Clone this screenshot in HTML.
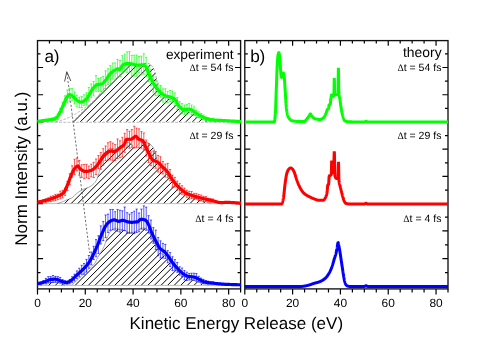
<!DOCTYPE html>
<html><head><meta charset="utf-8"><title>KER spectra</title>
<style>html,body{margin:0;padding:0;background:#fff;}body{width:491px;height:347px;overflow:hidden;}svg{display:block;will-change:transform;}text{font-family:"Liberation Sans",sans-serif;fill:#000;text-rendering:geometricPrecision;}</style>
</head><body>
<svg width="491" height="347" viewBox="0 0 491 347">
<rect x="0" y="0" width="491" height="347" fill="#ffffff"/>
<defs>
<clipPath id="clipA"><rect x="36.9" y="40.6" width="204.3" height="248.3"/></clipPath>
<clipPath id="clipB"><rect x="244.2" y="40.6" width="204.4" height="250.3"/></clipPath>
</defs>
<path d="M37.5 53.9 h3 M240.6 53.9 h-3 M37.5 67.52 h5.6 M240.6 67.52 h-5.6 M37.5 81.14 h3 M240.6 81.14 h-3 M37.5 94.76 h5.6 M240.6 94.76 h-5.6 M37.5 108.38 h3 M240.6 108.38 h-3 M37.5 122 h5.6 M240.6 122 h-5.6 M37.5 135.6 h3 M240.6 135.6 h-3 M37.5 149.22 h5.6 M240.6 149.22 h-5.6 M37.5 162.84 h3 M240.6 162.84 h-3 M37.5 176.46 h5.6 M240.6 176.46 h-5.6 M37.5 190.08 h3 M240.6 190.08 h-3 M37.5 203.7 h5.6 M240.6 203.7 h-5.6 M37.5 217.07 h3 M240.6 217.07 h-3 M37.5 230.94 h5.6 M240.6 230.94 h-5.6 M37.5 244.81 h3 M240.6 244.81 h-3 M37.5 258.68 h5.6 M240.6 258.68 h-5.6 M37.5 272.55 h3 M240.6 272.55 h-3 M244.8 53.9 h3 M448 53.9 h-3 M244.8 67.52 h5.6 M448 67.52 h-5.6 M244.8 81.14 h3 M448 81.14 h-3 M244.8 94.76 h5.6 M448 94.76 h-5.6 M244.8 108.38 h3 M448 108.38 h-3 M244.8 122 h5.6 M448 122 h-5.6 M244.8 135.6 h3 M448 135.6 h-3 M244.8 149.22 h5.6 M448 149.22 h-5.6 M244.8 162.84 h3 M448 162.84 h-3 M244.8 176.46 h5.6 M448 176.46 h-5.6 M244.8 190.08 h3 M448 190.08 h-3 M244.8 203.7 h5.6 M448 203.7 h-5.6 M244.8 217.07 h3 M448 217.07 h-3 M244.8 230.94 h5.6 M448 230.94 h-5.6 M244.8 244.81 h3 M448 244.81 h-3 M244.8 258.68 h5.6 M448 258.68 h-5.6 M244.8 272.55 h3 M448 272.55 h-3 M37.5 288.9 v5.7 M49.45 40.6 v3 M49.45 288.9 v3.6 M61.39 40.6 v3 M61.39 288.9 v3.6 M73.34 40.6 v3 M73.34 288.9 v3.6 M85.29 40.6 v5.2 M85.29 288.9 v5.7 M97.24 40.6 v3 M97.24 288.9 v3.6 M109.18 40.6 v3 M109.18 288.9 v3.6 M121.13 40.6 v3 M121.13 288.9 v3.6 M133.08 40.6 v5.2 M133.08 288.9 v5.7 M145.02 40.6 v3 M145.02 288.9 v3.6 M156.97 40.6 v3 M156.97 288.9 v3.6 M168.92 40.6 v3 M168.92 288.9 v3.6 M180.86 40.6 v5.2 M180.86 288.9 v5.7 M192.81 40.6 v3 M192.81 288.9 v3.6 M204.76 40.6 v3 M204.76 288.9 v3.6 M216.71 40.6 v3 M216.71 288.9 v3.6 M228.65 40.6 v5.2 M228.65 288.9 v5.7 M240.6 288.9 v3.6 M244.8 288.9 v5.7 M256.75 40.6 v3 M256.75 288.9 v3.6 M268.71 40.6 v3 M268.71 288.9 v3.6 M280.66 40.6 v3 M280.66 288.9 v3.6 M292.61 40.6 v5.2 M292.61 288.9 v5.7 M304.56 40.6 v3 M304.56 288.9 v3.6 M316.52 40.6 v3 M316.52 288.9 v3.6 M328.47 40.6 v3 M328.47 288.9 v3.6 M340.42 40.6 v5.2 M340.42 288.9 v5.7 M352.38 40.6 v3 M352.38 288.9 v3.6 M364.33 40.6 v3 M364.33 288.9 v3.6 M376.28 40.6 v3 M376.28 288.9 v3.6 M388.24 40.6 v5.2 M388.24 288.9 v5.7 M400.19 40.6 v3 M400.19 288.9 v3.6 M412.14 40.6 v3 M412.14 288.9 v3.6 M424.09 40.6 v3 M424.09 288.9 v3.6 M436.05 40.6 v5.2 M436.05 288.9 v5.7 M448 288.9 v3.6" fill="none" stroke="#000" stroke-width="1.2"/>
<rect x="37.5" y="40.6" width="203.1" height="248.3" fill="none" stroke="#111" stroke-width="1.35"/>
<rect x="244.8" y="40.6" width="203.2" height="248.3" fill="none" stroke="#111" stroke-width="1.35"/>
<g clip-path="url(#clipA)">
<clipPath id="h1"><path d="M72.8 121.8 L73.8 120.79 L74.8 119.78 L75.8 118.77 L76.8 117.76 L77.8 116.75 L78.8 115.74 L79.8 114.73 L80.8 113.72 L81.8 112.72 L82.8 111.71 L83.8 110.71 L84.8 109.7 L85.8 108.7 L86.8 107.72 L87.8 106.74 L88.8 105.77 L89.8 104.79 L90.8 103.81 L91.8 102.81 L92.8 101.8 L93.8 100.77 L94.8 99.72 L95.8 98.63 L96.8 97.54 L97.8 96.42 L98.8 95.28 L99.8 94.12 L100.8 92.93 L101.8 91.7 L102.8 90.43 L103.8 89.08 L104.8 87.63 L105.8 86.14 L106.8 84.67 L107.8 83.27 L108.8 81.95 L109.8 80.65 L110.8 79.37 L111.8 78.14 L112.8 76.95 L113.8 75.84 L114.8 74.79 L115.8 73.78 L116.8 72.81 L117.8 71.93 L118.8 71.14 L119.8 70.48 L120.8 69.93 L121.8 69.4 L122.8 68.83 L123.8 68.1 L124.8 67.2 L125.8 66.28 L126.8 65.5 L127.8 65.04 L128.8 64.88 L129.8 64.76 L130.8 64.65 L131.8 64.57 L132.8 64.52 L133.8 64.5 L134.8 64.57 L135.8 64.8 L136.8 65.09 L137.8 65.35 L138.8 65.5 L139.8 65.29 L140.8 64.65 L141.8 63.93 L142.8 63.51 L143.8 63.5 L144.8 63.5 L145.8 63.5 L146.8 63.5 L147.8 63.5 L148.8 63.64 L149.8 64.16 L150.8 64.97 L151.8 65.97 L152.8 67.14 L153.8 68.96 L154.8 71.44 L155.8 74.95 L156.8 80.35 L157.8 88 L158.8 90.93 L159.8 92.92 L160.8 94.28 L161.8 95.3 L162.8 96.14 L163.8 96.83 L164.8 97.41 L165.8 97.91 L166.8 98.32 L167.8 98.64 L168.8 98.9 L169.8 99.17 L170.8 99.48 L171.8 99.9 L172.8 100.54 L173.8 101.5 L174.8 102.63 L175.8 103.78 L176.8 104.96 L177.8 106.33 L178.8 107.71 L179.8 108.95 L180.8 109.87 L181.8 110.48 L182.8 111.03 L183.8 111.5 L184.8 111.84 L185.8 112 L186.8 112 L187.8 112 L188.8 112 L189.8 112 L190.8 112 L191.8 112.22 L192.8 112.95 L193.8 113.93 L194.8 114.85 L195.8 115.6 L196.8 116.38 L197.8 117.14 L198.8 117.83 L199.8 118.41 L200.8 118.85 L201.8 119.26 L202.8 119.62 L203.8 119.94 L204.8 120.22 L205.8 120.46 L206.8 120.66 L207.8 120.86 L208.8 121.06 L209.8 121.23 L210.8 121.39 L211.8 121.53 L212.8 121.65 L213.8 121.74 L214.8 121.79 L215 121.8 Z"/></clipPath>
<path d="M13.3 122.8 L73.6 62.5 M19.9 122.8 L80.2 62.5 M26.5 122.8 L86.8 62.5 M33.1 122.8 L93.4 62.5 M39.7 122.8 L100 62.5 M46.3 122.8 L106.6 62.5 M52.9 122.8 L113.2 62.5 M59.5 122.8 L119.8 62.5 M66.1 122.8 L126.4 62.5 M72.7 122.8 L133 62.5 M79.3 122.8 L139.6 62.5 M85.9 122.8 L146.2 62.5 M92.5 122.8 L152.8 62.5 M99.1 122.8 L159.4 62.5 M105.7 122.8 L166 62.5 M112.3 122.8 L172.6 62.5 M118.9 122.8 L179.2 62.5 M125.5 122.8 L185.8 62.5 M132.1 122.8 L192.4 62.5 M138.7 122.8 L199 62.5 M145.3 122.8 L205.6 62.5 M151.9 122.8 L212.2 62.5 M158.5 122.8 L218.8 62.5 M165.1 122.8 L225.4 62.5 M171.7 122.8 L232 62.5 M178.3 122.8 L238.6 62.5 M184.9 122.8 L245.2 62.5 M191.5 122.8 L251.8 62.5 M198.1 122.8 L258.4 62.5 M204.7 122.8 L265 62.5 M211.3 122.8 L271.6 62.5" clip-path="url(#h1)" fill="none" stroke="#000" stroke-width="1.0"/>
<path d="M72.8 121.8 L73.8 120.79 L74.8 119.78 L75.8 118.77 L76.8 117.76 L77.8 116.75 L78.8 115.74 L79.8 114.73 L80.8 113.72 L81.8 112.72 L82.8 111.71 L83.8 110.71 L84.8 109.7 L85.8 108.7 L86.8 107.72 L87.8 106.74 L88.8 105.77 L89.8 104.79 L90.8 103.81 L91.8 102.81 L92.8 101.8 L93.8 100.77 L94.8 99.72 L95.8 98.63 L96.8 97.54 L97.8 96.42 L98.8 95.28 L99.8 94.12 L100.8 92.93 L101.8 91.7 L102.8 90.43 L103.8 89.08 L104.8 87.63 L105.8 86.14 L106.8 84.67 L107.8 83.27 L108.8 81.95 L109.8 80.65 L110.8 79.37 L111.8 78.14 L112.8 76.95 L113.8 75.84 L114.8 74.79 L115.8 73.78 L116.8 72.81 L117.8 71.93 L118.8 71.14 L119.8 70.48 L120.8 69.93 L121.8 69.4 L122.8 68.83 L123.8 68.1 L124.8 67.2 L125.8 66.28 L126.8 65.5 L127.8 65.04 L128.8 64.88 L129.8 64.76 L130.8 64.65 L131.8 64.57 L132.8 64.52 L133.8 64.5 L134.8 64.57 L135.8 64.8 L136.8 65.09 L137.8 65.35 L138.8 65.5 L139.8 65.29 L140.8 64.65 L141.8 63.93 L142.8 63.51 L143.8 63.5 L144.8 63.5 L145.8 63.5 L146.8 63.5 L147.8 63.5 L148.8 63.64 L149.8 64.16 L150.8 64.97 L151.8 65.97 L152.8 67.14 L153.8 68.96 L154.8 71.44 L155.8 74.95 L156.8 80.35 L157.8 88 L158.8 90.93 L159.8 92.92 L160.8 94.28 L161.8 95.3 L162.8 96.14 L163.8 96.83 L164.8 97.41 L165.8 97.91 L166.8 98.32 L167.8 98.64 L168.8 98.9 L169.8 99.17 L170.8 99.48 L171.8 99.9 L172.8 100.54 L173.8 101.5 L174.8 102.63 L175.8 103.78 L176.8 104.96 L177.8 106.33 L178.8 107.71 L179.8 108.95 L180.8 109.87 L181.8 110.48 L182.8 111.03 L183.8 111.5 L184.8 111.84 L185.8 112 L186.8 112 L187.8 112 L188.8 112 L189.8 112 L190.8 112 L191.8 112.22 L192.8 112.95 L193.8 113.93 L194.8 114.85 L195.8 115.6 L196.8 116.38 L197.8 117.14 L198.8 117.83 L199.8 118.41 L200.8 118.85 L201.8 119.26 L202.8 119.62 L203.8 119.94 L204.8 120.22 L205.8 120.46 L206.8 120.66 L207.8 120.86 L208.8 121.06 L209.8 121.23 L210.8 121.39 L211.8 121.53 L212.8 121.65 L213.8 121.74 L214.8 121.79 L215 121.8" fill="none" stroke="#555" stroke-width="0.5" stroke-dasharray="2.5 1.5"/>
<line x1="37.5" y1="122.3" x2="240.6" y2="122.3" stroke="#888" stroke-width="0.55" stroke-dasharray="3 1.3"/>
<clipPath id="h2"><path d="M57 203.5 L58 203.27 L59 203.01 L60 202.7 L61 202.36 L62 202 L63 201.57 L64 201.07 L65 200.57 L66 200.12 L67 199.74 L68 199.41 L69 199.08 L70 198.72 L71 198.3 L72 197.77 L73 197.01 L74 196.09 L75 195.09 L76 194.1 L77 193.23 L78 192.5 L79 191.8 L80 191.14 L81 190.52 L82 189.96 L83 189.45 L84 189.01 L85 188.65 L86 188.32 L87 187.99 L88 187.61 L89 187.15 L90 186.61 L91 185.99 L92 185.28 L93 184.46 L94 183.53 L95 182.43 L96 180.94 L97 179 L98 176.26 L99 172.74 L100 169 L101 164.77 L102 161 L103 158.59 L104 156.66 L105 155 L106 153.3 L107 151.56 L108 150.02 L109 148.92 L110 148.5 L111 148.55 L112 148.69 L113 148.85 L114 149 L115 149.15 L116 149.31 L117 149.45 L118 149.5 L119 149.35 L120 148.96 L121 148.39 L122 147.71 L123 147 L124 145.9 L125 144.4 L126 143.07 L127 142.5 L128 142.57 L129 142.78 L130 143.09 L131 143.5 L132 144.86 L133 146.93 L134 148 L135 147.66 L136 146.87 L137 146 L138 144.93 L139 143.6 L140 142.48 L141 142 L142 142 L143 142 L144 142 L145 142 L146 142 L147 142.19 L148 142.69 L149 143.39 L150 144.18 L151 145 L152 146.01 L153 147.31 L154 149 L155 151.97 L156 155.79 L157 160.32 L158 163.1 L159 164.84 L160 166.2 L161 167.5 L162 168.81 L163 170.02 L164 171.18 L165 172.33 L166 173.5 L167 174.69 L168 175.88 L169 177.07 L170 178.27 L171 179.5 L172 180.79 L173 182.14 L174 183.5 L175 184.8 L176 186 L177 187.11 L178 188.18 L179 189.19 L180 190.13 L181 191 L182 191.8 L183 192.54 L184 193.24 L185 193.89 L186 194.5 L187 195.07 L188 195.62 L189 196.14 L190 196.63 L191 197.08 L192 197.5 L193 197.88 L194 198.23 L195 198.55 L196 198.86 L197 199.18 L198 199.5 L199 199.84 L200 200.19 L201 200.54 L202 200.88 L203 201.2 L204 201.5 L205 201.78 L206 202.05 L207 202.3 L208 202.55 L209 202.78 L210 203 L211 203.2 Z"/></clipPath>
<path d="M-2.4 204.5 L61.1 141 M4.2 204.5 L67.7 141 M10.8 204.5 L74.3 141 M17.4 204.5 L80.9 141 M24 204.5 L87.5 141 M30.6 204.5 L94.1 141 M37.2 204.5 L100.7 141 M43.8 204.5 L107.3 141 M50.4 204.5 L113.9 141 M57 204.5 L120.5 141 M63.6 204.5 L127.1 141 M70.2 204.5 L133.7 141 M76.8 204.5 L140.3 141 M83.4 204.5 L146.9 141 M90 204.5 L153.5 141 M96.6 204.5 L160.1 141 M103.2 204.5 L166.7 141 M109.8 204.5 L173.3 141 M116.4 204.5 L179.9 141 M123 204.5 L186.5 141 M129.6 204.5 L193.1 141 M136.2 204.5 L199.7 141 M142.8 204.5 L206.3 141 M149.4 204.5 L212.9 141 M156 204.5 L219.5 141 M162.6 204.5 L226.1 141 M169.2 204.5 L232.7 141 M175.8 204.5 L239.3 141 M182.4 204.5 L245.9 141 M189 204.5 L252.5 141 M195.6 204.5 L259.1 141 M202.2 204.5 L265.7 141 M208.8 204.5 L272.3 141" clip-path="url(#h2)" fill="none" stroke="#000" stroke-width="1.0"/>
<path d="M57 203.5 L58 203.27 L59 203.01 L60 202.7 L61 202.36 L62 202 L63 201.57 L64 201.07 L65 200.57 L66 200.12 L67 199.74 L68 199.41 L69 199.08 L70 198.72 L71 198.3 L72 197.77 L73 197.01 L74 196.09 L75 195.09 L76 194.1 L77 193.23 L78 192.5 L79 191.8 L80 191.14 L81 190.52 L82 189.96 L83 189.45 L84 189.01 L85 188.65 L86 188.32 L87 187.99 L88 187.61 L89 187.15 L90 186.61 L91 185.99 L92 185.28 L93 184.46 L94 183.53 L95 182.43 L96 180.94 L97 179 L98 176.26 L99 172.74 L100 169 L101 164.77 L102 161 L103 158.59 L104 156.66 L105 155 L106 153.3 L107 151.56 L108 150.02 L109 148.92 L110 148.5 L111 148.55 L112 148.69 L113 148.85 L114 149 L115 149.15 L116 149.31 L117 149.45 L118 149.5 L119 149.35 L120 148.96 L121 148.39 L122 147.71 L123 147 L124 145.9 L125 144.4 L126 143.07 L127 142.5 L128 142.57 L129 142.78 L130 143.09 L131 143.5 L132 144.86 L133 146.93 L134 148 L135 147.66 L136 146.87 L137 146 L138 144.93 L139 143.6 L140 142.48 L141 142 L142 142 L143 142 L144 142 L145 142 L146 142 L147 142.19 L148 142.69 L149 143.39 L150 144.18 L151 145 L152 146.01 L153 147.31 L154 149 L155 151.97 L156 155.79 L157 160.32 L158 163.1 L159 164.84 L160 166.2 L161 167.5 L162 168.81 L163 170.02 L164 171.18 L165 172.33 L166 173.5 L167 174.69 L168 175.88 L169 177.07 L170 178.27 L171 179.5 L172 180.79 L173 182.14 L174 183.5 L175 184.8 L176 186 L177 187.11 L178 188.18 L179 189.19 L180 190.13 L181 191 L182 191.8 L183 192.54 L184 193.24 L185 193.89 L186 194.5 L187 195.07 L188 195.62 L189 196.14 L190 196.63 L191 197.08 L192 197.5 L193 197.88 L194 198.23 L195 198.55 L196 198.86 L197 199.18 L198 199.5 L199 199.84 L200 200.19 L201 200.54 L202 200.88 L203 201.2 L204 201.5 L205 201.78 L206 202.05 L207 202.3 L208 202.55 L209 202.78 L210 203 L211 203.2" fill="none" stroke="#555" stroke-width="0.5"/>
<line x1="37.5" y1="203.6" x2="240.6" y2="203.6" stroke="#888" stroke-width="0.55"/>
<clipPath id="h3"><path d="M71.6 285.3 L72.6 284.42 L73.6 283.53 L74.6 282.63 L75.6 281.72 L76.6 280.79 L77.6 279.86 L78.6 278.92 L79.6 277.97 L80.6 277.01 L81.6 276.03 L82.6 275.02 L83.6 274 L84.6 272.97 L85.6 271.96 L86.6 270.97 L87.6 270.01 L88.6 269.15 L89.6 268.35 L90.6 267.58 L91.6 266.79 L92.6 265.91 L93.6 264.9 L94.6 263.7 L95.6 261.98 L96.6 259.83 L97.6 257.82 L98.6 256.1 L99.6 254.49 L100.6 252.87 L101.6 251.16 L102.6 249.33 L103.6 247.39 L104.6 245.23 L105.6 242.52 L106.6 239.43 L107.6 236.77 L108.6 234.53 L109.6 232.59 L110.6 231.29 L111.6 230.29 L112.6 229.41 L113.6 228.72 L114.6 228.29 L115.6 228.21 L116.6 228.38 L117.6 228.68 L118.6 229.05 L119.6 229.39 L120.6 229.65 L121.6 229.88 L122.6 230.1 L123.6 230.33 L124.6 230.59 L125.6 230.91 L126.6 231.35 L127.6 231.83 L128.6 232.24 L129.6 232.48 L130.6 232.49 L131.6 232.44 L132.6 232.34 L133.6 232.21 L134.6 232.05 L135.6 231.77 L136.6 231.15 L137.6 230.4 L138.6 229.71 L139.6 229.21 L140.6 228.7 L141.6 228.27 L142.6 228.03 L143.6 228.03 L144.6 228.18 L145.6 228.46 L146.6 228.83 L147.6 229.47 L148.6 231 L149.6 233.07 L150.6 235.22 L151.6 237.16 L152.6 239.22 L153.6 241.35 L154.6 243.42 L155.6 245.32 L156.6 246.98 L157.6 248.57 L158.6 250.07 L159.6 251.42 L160.6 252.59 L161.6 253.53 L162.6 254.26 L163.6 254.92 L164.6 255.65 L165.6 256.58 L166.6 257.69 L167.6 258.91 L168.6 260.2 L169.6 261.49 L170.6 262.78 L171.6 264.16 L172.6 265.59 L173.6 267 L174.6 268.35 L175.6 269.56 L176.6 270.62 L177.6 271.64 L178.6 272.6 L179.6 273.51 L180.6 274.34 L181.6 275.1 L182.6 275.76 L183.6 276.33 L184.6 276.84 L185.6 277.29 L186.6 277.71 L187.6 278.11 L188.6 278.48 L189.6 278.85 L190.6 279.22 L191.6 279.56 L192.6 279.89 L193.6 280.21 L194.6 280.53 L195.6 280.86 L196.6 281.22 L197.6 281.59 L198.6 281.97 L199.6 282.35 L200.6 282.73 L201.6 283.14 L202.6 283.54 L203.6 283.89 L204.6 284.16 L205.6 284.4 L206.6 284.62 L207.6 284.81 L208.6 284.95 L209 285 Z"/></clipPath>
<path d="M14.8 286.3 L74.07 227.03 M21.4 286.3 L80.67 227.03 M28 286.3 L87.27 227.03 M34.6 286.3 L93.87 227.03 M41.2 286.3 L100.47 227.03 M47.8 286.3 L107.07 227.03 M54.4 286.3 L113.67 227.03 M61 286.3 L120.27 227.03 M67.6 286.3 L126.87 227.03 M74.2 286.3 L133.47 227.03 M80.8 286.3 L140.07 227.03 M87.4 286.3 L146.67 227.03 M94 286.3 L153.27 227.03 M100.6 286.3 L159.87 227.03 M107.2 286.3 L166.47 227.03 M113.8 286.3 L173.07 227.03 M120.4 286.3 L179.67 227.03 M127 286.3 L186.27 227.03 M133.6 286.3 L192.87 227.03 M140.2 286.3 L199.47 227.03 M146.8 286.3 L206.07 227.03 M153.4 286.3 L212.67 227.03 M160 286.3 L219.27 227.03 M166.6 286.3 L225.87 227.03 M173.2 286.3 L232.47 227.03 M179.8 286.3 L239.07 227.03 M186.4 286.3 L245.67 227.03 M193 286.3 L252.27 227.03 M199.6 286.3 L258.87 227.03 M206.2 286.3 L265.47 227.03" clip-path="url(#h3)" fill="none" stroke="#000" stroke-width="1.0"/>
<path d="M71.6 285.3 L72.6 284.42 L73.6 283.53 L74.6 282.63 L75.6 281.72 L76.6 280.79 L77.6 279.86 L78.6 278.92 L79.6 277.97 L80.6 277.01 L81.6 276.03 L82.6 275.02 L83.6 274 L84.6 272.97 L85.6 271.96 L86.6 270.97 L87.6 270.01 L88.6 269.15 L89.6 268.35 L90.6 267.58 L91.6 266.79 L92.6 265.91 L93.6 264.9 L94.6 263.7 L95.6 261.98 L96.6 259.83 L97.6 257.82 L98.6 256.1 L99.6 254.49 L100.6 252.87 L101.6 251.16 L102.6 249.33 L103.6 247.39 L104.6 245.23 L105.6 242.52 L106.6 239.43 L107.6 236.77 L108.6 234.53 L109.6 232.59 L110.6 231.29 L111.6 230.29 L112.6 229.41 L113.6 228.72 L114.6 228.29 L115.6 228.21 L116.6 228.38 L117.6 228.68 L118.6 229.05 L119.6 229.39 L120.6 229.65 L121.6 229.88 L122.6 230.1 L123.6 230.33 L124.6 230.59 L125.6 230.91 L126.6 231.35 L127.6 231.83 L128.6 232.24 L129.6 232.48 L130.6 232.49 L131.6 232.44 L132.6 232.34 L133.6 232.21 L134.6 232.05 L135.6 231.77 L136.6 231.15 L137.6 230.4 L138.6 229.71 L139.6 229.21 L140.6 228.7 L141.6 228.27 L142.6 228.03 L143.6 228.03 L144.6 228.18 L145.6 228.46 L146.6 228.83 L147.6 229.47 L148.6 231 L149.6 233.07 L150.6 235.22 L151.6 237.16 L152.6 239.22 L153.6 241.35 L154.6 243.42 L155.6 245.32 L156.6 246.98 L157.6 248.57 L158.6 250.07 L159.6 251.42 L160.6 252.59 L161.6 253.53 L162.6 254.26 L163.6 254.92 L164.6 255.65 L165.6 256.58 L166.6 257.69 L167.6 258.91 L168.6 260.2 L169.6 261.49 L170.6 262.78 L171.6 264.16 L172.6 265.59 L173.6 267 L174.6 268.35 L175.6 269.56 L176.6 270.62 L177.6 271.64 L178.6 272.6 L179.6 273.51 L180.6 274.34 L181.6 275.1 L182.6 275.76 L183.6 276.33 L184.6 276.84 L185.6 277.29 L186.6 277.71 L187.6 278.11 L188.6 278.48 L189.6 278.85 L190.6 279.22 L191.6 279.56 L192.6 279.89 L193.6 280.21 L194.6 280.53 L195.6 280.86 L196.6 281.22 L197.6 281.59 L198.6 281.97 L199.6 282.35 L200.6 282.73 L201.6 283.14 L202.6 283.54 L203.6 283.89 L204.6 284.16 L205.6 284.4 L206.6 284.62 L207.6 284.81 L208.6 284.95 L209 285" fill="none" stroke="#555" stroke-width="0.5"/>
<line x1="37.5" y1="285.4" x2="240.6" y2="285.4" stroke="#888" stroke-width="0.55"/>
<clipPath id="h4"><path d="M45 285.3 L46 284.67 L47 284.09 L48 283.57 L49 283.14 L50 282.8 L51 282.51 L52 282.24 L53 282.01 L54 281.86 L55 281.8 L56 281.89 L57 282.13 L58 282.47 L59 282.84 L60 283.2 L61 283.56 L62 283.95 L63 284.37 L64 284.82 L65 285.3 Z"/></clipPath>
<path d="M41.2 286.3 L46.7 280.8 M47.8 286.3 L53.3 280.8 M54.4 286.3 L59.9 280.8 M61 286.3 L66.5 280.8" clip-path="url(#h4)" fill="none" stroke="#000" stroke-width="1.0"/>
<path d="M45 285.3 L46 284.67 L47 284.09 L48 283.57 L49 283.14 L50 282.8 L51 282.51 L52 282.24 L53 282.01 L54 281.86 L55 281.8 L56 281.89 L57 282.13 L58 282.47 L59 282.84 L60 283.2 L61 283.56 L62 283.95 L63 284.37 L64 284.82 L65 285.3" fill="none" stroke="#555" stroke-width="0.5"/>
<path d="M55.7 121.8 L56.7 121.59 L57.7 121.36 L58.7 121.11 L59.7 120.84 L60.7 120.54 L61.7 120.23 L62.7 119.9 L63.7 119.56 L64.7 119.21 L65.7 118.84 L66.7 118.45 L67.7 118.02 L68.7 117.57 L69.7 117.09 L70.7 116.58 L71.7 116.06 L72.7 115.51 L73.7 114.95 L74.7 114.39 L75.7 113.82 L76.7 113.23 L77.7 112.61 L78.7 111.97 L79.7 111.31 L80.7 110.63 L81.7 109.94 L82.7 109.25 L83.7 108.55 L84.7 107.86 L85.7 107.2 L86.7 106.57 L87.7 105.94 L88.7 105.31 L89.7 104.66 L90.7 103.99 L91.7 103.27 L92.7 102.49 L93.7 101.64 L94.7 100.7 L95.7 99.56 L96.7 98.2 L97.7 96.74 L98.7 95.28 L99.7 93.87 L100.7 92.42 L101.7 90.95 L102 90.5" fill="none" stroke="#666" stroke-width="0.5" stroke-dasharray="2.5 1.5"/>
<line x1="67.0" y1="73" x2="89.6" y2="253" stroke="#333" stroke-width="0.7" stroke-dasharray="2.2 1.8"/>
<path d="M64.6 81.6 L66.8 71.7 L70.8 81" fill="none" stroke="#333" stroke-width="0.85" stroke-linejoin="miter"/>
<path d="M38.7 120.95 V121.42 M37.6 120.95 H39.8 M37.6 121.42 H39.8 M41.09 120.69 V121.8 M39.99 120.69 H42.19 M39.99 121.8 H42.19 M43.48 119.59 V121.33 M42.38 119.59 H44.58 M42.38 121.33 H44.58 M45.87 119.73 V121.43 M44.77 119.73 H46.97 M44.77 121.43 H46.97 M48.26 119.34 V121.42 M47.16 119.34 H49.36 M47.16 121.42 H49.36 M50.65 118.31 V121.02 M49.55 118.31 H51.75 M49.55 121.02 H51.75 M53.03 117.92 V120.7 M51.93 117.92 H54.13 M51.93 120.7 H54.13 M55.42 116.77 V120.71 M54.32 116.77 H56.52 M54.32 120.71 H56.52 M57.81 114.17 V119.46 M56.71 114.17 H58.91 M56.71 119.46 H58.91 M60.2 108.49 V115.25 M59.1 108.49 H61.3 M59.1 115.25 H61.3 M62.59 102.2 V112.2 M61.49 102.2 H63.69 M61.49 112.2 H63.69 M64.98 95.79 V106 M63.88 95.79 H66.08 M63.88 106 H66.08 M67.37 90.06 V102.86 M66.27 90.06 H68.47 M66.27 102.86 H68.47 M69.76 88.36 V101.42 M68.66 88.36 H70.86 M68.66 101.42 H70.86 M72.15 88.6 V100.24 M71.05 88.6 H73.25 M71.05 100.24 H73.25 M74.54 91.83 V103.89 M73.44 91.83 H75.64 M73.44 103.89 H75.64 M76.92 95.23 V106.31 M75.82 95.23 H78.02 M75.82 106.31 H78.02 M79.31 97.12 V107.64 M78.21 97.12 H80.41 M78.21 107.64 H80.41 M81.7 96.43 V107.64 M80.6 96.43 H82.8 M80.6 107.64 H82.8 M84.09 94.78 V105.57 M82.99 94.78 H85.19 M82.99 105.57 H85.19 M86.48 92.82 V105.09 M85.38 92.82 H87.58 M85.38 105.09 H87.58 M88.87 87.54 V101.08 M87.77 87.54 H89.97 M87.77 101.08 H89.97 M91.26 83.93 V97.37 M90.16 83.93 H92.36 M90.16 97.37 H92.36 M93.65 81.58 V95.9 M92.55 81.58 H94.75 M92.55 95.9 H94.75 M96.04 75.59 V91.29 M94.94 75.59 H97.14 M94.94 91.29 H97.14 M98.43 78.51 V91.58 M97.33 78.51 H99.53 M97.33 91.58 H99.53 M100.81 77.63 V91.12 M99.71 77.63 H101.91 M99.71 91.12 H101.91 M103.2 76.46 V92.81 M102.1 76.46 H104.3 M102.1 92.81 H104.3 M105.59 70.84 V88.96 M104.49 70.84 H106.69 M104.49 88.96 H106.69 M107.98 68.76 V84.59 M106.88 68.76 H109.08 M106.88 84.59 H109.08 M110.37 65.58 V83.42 M109.27 65.58 H111.47 M109.27 83.42 H111.47 M112.76 63.03 V78.89 M111.66 63.03 H113.86 M111.66 78.89 H113.86 M115.15 62.91 V79.9 M114.05 62.91 H116.25 M114.05 79.9 H116.25 M117.54 59.36 V77.42 M116.44 59.36 H118.64 M116.44 77.42 H118.64 M119.93 60.38 V76.44 M118.83 60.38 H121.03 M118.83 76.44 H121.03 M122.32 55.61 V73.16 M121.22 55.61 H123.42 M121.22 73.16 H123.42 M124.7 54.12 V71.18 M123.6 54.12 H125.8 M123.6 71.18 H125.8 M127.09 51.9 V72.32 M125.99 51.9 H128.19 M125.99 72.32 H128.19 M129.48 51.65 V72.22 M128.38 51.65 H130.58 M128.38 72.22 H130.58 M131.87 55.33 V75.8 M130.77 55.33 H132.97 M130.77 75.8 H132.97 M134.26 55.22 V76.18 M133.16 55.22 H135.36 M133.16 76.18 H135.36 M136.65 55.03 V76.18 M135.55 55.03 H137.75 M135.55 76.18 H137.75 M139.04 56.56 V72.83 M137.94 56.56 H140.14 M137.94 72.83 H140.14 M141.43 56.06 V74.75 M140.33 56.06 H142.53 M140.33 74.75 H142.53 M143.82 53.72 V74.1 M142.72 53.72 H144.92 M142.72 74.1 H144.92 M146.21 57.29 V76.66 M145.11 57.29 H147.31 M145.11 76.66 H147.31 M148.59 66.42 V81.71 M147.49 66.42 H149.69 M147.49 81.71 H149.69 M150.98 69.73 V85.8 M149.88 69.73 H152.08 M149.88 85.8 H152.08 M153.37 76.21 V92.1 M152.27 76.21 H154.47 M152.27 92.1 H154.47 M155.76 80.01 V95.72 M154.66 80.01 H156.86 M154.66 95.72 H156.86 M158.15 83.21 V95.21 M157.05 83.21 H159.25 M157.05 95.21 H159.25 M160.54 85.5 V97.22 M159.44 85.5 H161.64 M159.44 97.22 H161.64 M162.93 88.87 V102.05 M161.83 88.87 H164.03 M161.83 102.05 H164.03 M165.32 88.77 V103.12 M164.22 88.77 H166.42 M164.22 103.12 H166.42 M167.71 91.54 V102.73 M166.61 91.54 H168.81 M166.61 102.73 H168.81 M170.1 90.51 V101.58 M169 90.51 H171.2 M169 101.58 H171.2 M172.48 91.07 V102.31 M171.38 91.07 H173.58 M171.38 102.31 H173.58 M174.87 92.9 V105.73 M173.77 92.9 H175.97 M173.77 105.73 H175.97 M177.26 97.54 V109.31 M176.16 97.54 H178.36 M176.16 109.31 H178.36 M179.65 101.54 V111.9 M178.55 101.54 H180.75 M178.55 111.9 H180.75 M182.04 103.56 V113.63 M180.94 103.56 H183.14 M180.94 113.63 H183.14 M184.43 105.03 V114.46 M183.33 105.03 H185.53 M183.33 114.46 H185.53 M186.82 104.48 V114.22 M185.72 104.48 H187.92 M185.72 114.22 H187.92 M189.21 103.46 V112.88 M188.11 103.46 H190.31 M188.11 112.88 H190.31 M191.6 105.08 V114.65 M190.5 105.08 H192.7 M190.5 114.65 H192.7 M193.99 106.83 V115.42 M192.89 106.83 H195.09 M192.89 115.42 H195.09 M196.37 110.42 V117.68 M195.27 110.42 H197.47 M195.27 117.68 H197.47 M198.76 111.79 V117.46 M197.66 111.79 H199.86 M197.66 117.46 H199.86 M201.15 113.47 V118.5 M200.05 113.47 H202.25 M200.05 118.5 H202.25 M203.54 115.03 V119.7 M202.44 115.03 H204.64 M202.44 119.7 H204.64 M205.93 117.15 V120.78 M204.83 117.15 H207.03 M204.83 120.78 H207.03 M208.32 117.66 V120.79 M207.22 117.66 H209.42 M207.22 120.79 H209.42 M210.71 118.81 V121.11 M209.61 118.81 H211.81 M209.61 121.11 H211.81 M213.1 118.22 V120.65 M212 118.22 H214.2 M212 120.65 H214.2 M215.49 119.57 V121.7 M214.39 119.57 H216.59 M214.39 121.7 H216.59 M217.88 119.34 V121.17 M216.78 119.34 H218.98 M216.78 121.17 H218.98 M220.26 119.39 V120.93 M219.16 119.39 H221.36 M219.16 120.93 H221.36 M222.65 119.67 V120.88 M221.55 119.67 H223.75 M221.55 120.88 H223.75 M225.04 119.96 V121.31 M223.94 119.96 H226.14 M223.94 121.31 H226.14 M227.43 120.11 V121.15 M226.33 120.11 H228.53 M226.33 121.15 H228.53 M229.82 120.91 V121.76 M228.72 120.91 H230.92 M228.72 121.76 H230.92 M232.21 121.06 V121.81 M231.11 121.06 H233.31 M231.11 121.81 H233.31 M234.6 120.73 V121.42 M233.5 120.73 H235.7 M233.5 121.42 H235.7 M236.99 121.02 V121.46 M235.89 121.02 H238.09 M235.89 121.46 H238.09 M239.38 121.15 V121.37 M238.28 121.15 H240.48 M238.28 121.37 H240.48" fill="none" stroke="#00ff00" stroke-width="0.65"/>
<path d="M37.5 121.45 L38 121.35 L38.5 121.26 L39 121.17 L39.5 121.1 L40 121.03 L40.5 120.96 L41 120.9 L41.5 120.82 L42 120.75 L42.5 120.67 L43 120.6 L43.5 120.53 L44 120.46 L44.5 120.39 L45 120.33 L45.5 120.27 L46 120.21 L46.5 120.16 L47 120.1 L47.5 120.05 L48 120 L48.5 119.94 L49 119.89 L49.5 119.83 L50 119.77 L50.5 119.71 L51 119.64 L51.5 119.56 L52 119.47 L52.5 119.38 L53 119.28 L53.5 119.14 L54 118.99 L54.5 118.82 L55 118.65 L55.5 118.47 L56 118.29 L56.5 117.9 L57 117.32 L57.5 116.58 L58 115.75 L58.5 114.87 L59 113.94 L59.5 113.02 L60 112.12 L60.5 111.21 L61 110.2 L61.5 109.12 L62 107.99 L62.5 106.82 L63 105.66 L63.5 104.5 L64 103.37 L64.5 102.28 L65 101.13 L65.5 99.96 L66 98.83 L66.5 97.84 L67 97.05 L67.5 96.34 L68 95.59 L68.5 94.97 L69 94.59 L69.5 94.54 L70 94.64 L70.5 94.81 L71 95.08 L71.5 95.42 L72 95.78 L72.5 96.19 L73 96.58 L73.5 97 L74 97.46 L74.5 97.94 L75 98.45 L75.5 98.96 L76 99.44 L76.5 99.88 L77 100.26 L77.5 100.59 L78 100.89 L78.5 101.2 L79 101.49 L79.5 101.73 L80 101.92 L80.5 102.03 L81 102.05 L81.5 101.99 L82 101.87 L82.5 101.69 L83 101.47 L83.5 101.2 L84 100.9 L84.5 100.55 L85 100.17 L85.5 99.77 L86 99.36 L86.5 98.85 L87 98.26 L87.5 97.54 L88 96.73 L88.5 95.87 L89 95.01 L89.5 94.2 L90 93.41 L90.5 92.54 L91 91.62 L91.5 90.7 L92 89.81 L92.5 89 L93 88.31 L93.5 87.76 L94 87.2 L94.5 86.64 L95 86.12 L95.5 85.66 L96 85.28 L96.5 84.97 L97 84.78 L97.5 84.67 L98 84.58 L98.5 84.51 L99 84.42 L99.5 84.33 L100 84.25 L100.5 84.15 L101 84.06 L101.5 83.97 L102 83.84 L102.5 83.57 L103 83.17 L103.5 82.68 L104 82.13 L104.5 81.53 L105 80.93 L105.5 80.34 L106 79.75 L106.5 79.07 L107 78.31 L107.5 77.52 L108 76.71 L108.5 75.91 L109 75.15 L109.5 74.47 L110 73.88 L110.5 73.4 L111 72.92 L111.5 72.48 L112 72.06 L112.5 71.67 L113 71.31 L113.5 70.97 L114 70.66 L114.5 70.37 L115 70.09 L115.5 69.8 L116 69.47 L116.5 69.15 L117 68.9 L117.5 68.77 L118 68.8 L118.5 69.1 L119 69.39 L119.5 69.41 L120 68.99 L120.5 68.49 L121 67.73 L121.5 66.86 L122 66.02 L122.5 65.31 L123 64.82 L123.5 64.56 L124 64.32 L124.5 64.12 L125 63.95 L125.5 63.8 L126 63.69 L126.5 63.62 L127 63.55 L127.5 63.54 L128 63.54 L128.5 63.55 L129 63.56 L129.5 63.58 L130 63.64 L130.5 63.71 L131 63.79 L131.5 63.88 L132 64 L132.5 64.11 L133 64.25 L133.5 64.4 L134 64.55 L134.5 64.68 L135 64.76 L135.5 64.84 L136 64.92 L136.5 65 L137 65.06 L137.5 65.1 L138 65.13 L138.5 65.14 L139 65.14 L139.5 65.2 L140 65.24 L140.5 65.12 L141 64.92 L141.5 64.76 L142 64.75 L142.5 64.84 L143 64.98 L143.5 65.17 L144 65.41 L144.5 65.7 L145 66.03 L145.5 66.39 L146 66.92 L146.5 67.74 L147 68.78 L147.5 70.02 L148 71.37 L148.5 72.7 L149 73.98 L149.5 75.11 L150 76.2 L150.5 77.29 L151 78.36 L151.5 79.42 L152 80.45 L152.5 81.45 L153 82.46 L153.5 83.44 L154 84.37 L154.5 85.23 L155 86.01 L155.5 86.7 L156 87.37 L156.5 88.03 L157 88.67 L157.5 89.28 L158 89.87 L158.5 90.43 L159 90.97 L159.5 91.48 L160 91.95 L160.5 92.4 L161 92.85 L161.5 93.26 L162 93.64 L162.5 94.01 L163 94.34 L163.5 94.64 L164 94.93 L164.5 95.19 L165 95.45 L165.5 95.68 L166 95.88 L166.5 96.07 L167 96.25 L167.5 96.4 L168 96.54 L168.5 96.66 L169 96.77 L169.5 96.87 L170 96.97 L170.5 97.11 L171 97.27 L171.5 97.44 L172 97.63 L172.5 97.83 L173 98.09 L173.5 98.38 L174 98.71 L174.5 99.1 L175 99.52 L175.5 99.89 L176 100.37 L176.5 101.32 L177 102.61 L177.5 103.85 L178 104.72 L178.5 105.41 L179 106.01 L179.5 106.54 L180 107.04 L180.5 107.47 L181 107.88 L181.5 108.29 L182 108.68 L182.5 109.03 L183 109.32 L183.5 109.54 L184 109.66 L184.5 109.68 L185 109.68 L185.5 109.64 L186 109.56 L186.5 109.46 L187 109.35 L187.5 109.25 L188 109.17 L188.5 109.13 L189 109.15 L189.5 109.22 L190 109.31 L190.5 109.43 L191 109.56 L191.5 109.72 L192 109.91 L192.5 110.25 L193 110.7 L193.5 111.2 L194 111.69 L194.5 112.17 L195 112.54 L195.5 112.89 L196 113.22 L196.5 113.53 L197 113.85 L197.5 114.15 L198 114.44 L198.5 114.72 L199 115.01 L199.5 115.29 L200 115.57 L200.5 115.85 L201 116.13 L201.5 116.4 L202 116.66 L202.5 116.92 L203 117.16 L203.5 117.39 L204 117.61 L204.5 117.82 L205 118.03 L205.5 118.23 L206 118.42 L206.5 118.59 L207 118.75 L207.5 118.9 L208 119.05 L208.5 119.18 L209 119.31 L209.5 119.42 L210 119.51 L210.5 119.59 L211 119.67 L211.5 119.73 L212 119.79 L212.5 119.85 L213 119.9 L213.5 119.96 L214 120.02 L214.5 120.07 L215 120.11 L215.5 120.16 L216 120.19 L216.5 120.22 L217 120.25 L217.5 120.28 L218 120.3 L218.5 120.33 L219 120.35 L219.5 120.38 L220 120.4 L220.5 120.42 L221 120.44 L221.5 120.46 L222 120.48 L222.5 120.5 L223 120.53 L223.5 120.56 L224 120.59 L224.5 120.62 L225 120.65 L225.5 120.69 L226 120.73 L226.5 120.76 L227 120.79 L227.5 120.83 L228 120.86 L228.5 120.9 L229 120.93 L229.5 120.96 L230 121 L230.5 121.02 L231 121.04 L231.5 121.07 L232 121.1 L232.5 121.12 L233 121.14 L233.5 121.16 L234 121.18 L234.5 121.2 L235 121.22 L235.5 121.24 L236 121.26 L236.5 121.28 L237 121.31 L237.5 121.33 L238 121.36 L238.5 121.39 L239 121.42 L239.5 121.45 L240 121.5 L240.5 121.54 L241 121.59" fill="none" stroke="#00ff00" stroke-width="3.2" stroke-linejoin="round" stroke-linecap="butt"/>
<path d="M38.7 201.15 V202.48 M37.6 201.15 H39.8 M37.6 202.48 H39.8 M41.09 200.77 V202.68 M39.99 200.77 H42.19 M39.99 202.68 H42.19 M43.48 199.47 V202.16 M42.38 199.47 H44.58 M42.38 202.16 H44.58 M45.87 198.9 V202.63 M44.77 198.9 H46.97 M44.77 202.63 H46.97 M48.26 197.86 V201.71 M47.16 197.86 H49.36 M47.16 201.71 H49.36 M50.65 196.24 V201.56 M49.55 196.24 H51.75 M49.55 201.56 H51.75 M53.03 195.8 V200.86 M51.93 195.8 H54.13 M51.93 200.86 H54.13 M55.42 194.6 V200.71 M54.32 194.6 H56.52 M54.32 200.71 H56.52 M57.81 194.04 V199.69 M56.71 194.04 H58.91 M56.71 199.69 H58.91 M60.2 191.21 V198.86 M59.1 191.21 H61.3 M59.1 198.86 H61.3 M62.59 190.42 V197.86 M61.49 190.42 H63.69 M61.49 197.86 H63.69 M64.98 188.2 V195.38 M63.88 188.2 H66.08 M63.88 195.38 H66.08 M67.37 181.4 V190.46 M66.27 181.4 H68.47 M66.27 190.46 H68.47 M69.76 173.71 V184.73 M68.66 173.71 H70.86 M68.66 184.73 H70.86 M72.15 165.77 V177.23 M71.05 165.77 H73.25 M71.05 177.23 H73.25 M74.54 159.28 V174.73 M73.44 159.28 H75.64 M73.44 174.73 H75.64 M76.92 157.98 V170.74 M75.82 157.98 H78.02 M75.82 170.74 H78.02 M79.31 160.44 V175.29 M78.21 160.44 H80.41 M78.21 175.29 H80.41 M81.7 164.81 V177.4 M80.6 164.81 H82.8 M80.6 177.4 H82.8 M84.09 164.42 V178.79 M82.99 164.42 H85.19 M82.99 178.79 H85.19 M86.48 164.33 V177.92 M85.38 164.33 H87.58 M85.38 177.92 H87.58 M88.87 166.06 V178.63 M87.77 166.06 H89.97 M87.77 178.63 H89.97 M91.26 164.19 V176.78 M90.16 164.19 H92.36 M90.16 176.78 H92.36 M93.65 162.32 V177.47 M92.55 162.32 H94.75 M92.55 177.47 H94.75 M96.04 159.01 V174.54 M94.94 159.01 H97.14 M94.94 174.54 H97.14 M98.43 155.48 V168.61 M97.33 155.48 H99.53 M97.33 168.61 H99.53 M100.81 152.57 V169.23 M99.71 152.57 H101.91 M99.71 169.23 H101.91 M103.2 148.71 V165.12 M102.1 148.71 H104.3 M102.1 165.12 H104.3 M105.59 145.96 V160.48 M104.49 145.96 H106.69 M104.49 160.48 H106.69 M107.98 142.73 V159.93 M106.88 142.73 H109.08 M106.88 159.93 H109.08 M110.37 141.7 V159.96 M109.27 141.7 H111.47 M109.27 159.96 H111.47 M112.76 143.09 V160.33 M111.66 143.09 H113.86 M111.66 160.33 H113.86 M115.15 144.57 V160.7 M114.05 144.57 H116.25 M114.05 160.7 H116.25 M117.54 138.98 V158.58 M116.44 138.98 H118.64 M116.44 158.58 H118.64 M119.93 140.82 V157.7 M118.83 140.82 H121.03 M118.83 157.7 H121.03 M122.32 137.33 V157.01 M121.22 137.33 H123.42 M121.22 157.01 H123.42 M124.7 133.38 V152.35 M123.6 133.38 H125.8 M123.6 152.35 H125.8 M127.09 129.61 V147.59 M125.99 129.61 H128.19 M125.99 147.59 H128.19 M129.48 131.26 V148.26 M128.38 131.26 H130.58 M128.38 148.26 H130.58 M131.87 129.58 V147.34 M130.77 129.58 H132.97 M130.77 147.34 H132.97 M134.26 126.28 V148.01 M133.16 126.28 H135.36 M133.16 148.01 H135.36 M136.65 128.17 V147.62 M135.55 128.17 H137.75 M135.55 147.62 H137.75 M139.04 128.88 V147.8 M137.94 128.88 H140.14 M137.94 147.8 H140.14 M141.43 131.58 V148.14 M140.33 131.58 H142.53 M140.33 148.14 H142.53 M143.82 132.99 V149.35 M142.72 132.99 H144.92 M142.72 149.35 H144.92 M146.21 140.03 V156.06 M145.11 140.03 H147.31 M145.11 156.06 H147.31 M148.59 143.51 V162.56 M147.49 143.51 H149.69 M147.49 162.56 H149.69 M150.98 151.88 V165.69 M149.88 151.88 H152.08 M149.88 165.69 H152.08 M153.37 150.95 V167.95 M152.27 150.95 H154.47 M152.27 167.95 H154.47 M155.76 151.64 V168.24 M154.66 151.64 H156.86 M154.66 168.24 H156.86 M158.15 155.46 V171.99 M157.05 155.46 H159.25 M157.05 171.99 H159.25 M160.54 156.81 V173 M159.44 156.81 H161.64 M159.44 173 H161.64 M162.93 161.43 V173.97 M161.83 161.43 H164.03 M161.83 173.97 H164.03 M165.32 164.11 V177.04 M164.22 164.11 H166.42 M164.22 177.04 H166.42 M167.71 163.42 V177.83 M166.61 163.42 H168.81 M166.61 177.83 H168.81 M170.1 169.5 V180.82 M169 169.5 H171.2 M169 180.82 H171.2 M172.48 175.08 V187.33 M171.38 175.08 H173.58 M171.38 187.33 H173.58 M174.87 177.36 V187.04 M173.77 177.36 H175.97 M173.77 187.04 H175.97 M177.26 181.1 V190.16 M176.16 181.1 H178.36 M176.16 190.16 H178.36 M179.65 183.43 V193.74 M178.55 183.43 H180.75 M178.55 193.74 H180.75 M182.04 185.69 V194.26 M180.94 185.69 H183.14 M180.94 194.26 H183.14 M184.43 188.06 V194.9 M183.33 188.06 H185.53 M183.33 194.9 H185.53 M186.82 190.23 V197.28 M185.72 190.23 H187.92 M185.72 197.28 H187.92 M189.21 191.28 V199.2 M188.11 191.28 H190.31 M188.11 199.2 H190.31 M191.6 191.54 V198.69 M190.5 191.54 H192.7 M190.5 198.69 H192.7 M193.99 193.34 V198.96 M192.89 193.34 H195.09 M192.89 198.96 H195.09 M196.37 193.43 V199.03 M195.27 193.43 H197.47 M195.27 199.03 H197.47 M198.76 194.54 V200.57 M197.66 194.54 H199.86 M197.66 200.57 H199.86 M201.15 195 V200.79 M200.05 195 H202.25 M200.05 200.79 H202.25 M203.54 196.29 V201.7 M202.44 196.29 H204.64 M202.44 201.7 H204.64 M205.93 196.55 V201.31 M204.83 196.55 H207.03 M204.83 201.31 H207.03 M208.32 198.22 V201.96 M207.22 198.22 H209.42 M207.22 201.96 H209.42 M210.71 198.71 V202.36 M209.61 198.71 H211.81 M209.61 202.36 H211.81 M213.1 198.97 V202.08 M212 198.97 H214.2 M212 202.08 H214.2 M215.49 200.52 V202.16 M214.39 200.52 H216.59 M214.39 202.16 H216.59 M217.88 201.47 V202.43 M216.78 201.47 H218.98 M216.78 202.43 H218.98 M220.26 202.1 V202.68 M219.16 202.1 H221.36 M219.16 202.68 H221.36 M222.65 202.27 V202.92 M221.55 202.27 H223.75 M221.55 202.92 H223.75 M225.04 201.93 V202.78 M223.94 201.93 H226.14 M223.94 202.78 H226.14 M227.43 202.21 V203.22 M226.33 202.21 H228.53 M226.33 203.22 H228.53 M229.82 202.3 V203.2 M228.72 202.3 H230.92 M228.72 203.2 H230.92 M232.21 202.1 V202.88 M231.11 202.1 H233.31 M231.11 202.88 H233.31 M234.6 202.41 V203.05 M233.5 202.41 H235.7 M233.5 203.05 H235.7 M236.99 202.62 V203.09 M235.89 202.62 H238.09 M235.89 203.09 H238.09 M239.38 203.25 V203.48 M238.28 203.25 H240.48 M238.28 203.48 H240.48" fill="none" stroke="#ff0000" stroke-width="0.65"/>
<path d="M37.5 202.18 L38 202.07 L38.5 201.95 L39 201.84 L39.5 201.75 L40 201.65 L40.5 201.55 L41 201.45 L41.5 201.34 L42 201.23 L42.5 201.11 L43 200.99 L43.5 200.88 L44 200.75 L44.5 200.63 L45 200.5 L45.5 200.37 L46 200.24 L46.5 200.11 L47 199.97 L47.5 199.83 L48 199.69 L48.5 199.55 L49 199.4 L49.5 199.26 L50 199.11 L50.5 198.95 L51 198.8 L51.5 198.64 L52 198.48 L52.5 198.32 L53 198.15 L53.5 197.98 L54 197.8 L54.5 197.62 L55 197.43 L55.5 197.24 L56 197.04 L56.5 196.84 L57 196.63 L57.5 196.41 L58 196.19 L58.5 195.94 L59 195.69 L59.5 195.45 L60 195.22 L60.5 194.96 L61 194.67 L61.5 194.37 L62 194.03 L62.5 193.67 L63 193.27 L63.5 192.84 L64 192.28 L64.5 191.5 L65 190.55 L65.5 189.53 L66 188.41 L66.5 187.26 L67 186.11 L67.5 184.97 L68 183.71 L68.5 182.35 L69 180.94 L69.5 179.54 L70 178.15 L70.5 176.82 L71 175.61 L71.5 174.43 L72 173.26 L72.5 172.14 L73 171.1 L73.5 170.16 L74 169.33 L74.5 168.64 L75 168.08 L75.5 167.53 L76 167.02 L76.5 166.6 L77 166.29 L77.5 166.06 L78 166.08 L78.5 166.49 L79 167.16 L79.5 167.92 L80 168.62 L80.5 169.1 L81 169.42 L81.5 169.75 L82 170.1 L82.5 170.45 L83 170.76 L83.5 171.02 L84 171.22 L84.5 171.37 L85 171.44 L85.5 171.45 L86 171.44 L86.5 171.41 L87 171.37 L87.5 171.3 L88 171.23 L88.5 171.14 L89 171.03 L89.5 170.88 L90 170.73 L90.5 170.57 L91 170.41 L91.5 170.2 L92 169.95 L92.5 169.66 L93 169.34 L93.5 168.98 L94 168.59 L94.5 168.16 L95 167.72 L95.5 167.24 L96 166.74 L96.5 166.18 L97 165.54 L97.5 164.83 L98 164.07 L98.5 163.28 L99 162.51 L99.5 161.75 L100 161.04 L100.5 160.31 L101 159.54 L101.5 158.74 L102 157.95 L102.5 157.18 L103 156.46 L103.5 155.77 L104 155.16 L104.5 154.67 L105 154.2 L105.5 153.73 L106 153.29 L106.5 152.87 L107 152.47 L107.5 152.12 L108 151.8 L108.5 151.54 L109 151.34 L109.5 151.21 L110 151.15 L110.5 151.15 L111 151.16 L111.5 151.21 L112 151.29 L112.5 151.37 L113 151.45 L113.5 151.53 L114 151.57 L114.5 151.55 L115 151.42 L115.5 151.24 L116 150.98 L116.5 150.65 L117 150.26 L117.5 149.82 L118 149.37 L118.5 148.92 L119 148.48 L119.5 148.09 L120 147.72 L120.5 147.32 L121 146.96 L121.5 146.64 L122 146.32 L122.5 146.02 L123 145.75 L123.5 145.4 L124 144.9 L124.5 143.84 L125 142.46 L125.5 141.07 L126 139.91 L126.5 139.3 L127 139.39 L127.5 139.36 L128 139.3 L128.5 139.27 L129 139.25 L129.5 139.23 L130 139.27 L130.5 139.29 L131 139.26 L131.5 139.1 L132 138.81 L132.5 138.53 L133 138.16 L133.5 137.75 L134 137.34 L134.5 136.92 L135 136.55 L135.5 136.31 L136 136.25 L136.5 136.58 L137 137.14 L137.5 137.85 L138 138.56 L138.5 139.08 L139 139.21 L139.5 139.42 L140 139.61 L140.5 139.77 L141 139.93 L141.5 140.08 L142 140.21 L142.5 140.39 L143 140.91 L143.5 141.92 L144 143.18 L144.5 144.5 L145 145.77 L145.5 146.83 L146 147.77 L146.5 148.77 L147 149.79 L147.5 150.78 L148 151.76 L148.5 152.71 L149 153.59 L149.5 154.5 L150 155.47 L150.5 156.47 L151 157.44 L151.5 158.36 L152 159.16 L152.5 159.8 L153 160.22 L153.5 160.45 L154 160.7 L154.5 160.91 L155 161.1 L155.5 161.27 L156 161.44 L156.5 161.63 L157 161.83 L157.5 162.07 L158 162.38 L158.5 162.73 L159 163.15 L159.5 163.63 L160 164.17 L160.5 164.74 L161 165.3 L161.5 165.84 L162 166.35 L162.5 166.82 L163 167.27 L163.5 167.74 L164 168.2 L164.5 168.67 L165 169.15 L165.5 169.65 L166 170.16 L166.5 170.71 L167 171.29 L167.5 171.9 L168 172.55 L168.5 173.29 L169 174.12 L169.5 175 L170 175.89 L170.5 176.8 L171 177.66 L171.5 178.41 L172 179.12 L172.5 179.8 L173 180.49 L173.5 181.15 L174 181.79 L174.5 182.42 L175 183.03 L175.5 183.62 L176 184.2 L176.5 184.77 L177 185.33 L177.5 185.87 L178 186.38 L178.5 186.89 L179 187.38 L179.5 187.86 L180 188.32 L180.5 188.78 L181 189.21 L181.5 189.64 L182 190.07 L182.5 190.49 L183 190.9 L183.5 191.29 L184 191.67 L184.5 192.02 L185 192.37 L185.5 192.69 L186 192.98 L186.5 193.24 L187 193.49 L187.5 193.73 L188 193.95 L188.5 194.17 L189 194.37 L189.5 194.56 L190 194.73 L190.5 194.9 L191 195.07 L191.5 195.23 L192 195.4 L192.5 195.56 L193 195.72 L193.5 195.88 L194 196.04 L194.5 196.2 L195 196.35 L195.5 196.5 L196 196.65 L196.5 196.8 L197 196.96 L197.5 197.11 L198 197.26 L198.5 197.4 L199 197.54 L199.5 197.67 L200 197.8 L200.5 197.93 L201 198.05 L201.5 198.17 L202 198.3 L202.5 198.42 L203 198.54 L203.5 198.66 L204 198.78 L204.5 198.89 L205 199 L205.5 199.12 L206 199.24 L206.5 199.36 L207 199.47 L207.5 199.59 L208 199.71 L208.5 199.82 L209 199.93 L209.5 200.04 L210 200.15 L210.5 200.26 L211 200.37 L211.5 200.48 L212 200.59 L212.5 200.7 L213 200.82 L213.5 200.93 L214 201.07 L214.5 201.21 L215 201.36 L215.5 201.51 L216 201.67 L216.5 201.82 L217 201.96 L217.5 202.09 L218 202.21 L218.5 202.33 L219 202.42 L219.5 202.49 L220 202.53 L220.5 202.54 L221 202.55 L221.5 202.56 L222 202.55 L222.5 202.54 L223 202.53 L223.5 202.51 L224 202.49 L224.5 202.47 L225 202.45 L225.5 202.43 L226 202.41 L226.5 202.4 L227 202.4 L227.5 202.41 L228 202.41 L228.5 202.41 L229 202.43 L229.5 202.44 L230 202.46 L230.5 202.48 L231 202.5 L231.5 202.53 L232 202.55 L232.5 202.58 L233 202.61 L233.5 202.65 L234 202.68 L234.5 202.71 L235 202.74 L235.5 202.78 L236 202.81 L236.5 202.85 L237 202.89 L237.5 202.93 L238 202.97 L238.5 203.02 L239 203.06 L239.5 203.11 L240 203.15 L240.5 203.2 L241 203.25" fill="none" stroke="#ff0000" stroke-width="3.2" stroke-linejoin="round" stroke-linecap="butt"/>
<path d="M38.7 282.43 V284.06 M37.6 282.43 H39.8 M37.6 284.06 H39.8 M41.09 282.02 V284.7 M39.99 282.02 H42.19 M39.99 284.7 H42.19 M43.48 280.54 V283.87 M42.38 280.54 H44.58 M42.38 283.87 H44.58 M45.87 278.37 V283.38 M44.77 278.37 H46.97 M44.77 283.38 H46.97 M48.26 276.63 V282.71 M47.16 276.63 H49.36 M47.16 282.71 H49.36 M50.65 276.56 V282.37 M49.55 276.56 H51.75 M49.55 282.37 H51.75 M53.03 275.51 V282.57 M51.93 275.51 H54.13 M51.93 282.57 H54.13 M55.42 276.35 V282.37 M54.32 276.35 H56.52 M54.32 282.37 H56.52 M57.81 276.6 V282.69 M56.71 276.6 H58.91 M56.71 282.69 H58.91 M60.2 277.44 V282.84 M59.1 277.44 H61.3 M59.1 282.84 H61.3 M62.59 279.65 V284.01 M61.49 279.65 H63.69 M61.49 284.01 H63.69 M64.98 280.63 V283.95 M63.88 280.63 H66.08 M63.88 283.95 H66.08 M67.37 280.95 V284.18 M66.27 280.95 H68.47 M66.27 284.18 H68.47 M69.76 279.33 V283.75 M68.66 279.33 H70.86 M68.66 283.75 H70.86 M72.15 276.76 V282.67 M71.05 276.76 H73.25 M71.05 282.67 H73.25 M74.54 274.2 V281.06 M73.44 274.2 H75.64 M73.44 281.06 H75.64 M76.92 270.9 V278.75 M75.82 270.9 H78.02 M75.82 278.75 H78.02 M79.31 268.26 V276.9 M78.21 268.26 H80.41 M78.21 276.9 H80.41 M81.7 265.32 V274.28 M80.6 265.32 H82.8 M80.6 274.28 H82.8 M84.09 263.48 V274.19 M82.99 263.48 H85.19 M82.99 274.19 H85.19 M86.48 259.39 V272.06 M85.38 259.39 H87.58 M85.38 272.06 H87.58 M88.87 255.5 V268.15 M87.77 255.5 H89.97 M87.77 268.15 H89.97 M91.26 252.02 V264.76 M90.16 252.02 H92.36 M90.16 264.76 H92.36 M93.65 246.34 V259.5 M92.55 246.34 H94.75 M92.55 259.5 H94.75 M96.04 239.6 V256.73 M94.94 239.6 H97.14 M94.94 256.73 H97.14 M98.43 235.76 V253.48 M97.33 235.76 H99.53 M97.33 253.48 H99.53 M100.81 225.88 V243.98 M99.71 225.88 H101.91 M99.71 243.98 H101.91 M103.2 221.46 V240.51 M102.1 221.46 H104.3 M102.1 240.51 H104.3 M105.59 214.97 V237.68 M104.49 214.97 H106.69 M104.49 237.68 H106.69 M107.98 214.16 V232.4 M106.88 214.16 H109.08 M106.88 232.4 H109.08 M110.37 209.56 V230.3 M109.27 209.56 H111.47 M109.27 230.3 H111.47 M112.76 209.47 V229.72 M111.66 209.47 H113.86 M111.66 229.72 H113.86 M115.15 211.72 V230.05 M114.05 211.72 H116.25 M114.05 230.05 H116.25 M117.54 209.46 V231.23 M116.44 209.46 H118.64 M116.44 231.23 H118.64 M119.93 210.27 V232.07 M118.83 210.27 H121.03 M118.83 232.07 H121.03 M122.32 210.81 V230.17 M121.22 210.81 H123.42 M121.22 230.17 H123.42 M124.7 207.04 V230.52 M123.6 207.04 H125.8 M123.6 230.52 H125.8 M127.09 212.7 V233.12 M125.99 212.7 H128.19 M125.99 233.12 H128.19 M129.48 214.16 V233.37 M128.38 214.16 H130.58 M128.38 233.37 H130.58 M131.87 212.58 V233.19 M130.77 212.58 H132.97 M130.77 233.19 H132.97 M134.26 211.21 V233.61 M133.16 211.21 H135.36 M133.16 233.61 H135.36 M136.65 209.1 V232.5 M135.55 209.1 H137.75 M135.55 232.5 H137.75 M139.04 213.02 V231.72 M137.94 213.02 H140.14 M137.94 231.72 H140.14 M141.43 209.1 V229.11 M140.33 209.1 H142.53 M140.33 229.11 H142.53 M143.82 205.86 V229.56 M142.72 205.86 H144.92 M142.72 229.56 H144.92 M146.21 207.18 V230.32 M145.11 207.18 H147.31 M145.11 230.32 H147.31 M148.59 215.66 V232.98 M147.49 215.66 H149.69 M147.49 232.98 H149.69 M150.98 220.11 V238.95 M149.88 220.11 H152.08 M149.88 238.95 H152.08 M153.37 227.62 V243.23 M152.27 227.62 H154.47 M152.27 243.23 H154.47 M155.76 230.12 V249.44 M154.66 230.12 H156.86 M154.66 249.44 H156.86 M158.15 237.63 V255.73 M157.05 237.63 H159.25 M157.05 255.73 H159.25 M160.54 240.86 V257.93 M159.44 240.86 H161.64 M159.44 257.93 H161.64 M162.93 243.36 V258.03 M161.83 243.36 H164.03 M161.83 258.03 H164.03 M165.32 244.4 V258.43 M164.22 244.4 H166.42 M164.22 258.43 H166.42 M167.71 250.63 V262.75 M166.61 250.63 H168.81 M166.61 262.75 H168.81 M170.1 252.59 V266.45 M169 252.59 H171.2 M169 266.45 H171.2 M172.48 256.8 V270.57 M171.38 256.8 H173.58 M171.38 270.57 H173.58 M174.87 259.62 V270.11 M173.77 259.62 H175.97 M173.77 270.11 H175.97 M177.26 262.52 V272.27 M176.16 262.52 H178.36 M176.16 272.27 H178.36 M179.65 266.75 V275.17 M178.55 266.75 H180.75 M178.55 275.17 H180.75 M182.04 268.09 V276.72 M180.94 268.09 H183.14 M180.94 276.72 H183.14 M184.43 270.57 V279.79 M183.33 270.57 H185.53 M183.33 279.79 H185.53 M186.82 272.2 V280.47 M185.72 272.2 H187.92 M185.72 280.47 H187.92 M189.21 273.42 V280.03 M188.11 273.42 H190.31 M188.11 280.03 H190.31 M191.6 273.26 V279.98 M190.5 273.26 H192.7 M190.5 279.98 H192.7 M193.99 273.22 V280.26 M192.89 273.22 H195.09 M192.89 280.26 H195.09 M196.37 273.52 V281.21 M195.27 273.52 H197.47 M195.27 281.21 H197.47 M198.76 276.3 V282.08 M197.66 276.3 H199.86 M197.66 282.08 H199.86 M201.15 278.09 V282.82 M200.05 278.09 H202.25 M200.05 282.82 H202.25 M203.54 279.36 V283.61 M202.44 279.36 H204.64 M202.44 283.61 H204.64 M205.93 280.55 V283.56 M204.83 280.55 H207.03 M204.83 283.56 H207.03 M208.32 281.18 V284.08 M207.22 281.18 H209.42 M207.22 284.08 H209.42 M210.71 281.78 V284.16 M209.61 281.78 H211.81 M209.61 284.16 H211.81 M213.1 281.81 V283.76 M212 281.81 H214.2 M212 283.76 H214.2 M215.49 282.79 V284.43 M214.39 282.79 H216.59 M214.39 284.43 H216.59 M217.88 283.01 V284.31 M216.78 283.01 H218.98 M216.78 284.31 H218.98 M220.26 283.04 V284.3 M219.16 283.04 H221.36 M219.16 284.3 H221.36 M222.65 283.59 V284.57 M221.55 283.59 H223.75 M221.55 284.57 H223.75 M225.04 284.02 V284.83 M223.94 284.02 H226.14 M223.94 284.83 H226.14 M227.43 284.21 V284.8 M226.33 284.21 H228.53 M226.33 284.8 H228.53 M229.82 283.88 V284.4 M228.72 283.88 H230.92 M228.72 284.4 H230.92 M232.21 284.47 V284.97 M231.11 284.47 H233.31 M231.11 284.97 H233.31 M234.6 284.37 V284.79 M233.5 284.37 H235.7 M233.5 284.79 H235.7 M236.99 284.76 V285.1 M235.89 284.76 H238.09 M235.89 285.1 H238.09 M239.38 284.82 V285.1 M238.28 284.82 H240.48 M238.28 285.1 H240.48" fill="none" stroke="#0000ff" stroke-width="0.65"/>
<path d="M37.5 283.65 L38 283.56 L38.5 283.47 L39 283.37 L39.5 283.28 L40 283.18 L40.5 283.07 L41 282.96 L41.5 282.82 L42 282.68 L42.5 282.53 L43 282.38 L43.5 282.22 L44 282.06 L44.5 281.9 L45 281.71 L45.5 281.49 L46 281.26 L46.5 281.04 L47 280.81 L47.5 280.58 L48 280.36 L48.5 280.15 L49 279.96 L49.5 279.8 L50 279.68 L50.5 279.59 L51 279.52 L51.5 279.45 L52 279.39 L52.5 279.33 L53 279.28 L53.5 279.25 L54 279.22 L54.5 279.21 L55 279.21 L55.5 279.22 L56 279.25 L56.5 279.33 L57 279.46 L57.5 279.62 L58 279.81 L58.5 280 L59 280.2 L59.5 280.41 L60 280.62 L60.5 280.83 L61 281.03 L61.5 281.21 L62 281.38 L62.5 281.56 L63 281.74 L63.5 281.92 L64 282.09 L64.5 282.24 L65 282.36 L65.5 282.47 L66 282.53 L66.5 282.54 L67 282.48 L67.5 282.34 L68 282.18 L68.5 281.96 L69 281.69 L69.5 281.4 L70 281.08 L70.5 280.74 L71 280.4 L71.5 280.07 L72 279.7 L72.5 279.28 L73 278.84 L73.5 278.36 L74 277.87 L74.5 277.38 L75 276.86 L75.5 276.36 L76 275.88 L76.5 275.41 L77 274.96 L77.5 274.5 L78 274.04 L78.5 273.58 L79 273.13 L79.5 272.67 L80 272.22 L80.5 271.76 L81 271.3 L81.5 270.82 L82 270.35 L82.5 269.88 L83 269.42 L83.5 268.94 L84 268.47 L84.5 267.96 L85 267.44 L85.5 266.89 L86 266.32 L86.5 265.72 L87 265.1 L87.5 264.45 L88 263.77 L88.5 263.07 L89 262.34 L89.5 261.59 L90 260.8 L90.5 259.98 L91 259.07 L91.5 258.13 L92 257.16 L92.5 256.16 L93 255.13 L93.5 254.09 L94 253.05 L94.5 251.99 L95 250.93 L95.5 249.84 L96 248.74 L96.5 247.63 L97 246.48 L97.5 245.3 L98 244.04 L98.5 242.71 L99 241.35 L99.5 240.01 L100 238.72 L100.5 237.45 L101 236.17 L101.5 234.91 L102 233.66 L102.5 232.44 L103 231.26 L103.5 230.11 L104 229 L104.5 227.99 L105 227.06 L105.5 226.21 L106 225.38 L106.5 224.63 L107 224.01 L107.5 223.47 L108 222.96 L108.5 222.48 L109 222.04 L109.5 221.65 L110 221.31 L110.5 221.03 L111 220.8 L111.5 220.57 L112 220.37 L112.5 220.18 L113 220.03 L113.5 219.93 L114 219.88 L114.5 219.91 L115 220.04 L115.5 220.19 L116 220.37 L116.5 220.57 L117 220.78 L117.5 220.97 L118 221.17 L118.5 221.3 L119 221.34 L119.5 221.25 L120 221.06 L120.5 220.88 L121 220.67 L121.5 220.48 L122 220.35 L122.5 220.3 L123 220.32 L123.5 220.39 L124 220.52 L124.5 220.68 L125 220.87 L125.5 221.08 L126 221.29 L126.5 221.48 L127 221.63 L127.5 221.76 L128 221.87 L128.5 221.97 L129 222.07 L129.5 222.16 L130 222.21 L130.5 222.26 L131 222.29 L131.5 222.31 L132 222.32 L132.5 222.29 L133 222.26 L133.5 222.22 L134 222.18 L134.5 222.13 L135 222.07 L135.5 222.01 L136 221.95 L136.5 221.88 L137 221.88 L137.5 221.86 L138 221.6 L138.5 221.15 L139 220.62 L139.5 220.07 L140 219.61 L140.5 219.36 L141 219.35 L141.5 219.38 L142 219.38 L142.5 219.41 L143 219.46 L143.5 219.53 L144 219.64 L144.5 219.82 L145 220.02 L145.5 220.24 L146 220.56 L146.5 221.1 L147 221.8 L147.5 222.61 L148 223.46 L148.5 224.44 L149 225.55 L149.5 226.79 L150 228.11 L150.5 229.45 L151 230.75 L151.5 232.05 L152 233.2 L152.5 234.31 L153 235.38 L153.5 236.42 L154 237.47 L154.5 238.49 L155 239.49 L155.5 240.47 L156 241.42 L156.5 242.35 L157 243.29 L157.5 244.29 L158 245.29 L158.5 246.24 L159 247.12 L159.5 247.87 L160 248.46 L160.5 248.87 L161 249.28 L161.5 249.64 L162 249.96 L162.5 250.27 L163 250.59 L163.5 250.89 L164 251.26 L164.5 251.72 L165 252.24 L165.5 252.82 L166 253.43 L166.5 254.07 L167 254.73 L167.5 255.39 L168 256.04 L168.5 256.72 L169 257.44 L169.5 258.19 L170 258.95 L170.5 259.71 L171 260.46 L171.5 261.19 L172 261.89 L172.5 262.56 L173 263.2 L173.5 263.83 L174 264.45 L174.5 265.06 L175 265.66 L175.5 266.26 L176 266.85 L176.5 267.41 L177 267.94 L177.5 268.47 L178 268.99 L178.5 269.51 L179 270.02 L179.5 270.52 L180 271 L180.5 271.48 L181 271.94 L181.5 272.38 L182 272.8 L182.5 273.2 L183 273.58 L183.5 273.94 L184 274.27 L184.5 274.6 L185 274.9 L185.5 275.18 L186 275.45 L186.5 275.69 L187 275.91 L187.5 276.11 L188 276.26 L188.5 276.38 L189 276.48 L189.5 276.56 L190 276.62 L190.5 276.68 L191 276.73 L191.5 276.77 L192 276.83 L192.5 276.88 L193 276.95 L193.5 277.02 L194 277.11 L194.5 277.2 L195 277.33 L195.5 277.51 L196 277.73 L196.5 277.98 L197 278.24 L197.5 278.52 L198 278.79 L198.5 279.06 L199 279.32 L199.5 279.56 L200 279.81 L200.5 280.06 L201 280.32 L201.5 280.57 L202 280.82 L202.5 281.06 L203 281.29 L203.5 281.51 L204 281.71 L204.5 281.89 L205 282.04 L205.5 282.16 L206 282.25 L206.5 282.35 L207 282.44 L207.5 282.52 L208 282.59 L208.5 282.66 L209 282.72 L209.5 282.78 L210 282.84 L210.5 282.9 L211 282.95 L211.5 283 L212 283.05 L212.5 283.11 L213 283.17 L213.5 283.22 L214 283.28 L214.5 283.34 L215 283.41 L215.5 283.47 L216 283.52 L216.5 283.58 L217 283.63 L217.5 283.69 L218 283.74 L218.5 283.79 L219 283.84 L219.5 283.88 L220 283.93 L220.5 283.96 L221 284 L221.5 284.04 L222 284.08 L222.5 284.12 L223 284.15 L223.5 284.19 L224 284.22 L224.5 284.25 L225 284.28 L225.5 284.31 L226 284.33 L226.5 284.36 L227 284.38 L227.5 284.4 L228 284.42 L228.5 284.44 L229 284.45 L229.5 284.46 L230 284.48 L230.5 284.5 L231 284.52 L231.5 284.53 L232 284.55 L232.5 284.57 L233 284.59 L233.5 284.6 L234 284.62 L234.5 284.64 L235 284.65 L235.5 284.67 L236 284.69 L236.5 284.71 L237 284.72 L237.5 284.74 L238 284.75 L238.5 284.75 L239 284.76 L239.5 284.77 L240 284.77 L240.5 284.77 L241 284.78" fill="none" stroke="#0000ff" stroke-width="3.2" stroke-linejoin="round" stroke-linecap="butt"/>
</g>
<g clip-path="url(#clipB)">
<path d="M244.8 122 L244.9 122 L245 122 L245.1 122 L245.2 122 L245.3 122 L245.4 122 L245.5 122 L245.6 122 L245.7 122 L245.8 122 L245.9 122 L246 122 L246.1 122 L246.2 122 L246.3 122 L246.4 122 L246.5 122 L246.6 122 L246.7 122 L246.8 122 L246.9 122 L247 122 L247.1 122 L247.2 122 L247.3 122 L247.4 122 L247.5 122 L247.6 122 L247.7 122 L247.8 122 L247.9 122 L248 122 L248.1 122 L248.2 122 L248.3 122 L248.4 122 L248.5 122 L248.6 122 L248.7 122 L248.8 122 L248.9 122 L249 122 L249.1 122 L249.2 122 L249.3 122 L249.4 122 L249.5 122 L249.6 122 L249.7 122 L249.8 122 L249.9 122 L250 122 L250.1 122 L250.2 122 L250.3 122 L250.4 122 L250.5 122 L250.6 122 L250.7 122 L250.8 122 L250.9 122 L251 122 L251.1 122 L251.2 122 L251.3 122 L251.4 122 L251.5 122 L251.6 122 L251.7 122 L251.8 122 L251.9 122 L252 122 L252.1 122 L252.2 122 L252.3 122 L252.4 122 L252.5 122 L252.6 122 L252.7 122 L252.8 122 L252.9 122 L253 122 L253.1 122 L253.2 122 L253.3 122 L253.4 122 L253.5 122 L253.6 122 L253.7 122 L253.8 122 L253.9 122 L254 122 L254.1 122 L254.2 122 L254.3 122 L254.4 122 L254.5 122 L254.6 122 L254.7 122 L254.8 122 L254.9 122 L255 122 L255.1 122 L255.2 122 L255.3 122 L255.4 122 L255.5 122 L255.6 122 L255.7 122 L255.8 122 L255.9 122 L256 122 L256.1 122 L256.2 122 L256.3 122 L256.4 122 L256.5 122 L256.6 122 L256.7 122 L256.8 122 L256.9 122 L257 122 L257.1 122 L257.2 122 L257.3 122 L257.4 122 L257.5 122 L257.6 122 L257.7 122 L257.8 122 L257.9 122 L258 122 L258.1 122 L258.2 122 L258.3 122 L258.4 122 L258.5 122 L258.6 122 L258.7 122 L258.8 122 L258.9 122 L259 122 L259.1 122 L259.2 122 L259.3 122 L259.4 122 L259.5 122 L259.6 122 L259.7 122 L259.8 122 L259.9 122 L260 122 L260.1 122 L260.2 122 L260.3 122 L260.4 122 L260.5 122 L260.6 122 L260.7 122 L260.8 122 L260.9 122 L261 122 L261.1 122 L261.2 122 L261.3 122 L261.4 122 L261.5 122 L261.6 122 L261.7 122 L261.8 122 L261.9 122 L262 122 L262.1 122 L262.2 122 L262.3 122 L262.4 122 L262.5 122 L262.6 122 L262.7 122 L262.8 122 L262.9 122 L263 122 L263.1 122 L263.2 122 L263.3 122 L263.4 122 L263.5 122 L263.6 122 L263.7 122 L263.8 122 L263.9 122 L264 122 L264.1 122 L264.2 122 L264.3 122 L264.4 122 L264.5 122 L264.6 122 L264.7 122 L264.8 122 L264.9 122 L265 122 L265.1 122 L265.2 122 L265.3 122 L265.4 122 L265.5 122 L265.6 122 L265.7 122 L265.8 122 L265.9 122 L266 122 L266.1 122 L266.2 122 L266.3 122 L266.4 122 L266.5 122 L266.6 122 L266.7 122 L266.8 122 L266.9 122 L267 122 L267.1 122 L267.2 122 L267.3 122 L267.4 122 L267.5 122 L267.6 122 L267.7 122 L267.8 122 L267.9 122 L268 122 L268.1 122 L268.2 122 L268.3 122 L268.4 122 L268.5 122 L268.6 122 L268.7 122 L268.8 122 L268.9 122 L269 122 L269.1 122 L269.2 122 L269.3 122 L269.4 122 L269.5 122 L269.6 122 L269.7 122 L269.8 122 L269.9 122 L270 122 L270.1 122 L270.2 122 L270.3 122 L270.4 122 L270.5 122 L270.6 122 L270.7 122 L270.8 122 L270.9 122 L271 122 L271.1 122 L271.2 122 L271.3 122 L271.4 122 L271.5 122 L271.6 122 L271.7 122 L271.8 122 L271.9 122 L272 122 L272.1 122 L272.2 122 L272.3 122 L272.4 122 L272.5 122 L272.6 122 L272.7 122 L272.8 122 L272.9 122 L273 122 L273.1 122 L273.2 122 L273.3 122 L273.4 122 L273.5 122 L273.6 122 L273.7 122 L273.8 122 L273.9 122 L274 122 L274.1 122 L274.2 122 L274.3 122 L274.4 121.88 L274.5 121.55 L274.6 121.02 L274.7 120.32 L274.8 119.47 L274.9 118.5 L275 117.44 L275.1 116.3 L275.2 115.11 L275.3 113.9 L275.4 112.46 L275.5 110.61 L275.6 108.43 L275.7 105.97 L275.8 103.32 L275.9 100.53 L276 97.67 L276.1 94.82 L276.2 92.04 L276.3 89.4 L276.4 86.72 L276.5 83.86 L276.6 80.88 L276.7 77.88 L276.8 74.94 L276.9 72.15 L277 69.59 L277.1 67.34 L277.2 65.5 L277.3 63.9 L277.4 62.35 L277.5 60.86 L277.6 59.46 L277.7 58.16 L277.8 57 L277.9 55.98 L278 55.12 L278.1 54.46 L278.2 54 L278.3 53.66 L278.4 53.35 L278.5 53.07 L278.6 52.84 L278.7 52.66 L278.8 52.54 L278.9 52.5 L279 52.62 L279.1 52.96 L279.2 53.48 L279.3 54.14 L279.4 54.91 L279.5 55.75 L279.6 56.63 L279.7 57.5 L279.8 58.49 L279.9 59.72 L280 61.11 L280.1 62.61 L280.2 64.16 L280.3 65.7 L280.4 67.17 L280.5 68.5 L280.6 69.82 L280.7 71.24 L280.8 72.66 L280.9 73.99 L281 75.13 L281.1 76 L281.2 76.5 L281.3 76.77 L281.4 77.01 L281.5 77.21 L281.6 77.37 L281.7 77.47 L281.8 77.5 L281.9 77.31 L282 76.81 L282.1 76.11 L282.2 75.3 L282.3 74.49 L282.4 73.79 L282.5 73.29 L282.6 73.1 L282.7 73.1 L282.8 73.1 L282.9 73.1 L283 73.1 L283.1 73.1 L283.2 73.1 L283.3 73.1 L283.4 73.1 L283.5 73.18 L283.6 73.39 L283.7 73.72 L283.8 74.15 L283.9 74.66 L284 75.24 L284.1 75.86 L284.2 76.5 L284.3 77.31 L284.4 78.42 L284.5 79.76 L284.6 81.28 L284.7 82.91 L284.8 84.6 L284.9 86.28 L285 87.9 L285.1 89.4 L285.2 90.86 L285.3 92.4 L285.4 93.98 L285.5 95.61 L285.6 97.24 L285.7 98.86 L285.8 100.45 L285.9 101.99 L286 103.46 L286.1 104.84 L286.2 106.1 L286.3 107.23 L286.4 108.2 L286.5 109 L286.6 109.69 L286.7 110.35 L286.8 110.99 L286.9 111.6 L287 112.18 L287.1 112.74 L287.2 113.27 L287.3 113.76 L287.4 114.23 L287.5 114.66 L287.6 115.07 L287.7 115.44 L287.8 115.78 L287.9 116.09 L288 116.36 L288.1 116.6 L288.2 116.8 L288.3 116.98 L288.4 117.16 L288.5 117.34 L288.6 117.51 L288.7 117.68 L288.8 117.84 L288.9 118 L289 118.15 L289.1 118.3 L289.2 118.45 L289.3 118.59 L289.4 118.73 L289.5 118.86 L289.6 118.99 L289.7 119.11 L289.8 119.23 L289.9 119.35 L290 119.46 L290.1 119.56 L290.2 119.66 L290.3 119.76 L290.4 119.85 L290.5 119.94 L290.6 120.03 L290.7 120.11 L290.8 120.18 L290.9 120.25 L291 120.32 L291.1 120.38 L291.2 120.43 L291.3 120.49 L291.4 120.53 L291.5 120.58 L291.6 120.61 L291.7 120.65 L291.8 120.68 L291.9 120.7 L292 120.72 L292.1 120.74 L292.2 120.76 L292.3 120.78 L292.4 120.8 L292.5 120.82 L292.6 120.84 L292.7 120.86 L292.8 120.88 L292.9 120.9 L293 120.92 L293.1 120.94 L293.2 120.96 L293.3 120.97 L293.4 120.99 L293.5 121.01 L293.6 121.02 L293.7 121.04 L293.8 121.06 L293.9 121.07 L294 121.09 L294.1 121.1 L294.2 121.12 L294.3 121.13 L294.4 121.15 L294.5 121.16 L294.6 121.18 L294.7 121.19 L294.8 121.2 L294.9 121.22 L295 121.23 L295.1 121.24 L295.2 121.25 L295.3 121.27 L295.4 121.28 L295.5 121.29 L295.6 121.3 L295.7 121.31 L295.8 121.32 L295.9 121.33 L296 121.34 L296.1 121.35 L296.2 121.36 L296.3 121.37 L296.4 121.38 L296.5 121.39 L296.6 121.39 L296.7 121.4 L296.8 121.41 L296.9 121.42 L297 121.42 L297.1 121.43 L297.2 121.44 L297.3 121.44 L297.4 121.45 L297.5 121.45 L297.6 121.46 L297.7 121.46 L297.8 121.47 L297.9 121.47 L298 121.48 L298.1 121.48 L298.2 121.48 L298.3 121.49 L298.4 121.49 L298.5 121.49 L298.6 121.49 L298.7 121.49 L298.8 121.5 L298.9 121.5 L299 121.5 L299.1 121.5 L299.2 121.5 L299.3 121.5 L299.4 121.5 L299.5 121.5 L299.6 121.5 L299.7 121.5 L299.8 121.5 L299.9 121.5 L300 121.5 L300.1 121.5 L300.2 121.5 L300.3 121.5 L300.4 121.5 L300.5 121.5 L300.6 121.5 L300.7 121.5 L300.8 121.5 L300.9 121.5 L301 121.5 L301.1 121.5 L301.2 121.5 L301.3 121.5 L301.4 121.5 L301.5 121.5 L301.6 121.5 L301.7 121.5 L301.8 121.5 L301.9 121.5 L302 121.5 L302.1 121.5 L302.2 121.5 L302.3 121.5 L302.4 121.5 L302.5 121.5 L302.6 121.5 L302.7 121.5 L302.8 121.5 L302.9 121.5 L303 121.5 L303.1 121.5 L303.2 121.5 L303.3 121.5 L303.4 121.5 L303.5 121.5 L303.6 121.5 L303.7 121.5 L303.8 121.5 L303.9 121.5 L304 121.5 L304.1 121.5 L304.2 121.49 L304.3 121.48 L304.4 121.45 L304.5 121.42 L304.6 121.37 L304.7 121.32 L304.8 121.26 L304.9 121.19 L305 121.11 L305.1 121.03 L305.2 120.94 L305.3 120.85 L305.4 120.75 L305.5 120.64 L305.6 120.54 L305.7 120.42 L305.8 120.31 L305.9 120.19 L306 120.07 L306.1 119.94 L306.2 119.82 L306.3 119.69 L306.4 119.56 L306.5 119.44 L306.6 119.31 L306.7 119.19 L306.8 119.06 L306.9 118.94 L307 118.82 L307.1 118.7 L307.2 118.58 L307.3 118.45 L307.4 118.32 L307.5 118.18 L307.6 118.04 L307.7 117.89 L307.8 117.74 L307.9 117.59 L308 117.43 L308.1 117.28 L308.2 117.12 L308.3 116.96 L308.4 116.8 L308.5 116.65 L308.6 116.49 L308.7 116.34 L308.8 116.19 L308.9 116.04 L309 115.9 L309.1 115.75 L309.2 115.59 L309.3 115.42 L309.4 115.25 L309.5 115.07 L309.6 114.89 L309.7 114.72 L309.8 114.56 L309.9 114.4 L310 114.26 L310.1 114.14 L310.2 114.04 L310.3 113.96 L310.4 113.92 L310.5 113.9 L310.6 113.93 L310.7 114 L310.8 114.11 L310.9 114.25 L311 114.43 L311.1 114.62 L311.2 114.84 L311.3 115.06 L311.4 115.29 L311.5 115.51 L311.6 115.73 L311.7 115.93 L311.8 116.12 L311.9 116.27 L312 116.4 L312.1 116.51 L312.2 116.61 L312.3 116.72 L312.4 116.82 L312.5 116.93 L312.6 117.03 L312.7 117.13 L312.8 117.23 L312.9 117.32 L313 117.41 L313.1 117.51 L313.2 117.6 L313.3 117.68 L313.4 117.77 L313.5 117.85 L313.6 117.93 L313.7 118.01 L313.8 118.09 L313.9 118.16 L314 118.23 L314.1 118.29 L314.2 118.36 L314.3 118.42 L314.4 118.47 L314.5 118.53 L314.6 118.58 L314.7 118.62 L314.8 118.67 L314.9 118.71 L315 118.74 L315.1 118.77 L315.2 118.8 L315.3 118.83 L315.4 118.85 L315.5 118.87 L315.6 118.9 L315.7 118.92 L315.8 118.95 L315.9 118.97 L316 118.99 L316.1 119.01 L316.2 119.04 L316.3 119.06 L316.4 119.08 L316.5 119.1 L316.6 119.12 L316.7 119.14 L316.8 119.16 L316.9 119.18 L317 119.2 L317.1 119.21 L317.2 119.23 L317.3 119.25 L317.4 119.26 L317.5 119.28 L317.6 119.3 L317.7 119.31 L317.8 119.33 L317.9 119.34 L318 119.35 L318.1 119.37 L318.2 119.38 L318.3 119.39 L318.4 119.4 L318.5 119.41 L318.6 119.42 L318.7 119.43 L318.8 119.44 L318.9 119.45 L319 119.46 L319.1 119.47 L319.2 119.47 L319.3 119.48 L319.4 119.48 L319.5 119.49 L319.6 119.49 L319.7 119.49 L319.8 119.5 L319.9 119.5 L320 119.5 L320.1 119.5 L320.2 119.5 L320.3 119.49 L320.4 119.48 L320.5 119.47 L320.6 119.45 L320.7 119.43 L320.8 119.41 L320.9 119.38 L321 119.35 L321.1 119.31 L321.2 119.28 L321.3 119.24 L321.4 119.19 L321.5 119.15 L321.6 119.1 L321.7 119.05 L321.8 118.99 L321.9 118.94 L322 118.88 L322.1 118.82 L322.2 118.75 L322.3 118.69 L322.4 118.62 L322.5 118.55 L322.6 118.48 L322.7 118.41 L322.8 118.33 L322.9 118.26 L323 118.18 L323.1 118.1 L323.2 118.02 L323.3 117.94 L323.4 117.85 L323.5 117.77 L323.6 117.69 L323.7 117.6 L323.8 117.51 L323.9 117.4 L324 117.28 L324.1 117.14 L324.2 117 L324.3 116.84 L324.4 116.67 L324.5 116.49 L324.6 116.31 L324.7 116.11 L324.8 115.91 L324.9 115.7 L325 115.48 L325.1 115.26 L325.2 115.04 L325.3 114.81 L325.4 114.58 L325.5 114.34 L325.6 114.11 L325.7 113.87 L325.8 113.63 L325.9 113.4 L326 113.16 L326.1 112.93 L326.2 112.7 L326.3 112.46 L326.4 112.18 L326.5 111.89 L326.6 111.58 L326.7 111.26 L326.8 110.94 L326.9 110.63 L327 110.33 L327.1 110.06 L327.2 109.81 L327.3 109.59 L327.4 109.42 L327.5 109.3 L327.6 109.22 L327.7 109.15 L327.8 109.1 L327.9 109.06 L328 109.02 L328.1 108.98 L328.2 108.94 L328.3 108.88 L328.4 108.8 L328.5 108.7 L328.6 108.4 L328.7 107.81 L328.8 107.04 L328.9 106.23 L329 105.49 L329.1 104.94 L329.2 104.7 L329.3 104.67 L329.4 104.64 L329.5 104.62 L329.6 104.61 L329.7 104.6 L329.8 104.59 L329.9 104.58 L330 104.56 L330.1 104.54 L330.2 104.5 L330.3 104.22 L330.4 103.56 L330.5 102.62 L330.6 101.53 L330.7 100.4 L330.8 99.35 L330.9 98.5 L331 97.73 L331.1 96.91 L331.2 96.11 L331.3 95.44 L331.4 94.97 L331.5 94.8 L331.6 94.83 L331.7 94.93 L331.8 95.07 L331.9 95.25 L332 95.45 L332.1 95.65 L332.2 95.85 L332.3 96.03 L332.4 96.17 L332.5 96.27 L332.6 96.3 L332.7 96.3 L332.8 96.29 L332.9 96.27 L333 96.24 L333.1 96.21 L333.2 96.16 L333.3 96.11 L333.4 96.04 L333.5 95.96 L333.6 95.87 L333.7 95.76 L333.8 95.64 L333.9 95.5 L334 92.7 L334.1 86.73 L334.2 80.79 L334.3 78.1 L334.4 80.66 L334.5 86.29 L334.6 91.92 L334.7 94.5 L334.8 94.53 L334.9 94.55 L335 94.58 L335.1 94.6 L335.2 94.62 L335.3 94.63 L335.4 94.65 L335.5 94.66 L335.6 94.67 L335.7 94.68 L335.8 94.68 L335.9 94.69 L336 94.69 L336.1 94.7 L336.2 94.7 L336.3 94.7 L336.4 94.7 L336.5 94.69 L336.6 94.68 L336.7 94.65 L336.8 94.61 L336.9 94.55 L337 94.47 L337.1 94.38 L337.2 94.27 L337.3 94.13 L337.4 93.98 L337.5 93.8 L337.6 93.59 L337.7 93.36 L337.8 93.1 L337.9 92.82 L338 92.5 L338.1 88.47 L338.2 80.03 L338.3 71.68 L338.4 67.9 L338.5 71.14 L338.6 78.41 L338.7 86.08 L338.8 90.5 L338.9 91.94 L339 93.14 L339.1 94.14 L339.2 94.97 L339.3 95.67 L339.4 96.28 L339.5 96.83 L339.6 97.37 L339.7 97.91 L339.8 98.51 L339.9 99.2 L340 99.95 L340.1 100.7 L340.2 101.46 L340.3 102.22 L340.4 102.98 L340.5 103.72 L340.6 104.46 L340.7 105.18 L340.8 105.88 L340.9 106.56 L341 107.22 L341.1 107.85 L341.2 108.44 L341.3 109 L341.4 109.54 L341.5 110.07 L341.6 110.59 L341.7 111.1 L341.8 111.6 L341.9 112.09 L342 112.57 L342.1 113.04 L342.2 113.5 L342.3 113.95 L342.4 114.38 L342.5 114.8 L342.6 115.21 L342.7 115.6 L342.8 115.97 L342.9 116.33 L343 116.68 L343.1 117 L343.2 117.31 L343.3 117.6 L343.4 117.88 L343.5 118.17 L343.6 118.45 L343.7 118.72 L343.8 119 L343.9 119.26 L344 119.51 L344.1 119.74 L344.2 119.96 L344.3 120.17 L344.4 120.35 L344.5 120.5 L344.6 120.63 L344.7 120.73 L344.8 120.8 L344.9 120.85 L345 120.9 L345.1 120.95 L345.2 121 L345.3 121.04 L345.4 121.08 L345.5 121.12 L345.6 121.16 L345.7 121.2 L345.8 121.24 L345.9 121.27 L346 121.31 L346.1 121.34 L346.2 121.37 L346.3 121.4 L346.4 121.42 L346.5 121.45 L346.6 121.47 L346.7 121.5 L346.8 121.52 L346.9 121.54 L347 121.56 L347.1 121.58 L347.2 121.59 L347.3 121.61 L347.4 121.62 L347.5 121.64 L347.6 121.65 L347.7 121.66 L347.8 121.67 L347.9 121.68 L348 121.69 L348.1 121.69 L348.2 121.7 L348.3 121.71 L348.4 121.71 L348.5 121.72 L348.6 121.72 L348.7 121.73 L348.8 121.73 L348.9 121.74 L349 121.74 L349.1 121.75 L349.2 121.75 L349.3 121.76 L349.4 121.76 L349.5 121.77 L349.6 121.77 L349.7 121.78 L349.8 121.78 L349.9 121.79 L350 121.79 L350.1 121.79 L350.2 121.8 L350.3 121.8 L350.4 121.81 L350.5 121.81 L350.6 121.82 L350.7 121.82 L350.8 121.82 L350.9 121.83 L351 121.83 L351.1 121.84 L351.2 121.84 L351.3 121.84 L351.4 121.85 L351.5 121.85 L351.6 121.85 L351.7 121.86 L351.8 121.86 L351.9 121.87 L352 121.87 L352.1 121.87 L352.2 121.88 L352.3 121.88 L352.4 121.88 L352.5 121.89 L352.6 121.89 L352.7 121.89 L352.8 121.89 L352.9 121.9 L353 121.9 L353.1 121.9 L353.2 121.91 L353.3 121.91 L353.4 121.91 L353.5 121.92 L353.6 121.92 L353.7 121.92 L353.8 121.92 L353.9 121.93 L354 121.93 L354.1 121.93 L354.2 121.93 L354.3 121.94 L354.4 121.94 L354.5 121.94 L354.6 121.94 L354.7 121.94 L354.8 121.95 L354.9 121.95 L355 121.95 L355.1 121.95 L355.2 121.95 L355.3 121.96 L355.4 121.96 L355.5 121.96 L355.6 121.96 L355.7 121.96 L355.8 121.97 L355.9 121.97 L356 121.97 L356.1 121.97 L356.2 121.97 L356.3 121.97 L356.4 121.98 L356.5 121.98 L356.6 121.98 L356.7 121.98 L356.8 121.98 L356.9 121.98 L357 121.98 L357.1 121.98 L357.2 121.99 L357.3 121.99 L357.4 121.99 L357.5 121.99 L357.6 121.99 L357.7 121.99 L357.8 121.99 L357.9 121.99 L358 121.99 L358.1 121.99 L358.2 121.99 L358.3 121.99 L358.4 122 L358.5 122 L358.6 122 L358.7 122 L358.8 122 L358.9 122 L359 122 L359.1 122 L359.2 122 L359.3 122 L359.4 122 L359.5 122 L359.6 122 L359.7 122 L359.8 122 L359.9 122 L360 122 L360.1 122 L360.2 122 L360.3 122 L360.4 122 L360.5 122 L360.6 122 L360.7 122 L360.8 122 L360.9 122 L361 122 L361.1 122 L361.2 122 L361.3 122 L361.4 122 L361.5 122 L361.6 122 L361.7 122 L361.8 122 L361.9 122 L362 122 L362.1 122 L362.2 122 L362.3 122 L362.4 122 L362.5 122 L362.6 122 L362.7 122 L362.8 122 L362.9 122 L363 122 L363.1 122 L363.2 122 L363.3 122 L363.4 122 L363.5 122 L363.6 122 L363.7 122 L363.8 122 L363.9 122 L364 122 L364.1 122 L364.2 122 L364.3 122 L364.4 122 L364.5 122 L364.6 121.99 L364.7 121.97 L364.8 121.93 L364.9 121.88 L365 121.82 L365.1 121.75 L365.2 121.68 L365.3 121.62 L365.4 121.55 L365.5 121.48 L365.6 121.42 L365.7 121.37 L365.8 121.33 L365.9 121.31 L366 121.3 L366.1 121.31 L366.2 121.33 L366.3 121.37 L366.4 121.42 L366.5 121.48 L366.6 121.55 L366.7 121.62 L366.8 121.68 L366.9 121.75 L367 121.82 L367.1 121.88 L367.2 121.93 L367.3 121.97 L367.4 121.99 L367.5 122 L367.6 122 L367.7 122 L367.8 122 L367.9 122 L368 122 L368.1 122 L368.2 122 L368.3 122 L368.4 122 L368.5 122 L368.6 122 L368.7 122 L368.8 122 L368.9 122 L369 122 L369.1 122 L369.2 122 L369.3 122 L369.4 122 L369.5 122 L369.6 122 L369.7 122 L369.8 122 L369.9 122 L370 122 L370.1 122 L370.2 122 L370.3 122 L370.4 122 L370.5 122 L370.6 122 L370.7 122 L370.8 122 L370.9 122 L371 122 L371.1 122 L371.2 122 L371.3 122 L371.4 122 L371.5 122 L371.6 122 L371.7 122 L371.8 122 L371.9 122 L372 122 L372.1 122 L372.2 122 L372.3 122 L372.4 122 L372.5 122 L372.6 122 L372.7 122 L372.8 122 L372.9 122 L373 122 L373.1 122 L373.2 122 L373.3 122 L373.4 122 L373.5 122 L373.6 122 L373.7 122 L373.8 122 L373.9 122 L374 122 L374.1 122 L374.2 122 L374.3 122 L374.4 122 L374.5 122 L374.6 122 L374.7 122 L374.8 122 L374.9 122 L375 122 L375.1 122 L375.2 122 L375.3 122 L375.4 122 L375.5 122 L375.6 122 L375.7 122 L375.8 122 L375.9 122 L376 122 L376.1 122 L376.2 122 L376.3 122 L376.4 122 L376.5 122 L376.6 122 L376.7 122 L376.8 122 L376.9 122 L377 122 L377.1 122 L377.2 122 L377.3 122 L377.4 122 L377.5 122 L377.6 122 L377.7 122 L377.8 122 L377.9 122 L378 122 L378.1 122 L378.2 122 L378.3 122 L378.4 122 L378.5 122 L378.6 122 L378.7 122 L378.8 122 L378.9 122 L379 122 L379.1 122 L379.2 122 L379.3 122 L379.4 122 L379.5 122 L379.6 122 L379.7 122 L379.8 122 L379.9 122 L380 122 L380.1 122 L380.2 122 L380.3 122 L380.4 122 L380.5 122 L380.6 122 L380.7 122 L380.8 122 L380.9 122 L381 122 L381.1 122 L381.2 122 L381.3 122 L381.4 122 L381.5 122 L381.6 122 L381.7 122 L381.8 122 L381.9 122 L382 122 L382.1 122 L382.2 122 L382.3 122 L382.4 122 L382.5 122 L382.6 122 L382.7 122 L382.8 122 L382.9 122 L383 122 L383.1 122 L383.2 122 L383.3 122 L383.4 122 L383.5 122 L383.6 122 L383.7 122 L383.8 122 L383.9 122 L384 122 L384.1 122 L384.2 122 L384.3 122 L384.4 122 L384.5 122 L384.6 122 L384.7 122 L384.8 122 L384.9 122 L385 122 L385.1 122 L385.2 122 L385.3 122 L385.4 122 L385.5 122 L385.6 122 L385.7 122 L385.8 122 L385.9 122 L386 122 L386.1 122 L386.2 122 L386.3 122 L386.4 122 L386.5 122 L386.6 122 L386.7 122 L386.8 122 L386.9 122 L387 122 L387.1 122 L387.2 122 L387.3 122 L387.4 122 L387.5 122 L387.6 122 L387.7 122 L387.8 122 L387.9 122 L388 122 L388.1 122 L388.2 122 L388.3 122 L388.4 122 L388.5 122 L388.6 122 L388.7 122 L388.8 122 L388.9 122 L389 122 L389.1 122 L389.2 122 L389.3 122 L389.4 122 L389.5 122 L389.6 122 L389.7 122 L389.8 122 L389.9 122 L390 122 L390.1 122 L390.2 122 L390.3 122 L390.4 122 L390.5 122 L390.6 122 L390.7 122 L390.8 122 L390.9 122 L391 122 L391.1 122 L391.2 122 L391.3 122 L391.4 122 L391.5 122 L391.6 122 L391.7 122 L391.8 122 L391.9 122 L392 122 L392.1 122 L392.2 122 L392.3 122 L392.4 122 L392.5 122 L392.6 122 L392.7 122 L392.8 122 L392.9 122 L393 122 L393.1 122 L393.2 122 L393.3 122 L393.4 122 L393.5 122 L393.6 122 L393.7 122 L393.8 122 L393.9 122 L394 122 L394.1 122 L394.2 122 L394.3 122 L394.4 122 L394.5 122 L394.6 122 L394.7 122 L394.8 122 L394.9 122 L395 122 L395.1 122 L395.2 122 L395.3 122 L395.4 122 L395.5 122 L395.6 122 L395.7 122 L395.8 122 L395.9 122 L396 122 L396.1 122 L396.2 122 L396.3 122 L396.4 122 L396.5 122 L396.6 122 L396.7 122 L396.8 122 L396.9 122 L397 122 L397.1 122 L397.2 122 L397.3 122 L397.4 122 L397.5 122 L397.6 122 L397.7 122 L397.8 122 L397.9 122 L398 122 L398.1 122 L398.2 122 L398.3 122 L398.4 122 L398.5 122 L398.6 122 L398.7 122 L398.8 122 L398.9 122 L399 122 L399.1 122 L399.2 122 L399.3 122 L399.4 122 L399.5 122 L399.6 122 L399.7 122 L399.8 122 L399.9 122 L400 122 L400.1 122 L400.2 122 L400.3 122 L400.4 122 L400.5 122 L400.6 122 L400.7 122 L400.8 122 L400.9 122 L401 122 L401.1 122 L401.2 122 L401.3 122 L401.4 122 L401.5 122 L401.6 122 L401.7 122 L401.8 122 L401.9 122 L402 122 L402.1 122 L402.2 122 L402.3 122 L402.4 122 L402.5 122 L402.6 122 L402.7 122 L402.8 122 L402.9 122 L403 122 L403.1 122 L403.2 122 L403.3 122 L403.4 122 L403.5 122 L403.6 122 L403.7 122 L403.8 122 L403.9 122 L404 122 L404.1 122 L404.2 122 L404.3 122 L404.4 122 L404.5 122 L404.6 122 L404.7 122 L404.8 122 L404.9 122 L405 122 L405.1 122 L405.2 122 L405.3 122 L405.4 122 L405.5 122 L405.6 122 L405.7 122 L405.8 122 L405.9 122 L406 122 L406.1 122 L406.2 122 L406.3 122 L406.4 122 L406.5 122 L406.6 122 L406.7 122 L406.8 122 L406.9 122 L407 122 L407.1 122 L407.2 122 L407.3 122 L407.4 122 L407.5 122 L407.6 122 L407.7 122 L407.8 122 L407.9 122 L408 122 L408.1 122 L408.2 122 L408.3 122 L408.4 122 L408.5 122 L408.6 122 L408.7 122 L408.8 122 L408.9 122 L409 122 L409.1 122 L409.2 122 L409.3 122 L409.4 122 L409.5 122 L409.6 122 L409.7 122 L409.8 122 L409.9 122 L410 122 L410.1 122 L410.2 122 L410.3 122 L410.4 122 L410.5 122 L410.6 122 L410.7 122 L410.8 122 L410.9 122 L411 122 L411.1 122 L411.2 122 L411.3 122 L411.4 122 L411.5 122 L411.6 122 L411.7 122 L411.8 122 L411.9 122 L412 122 L412.1 122 L412.2 122 L412.3 122 L412.4 122 L412.5 122 L412.6 122 L412.7 122 L412.8 122 L412.9 122 L413 122 L413.1 122 L413.2 122 L413.3 122 L413.4 122 L413.5 122 L413.6 122 L413.7 122 L413.8 122 L413.9 122 L414 122 L414.1 122 L414.2 122 L414.3 122 L414.4 122 L414.5 122 L414.6 122 L414.7 122 L414.8 122 L414.9 122 L415 122 L415.1 122 L415.2 122 L415.3 122 L415.4 122 L415.5 122 L415.6 122 L415.7 122 L415.8 122 L415.9 122 L416 122 L416.1 122 L416.2 122 L416.3 122 L416.4 122 L416.5 122 L416.6 122 L416.7 122 L416.8 122 L416.9 122 L417 122 L417.1 122 L417.2 122 L417.3 122 L417.4 122 L417.5 122 L417.6 122 L417.7 122 L417.8 122 L417.9 122 L418 122 L418.1 122 L418.2 122 L418.3 122 L418.4 122 L418.5 122 L418.6 122 L418.7 122 L418.8 122 L418.9 122 L419 122 L419.1 122 L419.2 122 L419.3 122 L419.4 122 L419.5 122 L419.6 122 L419.7 122 L419.8 122 L419.9 122 L420 122 L420.1 122 L420.2 122 L420.3 122 L420.4 122 L420.5 122 L420.6 122 L420.7 122 L420.8 122 L420.9 122 L421 122 L421.1 122 L421.2 122 L421.3 122 L421.4 122 L421.5 122 L421.6 122 L421.7 122 L421.8 122 L421.9 122 L422 122 L422.1 122 L422.2 122 L422.3 122 L422.4 122 L422.5 122 L422.6 122 L422.7 122 L422.8 122 L422.9 122 L423 122 L423.1 122 L423.2 122 L423.3 122 L423.4 122 L423.5 122 L423.6 122 L423.7 122 L423.8 122 L423.9 122 L424 122 L424.1 122 L424.2 122 L424.3 122 L424.4 122 L424.5 122 L424.6 122 L424.7 122 L424.8 122 L424.9 122 L425 122 L425.1 122 L425.2 122 L425.3 122 L425.4 122 L425.5 122 L425.6 122 L425.7 122 L425.8 122 L425.9 122 L426 122 L426.1 122 L426.2 122 L426.3 122 L426.4 122 L426.5 122 L426.6 122 L426.7 122 L426.8 122 L426.9 122 L427 122 L427.1 122 L427.2 122 L427.3 122 L427.4 122 L427.5 122 L427.6 122 L427.7 122 L427.8 122 L427.9 122 L428 122 L428.1 122 L428.2 122 L428.3 122 L428.4 122 L428.5 122 L428.6 122 L428.7 122 L428.8 122 L428.9 122 L429 122 L429.1 122 L429.2 122 L429.3 122 L429.4 122 L429.5 122 L429.6 122 L429.7 122 L429.8 122 L429.9 122 L430 122 L430.1 122 L430.2 122 L430.3 122 L430.4 122 L430.5 122 L430.6 122 L430.7 122 L430.8 122 L430.9 122 L431 122 L431.1 122 L431.2 122 L431.3 122 L431.4 122 L431.5 122 L431.6 122 L431.7 122 L431.8 122 L431.9 122 L432 122 L432.1 122 L432.2 122 L432.3 122 L432.4 122 L432.5 122 L432.6 122 L432.7 122 L432.8 122 L432.9 122 L433 122 L433.1 122 L433.2 122 L433.3 122 L433.4 122 L433.5 122 L433.6 122 L433.7 122 L433.8 122 L433.9 122 L434 122 L434.1 122 L434.2 122 L434.3 122 L434.4 122 L434.5 122 L434.6 122 L434.7 122 L434.8 122 L434.9 122 L435 122 L435.1 122 L435.2 122 L435.3 122 L435.4 122 L435.5 122 L435.6 122 L435.7 122 L435.8 122 L435.9 122 L436 122 L436.1 122 L436.2 122 L436.3 122 L436.4 122 L436.5 122 L436.6 122 L436.7 122 L436.8 122 L436.9 122 L437 122 L437.1 122 L437.2 122 L437.3 122 L437.4 122 L437.5 122 L437.6 122 L437.7 122 L437.8 122 L437.9 122 L438 122 L438.1 122 L438.2 122 L438.3 122 L438.4 122 L438.5 122 L438.6 122 L438.7 122 L438.8 122 L438.9 122 L439 122 L439.1 122 L439.2 122 L439.3 122 L439.4 122 L439.5 122 L439.6 122 L439.7 122 L439.8 122 L439.9 122 L440 122 L440.1 122 L440.2 122 L440.3 122 L440.4 122 L440.5 122 L440.6 122 L440.7 122 L440.8 122 L440.9 122 L441 122 L441.1 122 L441.2 122 L441.3 122 L441.4 122 L441.5 122 L441.6 122 L441.7 122 L441.8 122 L441.9 122 L442 122 L442.1 122 L442.2 122 L442.3 122 L442.4 122 L442.5 122 L442.6 122 L442.7 122 L442.8 122 L442.9 122 L443 122 L443.1 122 L443.2 122 L443.3 122 L443.4 122 L443.5 122 L443.6 122 L443.7 122 L443.8 122 L443.9 122 L444 122 L444.1 122 L444.2 122 L444.3 122 L444.4 122 L444.5 122 L444.6 122 L444.7 122 L444.8 122 L444.9 122 L445 122 L445.1 122 L445.2 122 L445.3 122 L445.4 122 L445.5 122 L445.6 122 L445.7 122 L445.8 122 L445.9 122 L446 122 L446.1 122 L446.2 122 L446.3 122 L446.4 122 L446.5 122 L446.6 122 L446.7 122 L446.8 122 L446.9 122 L447 122 L447.1 122 L447.2 122 L447.3 122 L447.4 122 L447.5 122 L447.6 122 L447.7 122 L447.8 122 L447.9 122 L448 122 L448 122" fill="none" stroke="#00ff00" stroke-width="3.0" stroke-linejoin="bevel"/>
<path d="M244.8 203.95 L244.9 203.95 L245 203.95 L245.1 203.95 L245.2 203.95 L245.3 203.95 L245.4 203.95 L245.5 203.95 L245.6 203.95 L245.7 203.95 L245.8 203.95 L245.9 203.95 L246 203.95 L246.1 203.95 L246.2 203.95 L246.3 203.95 L246.4 203.95 L246.5 203.95 L246.6 203.95 L246.7 203.95 L246.8 203.95 L246.9 203.95 L247 203.95 L247.1 203.95 L247.2 203.95 L247.3 203.95 L247.4 203.95 L247.5 203.95 L247.6 203.95 L247.7 203.95 L247.8 203.95 L247.9 203.95 L248 203.95 L248.1 203.95 L248.2 203.95 L248.3 203.95 L248.4 203.95 L248.5 203.95 L248.6 203.95 L248.7 203.95 L248.8 203.95 L248.9 203.95 L249 203.95 L249.1 203.95 L249.2 203.95 L249.3 203.95 L249.4 203.95 L249.5 203.95 L249.6 203.95 L249.7 203.95 L249.8 203.95 L249.9 203.95 L250 203.95 L250.1 203.95 L250.2 203.95 L250.3 203.95 L250.4 203.95 L250.5 203.95 L250.6 203.95 L250.7 203.95 L250.8 203.95 L250.9 203.95 L251 203.95 L251.1 203.95 L251.2 203.95 L251.3 203.95 L251.4 203.95 L251.5 203.95 L251.6 203.95 L251.7 203.95 L251.8 203.95 L251.9 203.95 L252 203.95 L252.1 203.95 L252.2 203.95 L252.3 203.95 L252.4 203.95 L252.5 203.95 L252.6 203.95 L252.7 203.95 L252.8 203.95 L252.9 203.95 L253 203.95 L253.1 203.95 L253.2 203.95 L253.3 203.95 L253.4 203.95 L253.5 203.95 L253.6 203.95 L253.7 203.95 L253.8 203.95 L253.9 203.95 L254 203.95 L254.1 203.95 L254.2 203.95 L254.3 203.95 L254.4 203.95 L254.5 203.95 L254.6 203.95 L254.7 203.95 L254.8 203.95 L254.9 203.95 L255 203.95 L255.1 203.95 L255.2 203.95 L255.3 203.95 L255.4 203.95 L255.5 203.95 L255.6 203.95 L255.7 203.95 L255.8 203.95 L255.9 203.95 L256 203.95 L256.1 203.95 L256.2 203.95 L256.3 203.95 L256.4 203.95 L256.5 203.95 L256.6 203.95 L256.7 203.95 L256.8 203.95 L256.9 203.95 L257 203.95 L257.1 203.95 L257.2 203.95 L257.3 203.95 L257.4 203.95 L257.5 203.95 L257.6 203.95 L257.7 203.95 L257.8 203.95 L257.9 203.95 L258 203.95 L258.1 203.95 L258.2 203.95 L258.3 203.95 L258.4 203.95 L258.5 203.95 L258.6 203.95 L258.7 203.95 L258.8 203.95 L258.9 203.95 L259 203.95 L259.1 203.95 L259.2 203.95 L259.3 203.95 L259.4 203.95 L259.5 203.95 L259.6 203.95 L259.7 203.95 L259.8 203.95 L259.9 203.95 L260 203.95 L260.1 203.95 L260.2 203.95 L260.3 203.95 L260.4 203.95 L260.5 203.95 L260.6 203.95 L260.7 203.95 L260.8 203.95 L260.9 203.95 L261 203.95 L261.1 203.95 L261.2 203.95 L261.3 203.95 L261.4 203.95 L261.5 203.95 L261.6 203.95 L261.7 203.95 L261.8 203.95 L261.9 203.95 L262 203.95 L262.1 203.95 L262.2 203.95 L262.3 203.95 L262.4 203.95 L262.5 203.95 L262.6 203.95 L262.7 203.95 L262.8 203.95 L262.9 203.95 L263 203.95 L263.1 203.95 L263.2 203.95 L263.3 203.95 L263.4 203.95 L263.5 203.95 L263.6 203.95 L263.7 203.95 L263.8 203.95 L263.9 203.95 L264 203.95 L264.1 203.95 L264.2 203.95 L264.3 203.95 L264.4 203.95 L264.5 203.95 L264.6 203.95 L264.7 203.95 L264.8 203.95 L264.9 203.95 L265 203.95 L265.1 203.95 L265.2 203.95 L265.3 203.95 L265.4 203.95 L265.5 203.95 L265.6 203.95 L265.7 203.95 L265.8 203.95 L265.9 203.95 L266 203.95 L266.1 203.95 L266.2 203.95 L266.3 203.95 L266.4 203.95 L266.5 203.95 L266.6 203.95 L266.7 203.95 L266.8 203.95 L266.9 203.95 L267 203.95 L267.1 203.95 L267.2 203.95 L267.3 203.95 L267.4 203.95 L267.5 203.95 L267.6 203.95 L267.7 203.95 L267.8 203.95 L267.9 203.95 L268 203.95 L268.1 203.95 L268.2 203.95 L268.3 203.95 L268.4 203.95 L268.5 203.95 L268.6 203.95 L268.7 203.95 L268.8 203.95 L268.9 203.95 L269 203.95 L269.1 203.95 L269.2 203.95 L269.3 203.95 L269.4 203.95 L269.5 203.95 L269.6 203.95 L269.7 203.95 L269.8 203.95 L269.9 203.95 L270 203.95 L270.1 203.95 L270.2 203.95 L270.3 203.95 L270.4 203.95 L270.5 203.95 L270.6 203.95 L270.7 203.95 L270.8 203.95 L270.9 203.95 L271 203.95 L271.1 203.95 L271.2 203.95 L271.3 203.95 L271.4 203.95 L271.5 203.95 L271.6 203.95 L271.7 203.95 L271.8 203.95 L271.9 203.95 L272 203.95 L272.1 203.95 L272.2 203.95 L272.3 203.95 L272.4 203.95 L272.5 203.95 L272.6 203.95 L272.7 203.95 L272.8 203.95 L272.9 203.95 L273 203.95 L273.1 203.95 L273.2 203.95 L273.3 203.95 L273.4 203.95 L273.5 203.95 L273.6 203.95 L273.7 203.95 L273.8 203.95 L273.9 203.95 L274 203.95 L274.1 203.95 L274.2 203.95 L274.3 203.95 L274.4 203.95 L274.5 203.95 L274.6 203.95 L274.7 203.95 L274.8 203.95 L274.9 203.95 L275 203.95 L275.1 203.95 L275.2 203.95 L275.3 203.95 L275.4 203.95 L275.5 203.95 L275.6 203.95 L275.7 203.95 L275.8 203.95 L275.9 203.95 L276 203.95 L276.1 203.95 L276.2 203.95 L276.3 203.95 L276.4 203.95 L276.5 203.95 L276.6 203.95 L276.7 203.95 L276.8 203.95 L276.9 203.95 L277 203.95 L277.1 203.95 L277.2 203.95 L277.3 203.95 L277.4 203.95 L277.5 203.95 L277.6 203.95 L277.7 203.95 L277.8 203.95 L277.9 203.95 L278 203.95 L278.1 203.95 L278.2 203.95 L278.3 203.95 L278.4 203.95 L278.5 203.95 L278.6 203.95 L278.7 203.95 L278.8 203.95 L278.9 203.95 L279 203.95 L279.1 203.95 L279.2 203.95 L279.3 203.95 L279.4 203.95 L279.5 203.95 L279.6 203.95 L279.7 203.95 L279.8 203.95 L279.9 203.95 L280 203.95 L280.1 203.95 L280.2 203.95 L280.3 203.95 L280.4 203.95 L280.5 203.95 L280.6 203.95 L280.7 203.95 L280.8 203.95 L280.9 203.95 L281 203.95 L281.1 203.95 L281.2 203.95 L281.3 203.95 L281.4 203.95 L281.5 203.95 L281.6 203.95 L281.7 203.92 L281.8 203.85 L281.9 203.73 L282 203.56 L282.1 203.35 L282.2 203.11 L282.3 202.83 L282.4 202.52 L282.5 202.18 L282.6 201.82 L282.7 201.43 L282.8 201.03 L282.9 200.61 L283 200.17 L283.1 199.72 L283.2 199.27 L283.3 198.81 L283.4 198.35 L283.5 197.83 L283.6 197.22 L283.7 196.51 L283.8 195.72 L283.9 194.86 L284 193.95 L284.1 192.99 L284.2 192 L284.3 191 L284.4 189.98 L284.5 188.97 L284.6 187.97 L284.7 187.01 L284.8 186.08 L284.9 185.2 L285 184.39 L285.1 183.65 L285.2 182.95 L285.3 182.25 L285.4 181.55 L285.5 180.84 L285.6 180.15 L285.7 179.46 L285.8 178.79 L285.9 178.12 L286 177.48 L286.1 176.86 L286.2 176.26 L286.3 175.68 L286.4 175.14 L286.5 174.62 L286.6 174.15 L286.7 173.71 L286.8 173.31 L286.9 172.96 L287 172.65 L287.1 172.37 L287.2 172.11 L287.3 171.85 L287.4 171.6 L287.5 171.36 L287.6 171.13 L287.7 170.91 L287.8 170.71 L287.9 170.51 L288 170.32 L288.1 170.14 L288.2 169.97 L288.3 169.8 L288.4 169.65 L288.5 169.51 L288.6 169.38 L288.7 169.26 L288.8 169.15 L288.9 169.04 L289 168.95 L289.1 168.86 L289.2 168.77 L289.3 168.69 L289.4 168.6 L289.5 168.52 L289.6 168.44 L289.7 168.37 L289.8 168.3 L289.9 168.23 L290 168.17 L290.1 168.12 L290.2 168.07 L290.3 168.03 L290.4 167.99 L290.5 167.97 L290.6 167.96 L290.7 167.95 L290.8 167.96 L290.9 167.97 L291 167.99 L291.1 168.03 L291.2 168.07 L291.3 168.12 L291.4 168.17 L291.5 168.23 L291.6 168.3 L291.7 168.37 L291.8 168.44 L291.9 168.52 L292 168.6 L292.1 168.69 L292.2 168.77 L292.3 168.86 L292.4 168.95 L292.5 169.05 L292.6 169.16 L292.7 169.28 L292.8 169.41 L292.9 169.56 L293 169.72 L293.1 169.89 L293.2 170.07 L293.3 170.25 L293.4 170.45 L293.5 170.65 L293.6 170.86 L293.7 171.07 L293.8 171.29 L293.9 171.51 L294 171.74 L294.1 171.96 L294.2 172.19 L294.3 172.42 L294.4 172.65 L294.5 172.89 L294.6 173.14 L294.7 173.4 L294.8 173.68 L294.9 173.96 L295 174.26 L295.1 174.57 L295.2 174.88 L295.3 175.2 L295.4 175.53 L295.5 175.86 L295.6 176.19 L295.7 176.52 L295.8 176.85 L295.9 177.19 L296 177.52 L296.1 177.85 L296.2 178.17 L296.3 178.49 L296.4 178.8 L296.5 179.1 L296.6 179.39 L296.7 179.68 L296.8 179.95 L296.9 180.22 L297 180.48 L297.1 180.75 L297.2 181.01 L297.3 181.27 L297.4 181.54 L297.5 181.8 L297.6 182.06 L297.7 182.32 L297.8 182.57 L297.9 182.83 L298 183.08 L298.1 183.34 L298.2 183.59 L298.3 183.84 L298.4 184.08 L298.5 184.33 L298.6 184.57 L298.7 184.81 L298.8 185.04 L298.9 185.28 L299 185.51 L299.1 185.74 L299.2 185.96 L299.3 186.18 L299.4 186.4 L299.5 186.62 L299.6 186.83 L299.7 187.04 L299.8 187.24 L299.9 187.44 L300 187.64 L300.1 187.83 L300.2 188.01 L300.3 188.2 L300.4 188.38 L300.5 188.55 L300.6 188.72 L300.7 188.89 L300.8 189.06 L300.9 189.23 L301 189.39 L301.1 189.55 L301.2 189.72 L301.3 189.88 L301.4 190.04 L301.5 190.19 L301.6 190.35 L301.7 190.5 L301.8 190.65 L301.9 190.8 L302 190.95 L302.1 191.09 L302.2 191.24 L302.3 191.38 L302.4 191.51 L302.5 191.65 L302.6 191.78 L302.7 191.91 L302.8 192.04 L302.9 192.17 L303 192.29 L303.1 192.41 L303.2 192.53 L303.3 192.64 L303.4 192.75 L303.5 192.86 L303.6 192.97 L303.7 193.07 L303.8 193.17 L303.9 193.27 L304 193.36 L304.1 193.45 L304.2 193.54 L304.3 193.62 L304.4 193.71 L304.5 193.79 L304.6 193.87 L304.7 193.95 L304.8 194.03 L304.9 194.11 L305 194.18 L305.1 194.26 L305.2 194.33 L305.3 194.4 L305.4 194.47 L305.5 194.54 L305.6 194.61 L305.7 194.68 L305.8 194.75 L305.9 194.81 L306 194.88 L306.1 194.94 L306.2 195 L306.3 195.07 L306.4 195.13 L306.5 195.19 L306.6 195.25 L306.7 195.31 L306.8 195.36 L306.9 195.42 L307 195.48 L307.1 195.54 L307.2 195.59 L307.3 195.65 L307.4 195.7 L307.5 195.76 L307.6 195.81 L307.7 195.87 L307.8 195.92 L307.9 195.97 L308 196.03 L308.1 196.08 L308.2 196.13 L308.3 196.18 L308.4 196.24 L308.5 196.29 L308.6 196.34 L308.7 196.39 L308.8 196.45 L308.9 196.5 L309 196.55 L309.1 196.6 L309.2 196.65 L309.3 196.71 L309.4 196.76 L309.5 196.81 L309.6 196.86 L309.7 196.91 L309.8 196.96 L309.9 197.01 L310 197.06 L310.1 197.11 L310.2 197.16 L310.3 197.21 L310.4 197.26 L310.5 197.31 L310.6 197.35 L310.7 197.4 L310.8 197.45 L310.9 197.5 L311 197.54 L311.1 197.59 L311.2 197.63 L311.3 197.68 L311.4 197.73 L311.5 197.77 L311.6 197.82 L311.7 197.86 L311.8 197.9 L311.9 197.95 L312 197.99 L312.1 198.03 L312.2 198.08 L312.3 198.12 L312.4 198.16 L312.5 198.2 L312.6 198.25 L312.7 198.29 L312.8 198.33 L312.9 198.37 L313 198.41 L313.1 198.45 L313.2 198.49 L313.3 198.52 L313.4 198.56 L313.5 198.6 L313.6 198.64 L313.7 198.68 L313.8 198.71 L313.9 198.75 L314 198.79 L314.1 198.82 L314.2 198.86 L314.3 198.9 L314.4 198.94 L314.5 198.98 L314.6 199.02 L314.7 199.06 L314.8 199.1 L314.9 199.14 L315 199.18 L315.1 199.22 L315.2 199.27 L315.3 199.31 L315.4 199.35 L315.5 199.39 L315.6 199.43 L315.7 199.47 L315.8 199.51 L315.9 199.55 L316 199.59 L316.1 199.63 L316.2 199.67 L316.3 199.7 L316.4 199.74 L316.5 199.78 L316.6 199.81 L316.7 199.85 L316.8 199.88 L316.9 199.91 L317 199.94 L317.1 199.97 L317.2 200 L317.3 200.03 L317.4 200.06 L317.5 200.08 L317.6 200.1 L317.7 200.13 L317.8 200.15 L317.9 200.17 L318 200.18 L318.1 200.2 L318.2 200.21 L318.3 200.22 L318.4 200.23 L318.5 200.24 L318.6 200.25 L318.7 200.25 L318.8 200.25 L318.9 200.25 L319 200.25 L319.1 200.25 L319.2 200.25 L319.3 200.25 L319.4 200.25 L319.5 200.25 L319.6 200.25 L319.7 200.25 L319.8 200.25 L319.9 200.25 L320 200.25 L320.1 200.25 L320.2 200.25 L320.3 200.25 L320.4 200.25 L320.5 200.25 L320.6 200.25 L320.7 200.25 L320.8 200.25 L320.9 200.25 L321 200.25 L321.1 200.25 L321.2 200.25 L321.3 200.25 L321.4 200.25 L321.5 200.25 L321.6 200.25 L321.7 200.25 L321.8 200.25 L321.9 200.25 L322 200.25 L322.1 200.25 L322.2 200.25 L322.3 200.25 L322.4 200.25 L322.5 200.25 L322.6 200.25 L322.7 200.25 L322.8 200.25 L322.9 200.25 L323 200.25 L323.1 200.25 L323.2 200.25 L323.3 200.24 L323.4 200.22 L323.5 200.18 L323.6 200.14 L323.7 200.07 L323.8 200 L323.9 199.91 L324 199.82 L324.1 199.71 L324.2 199.59 L324.3 199.47 L324.4 199.33 L324.5 199.19 L324.6 199.04 L324.7 198.88 L324.8 198.72 L324.9 198.55 L325 198.37 L325.1 198.19 L325.2 198.01 L325.3 197.82 L325.4 197.63 L325.5 197.44 L325.6 197.25 L325.7 197.05 L325.8 196.85 L325.9 196.63 L326 196.39 L326.1 196.13 L326.2 195.85 L326.3 195.55 L326.4 195.22 L326.5 194.87 L326.6 194.5 L326.7 194.09 L326.8 193.65 L326.9 193.19 L327 192.68 L327.1 192.15 L327.2 191.36 L327.3 190.21 L327.4 188.86 L327.5 187.5 L327.6 186.27 L327.7 185.37 L327.8 184.95 L327.9 184.85 L328 184.78 L328.1 184.74 L328.2 184.7 L328.3 184.67 L328.4 184.62 L328.5 184.55 L328.6 184.45 L328.7 183.75 L328.8 182.18 L328.9 180.18 L329 178.19 L329.1 176.63 L329.2 175.95 L329.3 175.86 L329.4 175.78 L329.5 175.73 L329.6 175.68 L329.7 175.65 L329.8 175.62 L329.9 175.59 L330 175.55 L330.1 175.51 L330.2 175.45 L330.3 175.39 L330.4 175.34 L330.5 175.29 L330.6 175.24 L330.7 175.18 L330.8 175.11 L330.9 175.03 L331 174.92 L331.1 174.8 L331.2 174.64 L331.3 174.45 L331.4 172.15 L331.5 167.35 L331.6 162.6 L331.7 160.45 L331.8 161.7 L331.9 164.67 L332 168.23 L332.1 171.2 L332.2 172.45 L332.3 172.45 L332.4 172.45 L332.5 172.45 L332.6 172.45 L332.7 172.45 L332.8 172.45 L332.9 172.45 L333 172.45 L333.1 172.45 L333.2 172.45 L333.3 172.45 L333.4 172.45 L333.5 172.45 L333.6 172.45 L333.7 171.29 L333.8 168.29 L333.9 164.18 L334 159.72 L334.1 155.61 L334.2 152.61 L334.3 151.45 L334.4 152.8 L334.5 156.29 L334.6 161.09 L334.7 166.34 L334.8 171.21 L334.9 174.86 L335 176.45 L335.1 176.71 L335.2 176.96 L335.3 177.18 L335.4 177.38 L335.5 177.56 L335.6 177.73 L335.7 177.87 L335.8 178 L335.9 178.11 L336 178.2 L336.1 178.28 L336.2 178.34 L336.3 178.39 L336.4 178.42 L336.5 178.44 L336.6 178.45 L336.7 178.44 L336.8 178.43 L336.9 178.39 L337 178.34 L337.1 178.28 L337.2 178.2 L337.3 178.1 L337.4 177.97 L337.5 177.83 L337.6 177.67 L337.7 177.48 L337.8 177.26 L337.9 177.02 L338 176.75 L338.1 176.45 L338.2 173.99 L338.3 168.99 L338.4 164.07 L338.5 161.85 L338.6 164.5 L338.7 170.43 L338.8 176.62 L338.9 180.05 L339 181.01 L339.1 181.82 L339.2 182.52 L339.3 183.1 L339.4 183.59 L339.5 184.02 L339.6 184.39 L339.7 184.72 L339.8 185.03 L339.9 185.34 L340 185.67 L340.1 186.04 L340.2 186.45 L340.3 186.89 L340.4 187.33 L340.5 187.75 L340.6 188.17 L340.7 188.58 L340.8 188.99 L340.9 189.39 L341 189.79 L341.1 190.19 L341.2 190.58 L341.3 190.98 L341.4 191.37 L341.5 191.76 L341.6 192.15 L341.7 192.54 L341.8 192.94 L341.9 193.33 L342 193.73 L342.1 194.12 L342.2 194.51 L342.3 194.9 L342.4 195.29 L342.5 195.67 L342.6 196.04 L342.7 196.4 L342.8 196.76 L342.9 197.11 L343 197.45 L343.1 197.79 L343.2 198.13 L343.3 198.47 L343.4 198.81 L343.5 199.14 L343.6 199.47 L343.7 199.78 L343.8 200.08 L343.9 200.36 L344 200.61 L344.1 200.85 L344.2 201.05 L344.3 201.24 L344.4 201.43 L344.5 201.61 L344.6 201.79 L344.7 201.97 L344.8 202.14 L344.9 202.31 L345 202.47 L345.1 202.62 L345.2 202.76 L345.3 202.89 L345.4 203.01 L345.5 203.12 L345.6 203.22 L345.7 203.3 L345.8 203.36 L345.9 203.42 L346 203.45 L346.1 203.48 L346.2 203.5 L346.3 203.52 L346.4 203.55 L346.5 203.57 L346.6 203.59 L346.7 203.61 L346.8 203.63 L346.9 203.65 L347 203.67 L347.1 203.69 L347.2 203.71 L347.3 203.73 L347.4 203.74 L347.5 203.76 L347.6 203.77 L347.7 203.79 L347.8 203.8 L347.9 203.81 L348 203.83 L348.1 203.84 L348.2 203.85 L348.3 203.86 L348.4 203.87 L348.5 203.88 L348.6 203.89 L348.7 203.9 L348.8 203.91 L348.9 203.91 L349 203.92 L349.1 203.93 L349.2 203.93 L349.3 203.94 L349.4 203.94 L349.5 203.94 L349.6 203.95 L349.7 203.95 L349.8 203.95 L349.9 203.95 L350 203.95 L350.1 203.95 L350.2 203.95 L350.3 203.95 L350.4 203.95 L350.5 203.95 L350.6 203.95 L350.7 203.95 L350.8 203.95 L350.9 203.95 L351 203.95 L351.1 203.95 L351.2 203.95 L351.3 203.95 L351.4 203.95 L351.5 203.95 L351.6 203.95 L351.7 203.95 L351.8 203.95 L351.9 203.95 L352 203.95 L352.1 203.95 L352.2 203.95 L352.3 203.95 L352.4 203.95 L352.5 203.95 L352.6 203.95 L352.7 203.95 L352.8 203.95 L352.9 203.95 L353 203.95 L353.1 203.95 L353.2 203.95 L353.3 203.95 L353.4 203.95 L353.5 203.95 L353.6 203.95 L353.7 203.95 L353.8 203.95 L353.9 203.95 L354 203.95 L354.1 203.95 L354.2 203.95 L354.3 203.95 L354.4 203.95 L354.5 203.95 L354.6 203.95 L354.7 203.95 L354.8 203.95 L354.9 203.95 L355 203.95 L355.1 203.95 L355.2 203.95 L355.3 203.95 L355.4 203.95 L355.5 203.95 L355.6 203.95 L355.7 203.95 L355.8 203.95 L355.9 203.95 L356 203.95 L356.1 203.95 L356.2 203.95 L356.3 203.95 L356.4 203.95 L356.5 203.95 L356.6 203.95 L356.7 203.95 L356.8 203.95 L356.9 203.95 L357 203.95 L357.1 203.95 L357.2 203.95 L357.3 203.95 L357.4 203.95 L357.5 203.95 L357.6 203.95 L357.7 203.95 L357.8 203.95 L357.9 203.95 L358 203.95 L358.1 203.95 L358.2 203.95 L358.3 203.95 L358.4 203.95 L358.5 203.95 L358.6 203.95 L358.7 203.95 L358.8 203.95 L358.9 203.95 L359 203.95 L359.1 203.95 L359.2 203.95 L359.3 203.95 L359.4 203.95 L359.5 203.95 L359.6 203.95 L359.7 203.95 L359.8 203.95 L359.9 203.95 L360 203.95 L360.1 203.95 L360.2 203.95 L360.3 203.95 L360.4 203.95 L360.5 203.95 L360.6 203.95 L360.7 203.95 L360.8 203.95 L360.9 203.95 L361 203.95 L361.1 203.95 L361.2 203.95 L361.3 203.95 L361.4 203.95 L361.5 203.95 L361.6 203.95 L361.7 203.95 L361.8 203.95 L361.9 203.95 L362 203.95 L362.1 203.95 L362.2 203.95 L362.3 203.95 L362.4 203.95 L362.5 203.95 L362.6 203.95 L362.7 203.95 L362.8 203.95 L362.9 203.95 L363 203.95 L363.1 203.95 L363.2 203.95 L363.3 203.95 L363.4 203.95 L363.5 203.95 L363.6 203.95 L363.7 203.95 L363.8 203.95 L363.9 203.95 L364 203.95 L364.1 203.95 L364.2 203.95 L364.3 203.95 L364.4 203.95 L364.5 203.95 L364.6 203.94 L364.7 203.92 L364.8 203.88 L364.9 203.83 L365 203.77 L365.1 203.7 L365.2 203.63 L365.3 203.57 L365.4 203.5 L365.5 203.43 L365.6 203.37 L365.7 203.32 L365.8 203.28 L365.9 203.26 L366 203.25 L366.1 203.26 L366.2 203.28 L366.3 203.32 L366.4 203.37 L366.5 203.43 L366.6 203.5 L366.7 203.57 L366.8 203.63 L366.9 203.7 L367 203.77 L367.1 203.83 L367.2 203.88 L367.3 203.92 L367.4 203.94 L367.5 203.95 L367.6 203.95 L367.7 203.95 L367.8 203.95 L367.9 203.95 L368 203.95 L368.1 203.95 L368.2 203.95 L368.3 203.95 L368.4 203.95 L368.5 203.95 L368.6 203.95 L368.7 203.95 L368.8 203.95 L368.9 203.95 L369 203.95 L369.1 203.95 L369.2 203.95 L369.3 203.95 L369.4 203.95 L369.5 203.95 L369.6 203.95 L369.7 203.95 L369.8 203.95 L369.9 203.95 L370 203.95 L370.1 203.95 L370.2 203.95 L370.3 203.95 L370.4 203.95 L370.5 203.95 L370.6 203.95 L370.7 203.95 L370.8 203.95 L370.9 203.95 L371 203.95 L371.1 203.95 L371.2 203.95 L371.3 203.95 L371.4 203.95 L371.5 203.95 L371.6 203.95 L371.7 203.95 L371.8 203.95 L371.9 203.95 L372 203.95 L372.1 203.95 L372.2 203.95 L372.3 203.95 L372.4 203.95 L372.5 203.95 L372.6 203.95 L372.7 203.95 L372.8 203.95 L372.9 203.95 L373 203.95 L373.1 203.95 L373.2 203.95 L373.3 203.95 L373.4 203.95 L373.5 203.95 L373.6 203.95 L373.7 203.95 L373.8 203.95 L373.9 203.95 L374 203.95 L374.1 203.95 L374.2 203.95 L374.3 203.95 L374.4 203.95 L374.5 203.95 L374.6 203.95 L374.7 203.95 L374.8 203.95 L374.9 203.95 L375 203.95 L375.1 203.95 L375.2 203.95 L375.3 203.95 L375.4 203.95 L375.5 203.95 L375.6 203.95 L375.7 203.95 L375.8 203.95 L375.9 203.95 L376 203.95 L376.1 203.95 L376.2 203.95 L376.3 203.95 L376.4 203.95 L376.5 203.95 L376.6 203.95 L376.7 203.95 L376.8 203.95 L376.9 203.95 L377 203.95 L377.1 203.95 L377.2 203.95 L377.3 203.95 L377.4 203.95 L377.5 203.95 L377.6 203.95 L377.7 203.95 L377.8 203.95 L377.9 203.95 L378 203.95 L378.1 203.95 L378.2 203.95 L378.3 203.95 L378.4 203.95 L378.5 203.95 L378.6 203.95 L378.7 203.95 L378.8 203.95 L378.9 203.95 L379 203.95 L379.1 203.95 L379.2 203.95 L379.3 203.95 L379.4 203.95 L379.5 203.95 L379.6 203.95 L379.7 203.95 L379.8 203.95 L379.9 203.95 L380 203.95 L380.1 203.95 L380.2 203.95 L380.3 203.95 L380.4 203.95 L380.5 203.95 L380.6 203.95 L380.7 203.95 L380.8 203.95 L380.9 203.95 L381 203.95 L381.1 203.95 L381.2 203.95 L381.3 203.95 L381.4 203.95 L381.5 203.95 L381.6 203.95 L381.7 203.95 L381.8 203.95 L381.9 203.95 L382 203.95 L382.1 203.95 L382.2 203.95 L382.3 203.95 L382.4 203.95 L382.5 203.95 L382.6 203.95 L382.7 203.95 L382.8 203.95 L382.9 203.95 L383 203.95 L383.1 203.95 L383.2 203.95 L383.3 203.95 L383.4 203.95 L383.5 203.95 L383.6 203.95 L383.7 203.95 L383.8 203.95 L383.9 203.95 L384 203.95 L384.1 203.95 L384.2 203.95 L384.3 203.95 L384.4 203.95 L384.5 203.95 L384.6 203.95 L384.7 203.95 L384.8 203.95 L384.9 203.95 L385 203.95 L385.1 203.95 L385.2 203.95 L385.3 203.95 L385.4 203.95 L385.5 203.95 L385.6 203.95 L385.7 203.95 L385.8 203.95 L385.9 203.95 L386 203.95 L386.1 203.95 L386.2 203.95 L386.3 203.95 L386.4 203.95 L386.5 203.95 L386.6 203.95 L386.7 203.95 L386.8 203.95 L386.9 203.95 L387 203.95 L387.1 203.95 L387.2 203.95 L387.3 203.95 L387.4 203.95 L387.5 203.95 L387.6 203.95 L387.7 203.95 L387.8 203.95 L387.9 203.95 L388 203.95 L388.1 203.95 L388.2 203.95 L388.3 203.95 L388.4 203.95 L388.5 203.95 L388.6 203.95 L388.7 203.95 L388.8 203.95 L388.9 203.95 L389 203.95 L389.1 203.95 L389.2 203.95 L389.3 203.95 L389.4 203.95 L389.5 203.95 L389.6 203.95 L389.7 203.95 L389.8 203.95 L389.9 203.95 L390 203.95 L390.1 203.95 L390.2 203.95 L390.3 203.95 L390.4 203.95 L390.5 203.95 L390.6 203.95 L390.7 203.95 L390.8 203.95 L390.9 203.95 L391 203.95 L391.1 203.95 L391.2 203.95 L391.3 203.95 L391.4 203.95 L391.5 203.95 L391.6 203.95 L391.7 203.95 L391.8 203.95 L391.9 203.95 L392 203.95 L392.1 203.95 L392.2 203.95 L392.3 203.95 L392.4 203.95 L392.5 203.95 L392.6 203.95 L392.7 203.95 L392.8 203.95 L392.9 203.95 L393 203.95 L393.1 203.95 L393.2 203.95 L393.3 203.95 L393.4 203.95 L393.5 203.95 L393.6 203.95 L393.7 203.95 L393.8 203.95 L393.9 203.95 L394 203.95 L394.1 203.95 L394.2 203.95 L394.3 203.95 L394.4 203.95 L394.5 203.95 L394.6 203.95 L394.7 203.95 L394.8 203.95 L394.9 203.95 L395 203.95 L395.1 203.95 L395.2 203.95 L395.3 203.95 L395.4 203.95 L395.5 203.95 L395.6 203.95 L395.7 203.95 L395.8 203.95 L395.9 203.95 L396 203.95 L396.1 203.95 L396.2 203.95 L396.3 203.95 L396.4 203.95 L396.5 203.95 L396.6 203.95 L396.7 203.95 L396.8 203.95 L396.9 203.95 L397 203.95 L397.1 203.95 L397.2 203.95 L397.3 203.95 L397.4 203.95 L397.5 203.95 L397.6 203.95 L397.7 203.95 L397.8 203.95 L397.9 203.95 L398 203.95 L398.1 203.95 L398.2 203.95 L398.3 203.95 L398.4 203.95 L398.5 203.95 L398.6 203.95 L398.7 203.95 L398.8 203.95 L398.9 203.95 L399 203.95 L399.1 203.95 L399.2 203.95 L399.3 203.95 L399.4 203.95 L399.5 203.95 L399.6 203.95 L399.7 203.95 L399.8 203.95 L399.9 203.95 L400 203.95 L400.1 203.95 L400.2 203.95 L400.3 203.95 L400.4 203.95 L400.5 203.95 L400.6 203.95 L400.7 203.95 L400.8 203.95 L400.9 203.95 L401 203.95 L401.1 203.95 L401.2 203.95 L401.3 203.95 L401.4 203.95 L401.5 203.95 L401.6 203.95 L401.7 203.95 L401.8 203.95 L401.9 203.95 L402 203.95 L402.1 203.95 L402.2 203.95 L402.3 203.95 L402.4 203.95 L402.5 203.95 L402.6 203.95 L402.7 203.95 L402.8 203.95 L402.9 203.95 L403 203.95 L403.1 203.95 L403.2 203.95 L403.3 203.95 L403.4 203.95 L403.5 203.95 L403.6 203.95 L403.7 203.95 L403.8 203.95 L403.9 203.95 L404 203.95 L404.1 203.95 L404.2 203.95 L404.3 203.95 L404.4 203.95 L404.5 203.95 L404.6 203.95 L404.7 203.95 L404.8 203.95 L404.9 203.95 L405 203.95 L405.1 203.95 L405.2 203.95 L405.3 203.95 L405.4 203.95 L405.5 203.95 L405.6 203.95 L405.7 203.95 L405.8 203.95 L405.9 203.95 L406 203.95 L406.1 203.95 L406.2 203.95 L406.3 203.95 L406.4 203.95 L406.5 203.95 L406.6 203.95 L406.7 203.95 L406.8 203.95 L406.9 203.95 L407 203.95 L407.1 203.95 L407.2 203.95 L407.3 203.95 L407.4 203.95 L407.5 203.95 L407.6 203.95 L407.7 203.95 L407.8 203.95 L407.9 203.95 L408 203.95 L408.1 203.95 L408.2 203.95 L408.3 203.95 L408.4 203.95 L408.5 203.95 L408.6 203.95 L408.7 203.95 L408.8 203.95 L408.9 203.95 L409 203.95 L409.1 203.95 L409.2 203.95 L409.3 203.95 L409.4 203.95 L409.5 203.95 L409.6 203.95 L409.7 203.95 L409.8 203.95 L409.9 203.95 L410 203.95 L410.1 203.95 L410.2 203.95 L410.3 203.95 L410.4 203.95 L410.5 203.95 L410.6 203.95 L410.7 203.95 L410.8 203.95 L410.9 203.95 L411 203.95 L411.1 203.95 L411.2 203.95 L411.3 203.95 L411.4 203.95 L411.5 203.95 L411.6 203.95 L411.7 203.95 L411.8 203.95 L411.9 203.95 L412 203.95 L412.1 203.95 L412.2 203.95 L412.3 203.95 L412.4 203.95 L412.5 203.95 L412.6 203.95 L412.7 203.95 L412.8 203.95 L412.9 203.95 L413 203.95 L413.1 203.95 L413.2 203.95 L413.3 203.95 L413.4 203.95 L413.5 203.95 L413.6 203.95 L413.7 203.95 L413.8 203.95 L413.9 203.95 L414 203.95 L414.1 203.95 L414.2 203.95 L414.3 203.95 L414.4 203.95 L414.5 203.95 L414.6 203.95 L414.7 203.95 L414.8 203.95 L414.9 203.95 L415 203.95 L415.1 203.95 L415.2 203.95 L415.3 203.95 L415.4 203.95 L415.5 203.95 L415.6 203.95 L415.7 203.95 L415.8 203.95 L415.9 203.95 L416 203.95 L416.1 203.95 L416.2 203.95 L416.3 203.95 L416.4 203.95 L416.5 203.95 L416.6 203.95 L416.7 203.95 L416.8 203.95 L416.9 203.95 L417 203.95 L417.1 203.95 L417.2 203.95 L417.3 203.95 L417.4 203.95 L417.5 203.95 L417.6 203.95 L417.7 203.95 L417.8 203.95 L417.9 203.95 L418 203.95 L418.1 203.95 L418.2 203.95 L418.3 203.95 L418.4 203.95 L418.5 203.95 L418.6 203.95 L418.7 203.95 L418.8 203.95 L418.9 203.95 L419 203.95 L419.1 203.95 L419.2 203.95 L419.3 203.95 L419.4 203.95 L419.5 203.95 L419.6 203.95 L419.7 203.95 L419.8 203.95 L419.9 203.95 L420 203.95 L420.1 203.95 L420.2 203.95 L420.3 203.95 L420.4 203.95 L420.5 203.95 L420.6 203.95 L420.7 203.95 L420.8 203.95 L420.9 203.95 L421 203.95 L421.1 203.95 L421.2 203.95 L421.3 203.95 L421.4 203.95 L421.5 203.95 L421.6 203.95 L421.7 203.95 L421.8 203.95 L421.9 203.95 L422 203.95 L422.1 203.95 L422.2 203.95 L422.3 203.95 L422.4 203.95 L422.5 203.95 L422.6 203.95 L422.7 203.95 L422.8 203.95 L422.9 203.95 L423 203.95 L423.1 203.95 L423.2 203.95 L423.3 203.95 L423.4 203.95 L423.5 203.95 L423.6 203.95 L423.7 203.95 L423.8 203.95 L423.9 203.95 L424 203.95 L424.1 203.95 L424.2 203.95 L424.3 203.95 L424.4 203.95 L424.5 203.95 L424.6 203.95 L424.7 203.95 L424.8 203.95 L424.9 203.95 L425 203.95 L425.1 203.95 L425.2 203.95 L425.3 203.95 L425.4 203.95 L425.5 203.95 L425.6 203.95 L425.7 203.95 L425.8 203.95 L425.9 203.95 L426 203.95 L426.1 203.95 L426.2 203.95 L426.3 203.95 L426.4 203.95 L426.5 203.95 L426.6 203.95 L426.7 203.95 L426.8 203.95 L426.9 203.95 L427 203.95 L427.1 203.95 L427.2 203.95 L427.3 203.95 L427.4 203.95 L427.5 203.95 L427.6 203.95 L427.7 203.95 L427.8 203.95 L427.9 203.95 L428 203.95 L428.1 203.95 L428.2 203.95 L428.3 203.95 L428.4 203.95 L428.5 203.95 L428.6 203.95 L428.7 203.95 L428.8 203.95 L428.9 203.95 L429 203.95 L429.1 203.95 L429.2 203.95 L429.3 203.95 L429.4 203.95 L429.5 203.95 L429.6 203.95 L429.7 203.95 L429.8 203.95 L429.9 203.95 L430 203.95 L430.1 203.95 L430.2 203.95 L430.3 203.95 L430.4 203.95 L430.5 203.95 L430.6 203.95 L430.7 203.95 L430.8 203.95 L430.9 203.95 L431 203.95 L431.1 203.95 L431.2 203.95 L431.3 203.95 L431.4 203.95 L431.5 203.95 L431.6 203.95 L431.7 203.95 L431.8 203.95 L431.9 203.95 L432 203.95 L432.1 203.95 L432.2 203.95 L432.3 203.95 L432.4 203.95 L432.5 203.95 L432.6 203.95 L432.7 203.95 L432.8 203.95 L432.9 203.95 L433 203.95 L433.1 203.95 L433.2 203.95 L433.3 203.95 L433.4 203.95 L433.5 203.95 L433.6 203.95 L433.7 203.95 L433.8 203.95 L433.9 203.95 L434 203.95 L434.1 203.95 L434.2 203.95 L434.3 203.95 L434.4 203.95 L434.5 203.95 L434.6 203.95 L434.7 203.95 L434.8 203.95 L434.9 203.95 L435 203.95 L435.1 203.95 L435.2 203.95 L435.3 203.95 L435.4 203.95 L435.5 203.95 L435.6 203.95 L435.7 203.95 L435.8 203.95 L435.9 203.95 L436 203.95 L436.1 203.95 L436.2 203.95 L436.3 203.95 L436.4 203.95 L436.5 203.95 L436.6 203.95 L436.7 203.95 L436.8 203.95 L436.9 203.95 L437 203.95 L437.1 203.95 L437.2 203.95 L437.3 203.95 L437.4 203.95 L437.5 203.95 L437.6 203.95 L437.7 203.95 L437.8 203.95 L437.9 203.95 L438 203.95 L438.1 203.95 L438.2 203.95 L438.3 203.95 L438.4 203.95 L438.5 203.95 L438.6 203.95 L438.7 203.95 L438.8 203.95 L438.9 203.95 L439 203.95 L439.1 203.95 L439.2 203.95 L439.3 203.95 L439.4 203.95 L439.5 203.95 L439.6 203.95 L439.7 203.95 L439.8 203.95 L439.9 203.95 L440 203.95 L440.1 203.95 L440.2 203.95 L440.3 203.95 L440.4 203.95 L440.5 203.95 L440.6 203.95 L440.7 203.95 L440.8 203.95 L440.9 203.95 L441 203.95 L441.1 203.95 L441.2 203.95 L441.3 203.95 L441.4 203.95 L441.5 203.95 L441.6 203.95 L441.7 203.95 L441.8 203.95 L441.9 203.95 L442 203.95 L442.1 203.95 L442.2 203.95 L442.3 203.95 L442.4 203.95 L442.5 203.95 L442.6 203.95 L442.7 203.95 L442.8 203.95 L442.9 203.95 L443 203.95 L443.1 203.95 L443.2 203.95 L443.3 203.95 L443.4 203.95 L443.5 203.95 L443.6 203.95 L443.7 203.95 L443.8 203.95 L443.9 203.95 L444 203.95 L444.1 203.95 L444.2 203.95 L444.3 203.95 L444.4 203.95 L444.5 203.95 L444.6 203.95 L444.7 203.95 L444.8 203.95 L444.9 203.95 L445 203.95 L445.1 203.95 L445.2 203.95 L445.3 203.95 L445.4 203.95 L445.5 203.95 L445.6 203.95 L445.7 203.95 L445.8 203.95 L445.9 203.95 L446 203.95 L446.1 203.95 L446.2 203.95 L446.3 203.95 L446.4 203.95 L446.5 203.95 L446.6 203.95 L446.7 203.95 L446.8 203.95 L446.9 203.95 L447 203.95 L447.1 203.95 L447.2 203.95 L447.3 203.95 L447.4 203.95 L447.5 203.95 L447.6 203.95 L447.7 203.95 L447.8 203.95 L447.9 203.95 L448 203.95 L448 203.95" fill="none" stroke="#ff0000" stroke-width="3.0" stroke-linejoin="bevel"/>
<path d="M244.8 286.4 L244.9 286.4 L245 286.4 L245.1 286.4 L245.2 286.4 L245.3 286.4 L245.4 286.4 L245.5 286.4 L245.6 286.4 L245.7 286.4 L245.8 286.4 L245.9 286.4 L246 286.4 L246.1 286.4 L246.2 286.4 L246.3 286.4 L246.4 286.4 L246.5 286.4 L246.6 286.4 L246.7 286.4 L246.8 286.4 L246.9 286.4 L247 286.4 L247.1 286.4 L247.2 286.4 L247.3 286.4 L247.4 286.4 L247.5 286.4 L247.6 286.4 L247.7 286.4 L247.8 286.4 L247.9 286.4 L248 286.4 L248.1 286.4 L248.2 286.4 L248.3 286.4 L248.4 286.4 L248.5 286.4 L248.6 286.4 L248.7 286.4 L248.8 286.4 L248.9 286.4 L249 286.4 L249.1 286.4 L249.2 286.4 L249.3 286.4 L249.4 286.4 L249.5 286.4 L249.6 286.4 L249.7 286.4 L249.8 286.4 L249.9 286.4 L250 286.4 L250.1 286.4 L250.2 286.4 L250.3 286.4 L250.4 286.4 L250.5 286.4 L250.6 286.4 L250.7 286.4 L250.8 286.4 L250.9 286.4 L251 286.4 L251.1 286.4 L251.2 286.4 L251.3 286.4 L251.4 286.4 L251.5 286.4 L251.6 286.4 L251.7 286.4 L251.8 286.4 L251.9 286.4 L252 286.4 L252.1 286.4 L252.2 286.4 L252.3 286.4 L252.4 286.4 L252.5 286.4 L252.6 286.4 L252.7 286.4 L252.8 286.4 L252.9 286.4 L253 286.4 L253.1 286.4 L253.2 286.4 L253.3 286.4 L253.4 286.4 L253.5 286.4 L253.6 286.4 L253.7 286.4 L253.8 286.4 L253.9 286.4 L254 286.4 L254.1 286.4 L254.2 286.4 L254.3 286.4 L254.4 286.4 L254.5 286.4 L254.6 286.4 L254.7 286.4 L254.8 286.4 L254.9 286.4 L255 286.4 L255.1 286.4 L255.2 286.4 L255.3 286.4 L255.4 286.4 L255.5 286.4 L255.6 286.4 L255.7 286.4 L255.8 286.4 L255.9 286.4 L256 286.4 L256.1 286.4 L256.2 286.4 L256.3 286.4 L256.4 286.4 L256.5 286.4 L256.6 286.4 L256.7 286.4 L256.8 286.4 L256.9 286.4 L257 286.4 L257.1 286.4 L257.2 286.4 L257.3 286.4 L257.4 286.4 L257.5 286.4 L257.6 286.4 L257.7 286.4 L257.8 286.4 L257.9 286.4 L258 286.4 L258.1 286.4 L258.2 286.4 L258.3 286.4 L258.4 286.4 L258.5 286.4 L258.6 286.4 L258.7 286.4 L258.8 286.4 L258.9 286.4 L259 286.4 L259.1 286.4 L259.2 286.4 L259.3 286.4 L259.4 286.4 L259.5 286.4 L259.6 286.4 L259.7 286.4 L259.8 286.4 L259.9 286.4 L260 286.4 L260.1 286.4 L260.2 286.4 L260.3 286.4 L260.4 286.4 L260.5 286.4 L260.6 286.4 L260.7 286.4 L260.8 286.4 L260.9 286.4 L261 286.4 L261.1 286.4 L261.2 286.4 L261.3 286.4 L261.4 286.4 L261.5 286.4 L261.6 286.4 L261.7 286.4 L261.8 286.4 L261.9 286.4 L262 286.4 L262.1 286.4 L262.2 286.4 L262.3 286.4 L262.4 286.4 L262.5 286.4 L262.6 286.4 L262.7 286.4 L262.8 286.4 L262.9 286.4 L263 286.4 L263.1 286.4 L263.2 286.4 L263.3 286.4 L263.4 286.4 L263.5 286.4 L263.6 286.4 L263.7 286.4 L263.8 286.4 L263.9 286.4 L264 286.4 L264.1 286.4 L264.2 286.4 L264.3 286.4 L264.4 286.4 L264.5 286.4 L264.6 286.4 L264.7 286.4 L264.8 286.4 L264.9 286.4 L265 286.4 L265.1 286.4 L265.2 286.4 L265.3 286.4 L265.4 286.4 L265.5 286.4 L265.6 286.4 L265.7 286.4 L265.8 286.4 L265.9 286.4 L266 286.4 L266.1 286.4 L266.2 286.4 L266.3 286.4 L266.4 286.4 L266.5 286.4 L266.6 286.4 L266.7 286.4 L266.8 286.4 L266.9 286.4 L267 286.4 L267.1 286.4 L267.2 286.4 L267.3 286.4 L267.4 286.4 L267.5 286.4 L267.6 286.4 L267.7 286.4 L267.8 286.4 L267.9 286.4 L268 286.4 L268.1 286.4 L268.2 286.4 L268.3 286.4 L268.4 286.4 L268.5 286.4 L268.6 286.4 L268.7 286.4 L268.8 286.4 L268.9 286.4 L269 286.4 L269.1 286.4 L269.2 286.4 L269.3 286.4 L269.4 286.4 L269.5 286.4 L269.6 286.4 L269.7 286.4 L269.8 286.4 L269.9 286.4 L270 286.4 L270.1 286.4 L270.2 286.4 L270.3 286.4 L270.4 286.4 L270.5 286.4 L270.6 286.4 L270.7 286.4 L270.8 286.4 L270.9 286.4 L271 286.4 L271.1 286.4 L271.2 286.4 L271.3 286.4 L271.4 286.4 L271.5 286.4 L271.6 286.4 L271.7 286.4 L271.8 286.4 L271.9 286.4 L272 286.4 L272.1 286.4 L272.2 286.4 L272.3 286.4 L272.4 286.4 L272.5 286.4 L272.6 286.4 L272.7 286.4 L272.8 286.4 L272.9 286.4 L273 286.4 L273.1 286.4 L273.2 286.4 L273.3 286.4 L273.4 286.4 L273.5 286.4 L273.6 286.4 L273.7 286.4 L273.8 286.4 L273.9 286.4 L274 286.4 L274.1 286.4 L274.2 286.4 L274.3 286.4 L274.4 286.4 L274.5 286.4 L274.6 286.4 L274.7 286.4 L274.8 286.4 L274.9 286.4 L275 286.4 L275.1 286.4 L275.2 286.4 L275.3 286.4 L275.4 286.4 L275.5 286.4 L275.6 286.4 L275.7 286.4 L275.8 286.4 L275.9 286.4 L276 286.4 L276.1 286.4 L276.2 286.4 L276.3 286.4 L276.4 286.4 L276.5 286.4 L276.6 286.4 L276.7 286.4 L276.8 286.4 L276.9 286.4 L277 286.4 L277.1 286.4 L277.2 286.4 L277.3 286.4 L277.4 286.4 L277.5 286.4 L277.6 286.4 L277.7 286.4 L277.8 286.4 L277.9 286.4 L278 286.4 L278.1 286.4 L278.2 286.4 L278.3 286.4 L278.4 286.4 L278.5 286.4 L278.6 286.4 L278.7 286.4 L278.8 286.4 L278.9 286.4 L279 286.4 L279.1 286.4 L279.2 286.4 L279.3 286.4 L279.4 286.4 L279.5 286.4 L279.6 286.4 L279.7 286.4 L279.8 286.4 L279.9 286.4 L280 286.4 L280.1 286.4 L280.2 286.4 L280.3 286.4 L280.4 286.4 L280.5 286.4 L280.6 286.4 L280.7 286.4 L280.8 286.4 L280.9 286.4 L281 286.4 L281.1 286.4 L281.2 286.4 L281.3 286.4 L281.4 286.4 L281.5 286.4 L281.6 286.4 L281.7 286.4 L281.8 286.4 L281.9 286.4 L282 286.4 L282.1 286.4 L282.2 286.4 L282.3 286.4 L282.4 286.4 L282.5 286.4 L282.6 286.4 L282.7 286.4 L282.8 286.4 L282.9 286.4 L283 286.4 L283.1 286.4 L283.2 286.4 L283.3 286.4 L283.4 286.4 L283.5 286.4 L283.6 286.4 L283.7 286.4 L283.8 286.4 L283.9 286.4 L284 286.4 L284.1 286.4 L284.2 286.4 L284.3 286.4 L284.4 286.4 L284.5 286.4 L284.6 286.4 L284.7 286.4 L284.8 286.4 L284.9 286.4 L285 286.4 L285.1 286.4 L285.2 286.4 L285.3 286.4 L285.4 286.4 L285.5 286.4 L285.6 286.4 L285.7 286.4 L285.8 286.4 L285.9 286.4 L286 286.4 L286.1 286.4 L286.2 286.4 L286.3 286.4 L286.4 286.4 L286.5 286.4 L286.6 286.4 L286.7 286.4 L286.8 286.4 L286.9 286.4 L287 286.4 L287.1 286.4 L287.2 286.4 L287.3 286.4 L287.4 286.4 L287.5 286.4 L287.6 286.4 L287.7 286.4 L287.8 286.4 L287.9 286.4 L288 286.4 L288.1 286.4 L288.2 286.4 L288.3 286.4 L288.4 286.4 L288.5 286.4 L288.6 286.4 L288.7 286.4 L288.8 286.4 L288.9 286.4 L289 286.4 L289.1 286.4 L289.2 286.4 L289.3 286.4 L289.4 286.4 L289.5 286.4 L289.6 286.4 L289.7 286.4 L289.8 286.4 L289.9 286.4 L290 286.4 L290.1 286.4 L290.2 286.4 L290.3 286.4 L290.4 286.4 L290.5 286.4 L290.6 286.4 L290.7 286.4 L290.8 286.4 L290.9 286.4 L291 286.4 L291.1 286.4 L291.2 286.4 L291.3 286.4 L291.4 286.4 L291.5 286.4 L291.6 286.4 L291.7 286.4 L291.8 286.4 L291.9 286.4 L292 286.4 L292.1 286.4 L292.2 286.4 L292.3 286.4 L292.4 286.4 L292.5 286.4 L292.6 286.4 L292.7 286.4 L292.8 286.4 L292.9 286.4 L293 286.4 L293.1 286.4 L293.2 286.4 L293.3 286.4 L293.4 286.4 L293.5 286.4 L293.6 286.4 L293.7 286.4 L293.8 286.4 L293.9 286.4 L294 286.4 L294.1 286.4 L294.2 286.4 L294.3 286.4 L294.4 286.4 L294.5 286.4 L294.6 286.4 L294.7 286.4 L294.8 286.4 L294.9 286.4 L295 286.4 L295.1 286.4 L295.2 286.4 L295.3 286.4 L295.4 286.4 L295.5 286.4 L295.6 286.4 L295.7 286.4 L295.8 286.4 L295.9 286.4 L296 286.4 L296.1 286.4 L296.2 286.4 L296.3 286.4 L296.4 286.4 L296.5 286.4 L296.6 286.4 L296.7 286.4 L296.8 286.4 L296.9 286.4 L297 286.4 L297.1 286.4 L297.2 286.4 L297.3 286.4 L297.4 286.4 L297.5 286.4 L297.6 286.4 L297.7 286.4 L297.8 286.4 L297.9 286.4 L298 286.4 L298.1 286.4 L298.2 286.4 L298.3 286.4 L298.4 286.4 L298.5 286.4 L298.6 286.4 L298.7 286.4 L298.8 286.4 L298.9 286.4 L299 286.4 L299.1 286.4 L299.2 286.4 L299.3 286.4 L299.4 286.4 L299.5 286.4 L299.6 286.4 L299.7 286.4 L299.8 286.4 L299.9 286.4 L300 286.4 L300.1 286.4 L300.2 286.4 L300.3 286.4 L300.4 286.4 L300.5 286.4 L300.6 286.4 L300.7 286.4 L300.8 286.4 L300.9 286.4 L301 286.4 L301.1 286.4 L301.2 286.4 L301.3 286.4 L301.4 286.4 L301.5 286.4 L301.6 286.4 L301.7 286.4 L301.8 286.4 L301.9 286.4 L302 286.4 L302.1 286.39 L302.2 286.39 L302.3 286.38 L302.4 286.38 L302.5 286.37 L302.6 286.37 L302.7 286.36 L302.8 286.35 L302.9 286.34 L303 286.33 L303.1 286.32 L303.2 286.31 L303.3 286.3 L303.4 286.28 L303.5 286.27 L303.6 286.26 L303.7 286.24 L303.8 286.23 L303.9 286.21 L304 286.2 L304.1 286.18 L304.2 286.17 L304.3 286.15 L304.4 286.13 L304.5 286.11 L304.6 286.09 L304.7 286.08 L304.8 286.06 L304.9 286.04 L305 286.02 L305.1 286 L305.2 285.98 L305.3 285.96 L305.4 285.94 L305.5 285.91 L305.6 285.89 L305.7 285.87 L305.8 285.85 L305.9 285.83 L306 285.81 L306.1 285.78 L306.2 285.76 L306.3 285.74 L306.4 285.72 L306.5 285.69 L306.6 285.67 L306.7 285.65 L306.8 285.62 L306.9 285.6 L307 285.58 L307.1 285.56 L307.2 285.53 L307.3 285.51 L307.4 285.49 L307.5 285.47 L307.6 285.44 L307.7 285.42 L307.8 285.4 L307.9 285.38 L308 285.35 L308.1 285.33 L308.2 285.31 L308.3 285.28 L308.4 285.26 L308.5 285.23 L308.6 285.2 L308.7 285.17 L308.8 285.15 L308.9 285.12 L309 285.09 L309.1 285.06 L309.2 285.03 L309.3 285 L309.4 284.97 L309.5 284.93 L309.6 284.9 L309.7 284.87 L309.8 284.84 L309.9 284.8 L310 284.77 L310.1 284.73 L310.2 284.7 L310.3 284.67 L310.4 284.63 L310.5 284.59 L310.6 284.56 L310.7 284.52 L310.8 284.49 L310.9 284.45 L311 284.42 L311.1 284.38 L311.2 284.34 L311.3 284.31 L311.4 284.27 L311.5 284.23 L311.6 284.2 L311.7 284.16 L311.8 284.12 L311.9 284.09 L312 284.05 L312.1 284.02 L312.2 283.98 L312.3 283.94 L312.4 283.91 L312.5 283.87 L312.6 283.84 L312.7 283.8 L312.8 283.77 L312.9 283.73 L313 283.7 L313.1 283.66 L313.2 283.63 L313.3 283.59 L313.4 283.56 L313.5 283.53 L313.6 283.5 L313.7 283.46 L313.8 283.43 L313.9 283.4 L314 283.37 L314.1 283.34 L314.2 283.31 L314.3 283.28 L314.4 283.25 L314.5 283.22 L314.6 283.19 L314.7 283.16 L314.8 283.14 L314.9 283.11 L315 283.08 L315.1 283.05 L315.2 283.03 L315.3 283 L315.4 282.97 L315.5 282.95 L315.6 282.92 L315.7 282.89 L315.8 282.87 L315.9 282.84 L316 282.82 L316.1 282.79 L316.2 282.77 L316.3 282.74 L316.4 282.71 L316.5 282.69 L316.6 282.66 L316.7 282.64 L316.8 282.61 L316.9 282.58 L317 282.56 L317.1 282.53 L317.2 282.5 L317.3 282.48 L317.4 282.45 L317.5 282.42 L317.6 282.39 L317.7 282.37 L317.8 282.34 L317.9 282.31 L318 282.28 L318.1 282.25 L318.2 282.22 L318.3 282.19 L318.4 282.16 L318.5 282.13 L318.6 282.1 L318.7 282.07 L318.8 282.03 L318.9 282 L319 281.97 L319.1 281.93 L319.2 281.9 L319.3 281.86 L319.4 281.83 L319.5 281.79 L319.6 281.75 L319.7 281.72 L319.8 281.68 L319.9 281.64 L320 281.6 L320.1 281.56 L320.2 281.52 L320.3 281.48 L320.4 281.43 L320.5 281.39 L320.6 281.34 L320.7 281.3 L320.8 281.25 L320.9 281.21 L321 281.16 L321.1 281.11 L321.2 281.06 L321.3 281.01 L321.4 280.96 L321.5 280.91 L321.6 280.85 L321.7 280.8 L321.8 280.75 L321.9 280.69 L322 280.63 L322.1 280.58 L322.2 280.52 L322.3 280.46 L322.4 280.4 L322.5 280.34 L322.6 280.28 L322.7 280.22 L322.8 280.15 L322.9 280.09 L323 280.02 L323.1 279.96 L323.2 279.89 L323.3 279.82 L323.4 279.76 L323.5 279.69 L323.6 279.62 L323.7 279.55 L323.8 279.47 L323.9 279.4 L324 279.33 L324.1 279.25 L324.2 279.17 L324.3 279.1 L324.4 279.02 L324.5 278.94 L324.6 278.86 L324.7 278.78 L324.8 278.7 L324.9 278.62 L325 278.53 L325.1 278.44 L325.2 278.35 L325.3 278.26 L325.4 278.17 L325.5 278.07 L325.6 277.97 L325.7 277.87 L325.8 277.77 L325.9 277.66 L326 277.55 L326.1 277.44 L326.2 277.33 L326.3 277.22 L326.4 277.1 L326.5 276.98 L326.6 276.86 L326.7 276.74 L326.8 276.62 L326.9 276.49 L327 276.36 L327.1 276.23 L327.2 276.1 L327.3 275.97 L327.4 275.83 L327.5 275.69 L327.6 275.55 L327.7 275.41 L327.8 275.27 L327.9 275.12 L328 274.98 L328.1 274.83 L328.2 274.68 L328.3 274.53 L328.4 274.37 L328.5 274.22 L328.6 274.06 L328.7 273.9 L328.8 273.74 L328.9 273.57 L329 273.4 L329.1 273.22 L329.2 273.04 L329.3 272.86 L329.4 272.67 L329.5 272.47 L329.6 272.27 L329.7 272.07 L329.8 271.87 L329.9 271.66 L330 271.44 L330.1 271.23 L330.2 271.01 L330.3 270.78 L330.4 270.55 L330.5 270.32 L330.6 270.09 L330.7 269.85 L330.8 269.61 L330.9 269.37 L331 269.12 L331.1 268.87 L331.2 268.62 L331.3 268.37 L331.4 268.11 L331.5 267.85 L331.6 267.59 L331.7 267.33 L331.8 267.07 L331.9 266.8 L332 266.53 L332.1 266.24 L332.2 265.95 L332.3 265.65 L332.4 265.34 L332.5 265.03 L332.6 264.7 L332.7 264.38 L332.8 264.04 L332.9 263.71 L333 263.36 L333.1 263.02 L333.2 262.67 L333.3 262.32 L333.4 261.97 L333.5 261.63 L333.6 261.28 L333.7 260.93 L333.8 260.58 L333.9 260.24 L334 259.9 L334.1 259.56 L334.2 259.23 L334.3 258.9 L334.4 258.58 L334.5 258.27 L334.6 257.96 L334.7 257.66 L334.8 257.36 L334.9 257.06 L335 256.76 L335.1 256.45 L335.2 256.14 L335.3 255.83 L335.4 255.5 L335.5 255.17 L335.6 254.83 L335.7 254.47 L335.8 254.1 L335.9 253.71 L336 253.3 L336.1 252.88 L336.2 252.44 L336.3 251.99 L336.4 251.52 L336.5 251.05 L336.6 250.57 L336.7 250.08 L336.8 249.59 L336.9 249.1 L337 248.6 L337.1 248.05 L337.2 247.43 L337.3 246.74 L337.4 246.03 L337.5 245.31 L337.6 244.62 L337.7 243.97 L337.8 243.41 L337.9 242.94 L338 242.6 L338.1 242.42 L338.2 242.45 L338.3 242.8 L338.4 243.37 L338.5 244.02 L338.6 244.6 L338.7 245.1 L338.8 245.6 L338.9 246.1 L339 246.61 L339.1 247.11 L339.2 247.62 L339.3 248.14 L339.4 248.67 L339.5 249.21 L339.6 249.76 L339.7 250.32 L339.8 250.9 L339.9 251.5 L340 252.12 L340.1 252.77 L340.2 253.43 L340.3 254.1 L340.4 254.79 L340.5 255.48 L340.6 256.17 L340.7 256.86 L340.8 257.55 L340.9 258.23 L341 258.9 L341.1 259.56 L341.2 260.22 L341.3 260.88 L341.4 261.54 L341.5 262.2 L341.6 262.86 L341.7 263.52 L341.8 264.18 L341.9 264.83 L342 265.49 L342.1 266.15 L342.2 266.8 L342.3 267.46 L342.4 268.12 L342.5 268.79 L342.6 269.46 L342.7 270.13 L342.8 270.79 L342.9 271.46 L343 272.11 L343.1 272.75 L343.2 273.38 L343.3 274 L343.4 274.6 L343.5 275.2 L343.6 275.8 L343.7 276.41 L343.8 277.01 L343.9 277.61 L344 278.19 L344.1 278.75 L344.2 279.29 L344.3 279.8 L344.4 280.28 L344.5 280.71 L344.6 281.1 L344.7 281.46 L344.8 281.81 L344.9 282.14 L345 282.46 L345.1 282.76 L345.2 283.05 L345.3 283.32 L345.4 283.58 L345.5 283.81 L345.6 284.03 L345.7 284.22 L345.8 284.4 L345.9 284.56 L346 284.72 L346.1 284.87 L346.2 285.01 L346.3 285.15 L346.4 285.27 L346.5 285.38 L346.6 285.48 L346.7 285.57 L346.8 285.64 L346.9 285.7 L347 285.75 L347.1 285.8 L347.2 285.84 L347.3 285.89 L347.4 285.93 L347.5 285.97 L347.6 286.01 L347.7 286.05 L347.8 286.09 L347.9 286.12 L348 286.16 L348.1 286.19 L348.2 286.22 L348.3 286.25 L348.4 286.27 L348.5 286.3 L348.6 286.32 L348.7 286.34 L348.8 286.35 L348.9 286.37 L349 286.38 L349.1 286.39 L349.2 286.39 L349.3 286.4 L349.4 286.4 L349.5 286.4 L349.6 286.4 L349.7 286.4 L349.8 286.4 L349.9 286.4 L350 286.4 L350.1 286.4 L350.2 286.4 L350.3 286.4 L350.4 286.4 L350.5 286.4 L350.6 286.4 L350.7 286.4 L350.8 286.4 L350.9 286.4 L351 286.4 L351.1 286.4 L351.2 286.4 L351.3 286.4 L351.4 286.4 L351.5 286.4 L351.6 286.4 L351.7 286.4 L351.8 286.4 L351.9 286.4 L352 286.4 L352.1 286.4 L352.2 286.4 L352.3 286.4 L352.4 286.4 L352.5 286.4 L352.6 286.4 L352.7 286.4 L352.8 286.4 L352.9 286.4 L353 286.4 L353.1 286.4 L353.2 286.4 L353.3 286.4 L353.4 286.4 L353.5 286.4 L353.6 286.4 L353.7 286.4 L353.8 286.4 L353.9 286.4 L354 286.4 L354.1 286.4 L354.2 286.4 L354.3 286.4 L354.4 286.4 L354.5 286.4 L354.6 286.4 L354.7 286.4 L354.8 286.4 L354.9 286.4 L355 286.4 L355.1 286.4 L355.2 286.4 L355.3 286.4 L355.4 286.4 L355.5 286.4 L355.6 286.4 L355.7 286.4 L355.8 286.4 L355.9 286.4 L356 286.4 L356.1 286.4 L356.2 286.4 L356.3 286.4 L356.4 286.4 L356.5 286.4 L356.6 286.4 L356.7 286.4 L356.8 286.4 L356.9 286.4 L357 286.4 L357.1 286.4 L357.2 286.4 L357.3 286.4 L357.4 286.4 L357.5 286.4 L357.6 286.4 L357.7 286.4 L357.8 286.4 L357.9 286.4 L358 286.4 L358.1 286.4 L358.2 286.4 L358.3 286.4 L358.4 286.4 L358.5 286.4 L358.6 286.4 L358.7 286.4 L358.8 286.4 L358.9 286.4 L359 286.4 L359.1 286.4 L359.2 286.4 L359.3 286.4 L359.4 286.4 L359.5 286.4 L359.6 286.4 L359.7 286.4 L359.8 286.4 L359.9 286.4 L360 286.4 L360.1 286.4 L360.2 286.4 L360.3 286.4 L360.4 286.4 L360.5 286.4 L360.6 286.4 L360.7 286.4 L360.8 286.4 L360.9 286.4 L361 286.4 L361.1 286.4 L361.2 286.4 L361.3 286.4 L361.4 286.4 L361.5 286.4 L361.6 286.4 L361.7 286.4 L361.8 286.4 L361.9 286.4 L362 286.4 L362.1 286.4 L362.2 286.4 L362.3 286.4 L362.4 286.4 L362.5 286.4 L362.6 286.4 L362.7 286.4 L362.8 286.4 L362.9 286.4 L363 286.4 L363.1 286.4 L363.2 286.4 L363.3 286.4 L363.4 286.4 L363.5 286.4 L363.6 286.4 L363.7 286.4 L363.8 286.4 L363.9 286.4 L364 286.4 L364.1 286.4 L364.2 286.4 L364.3 286.4 L364.4 286.4 L364.5 286.4 L364.6 286.39 L364.7 286.37 L364.8 286.33 L364.9 286.28 L365 286.22 L365.1 286.15 L365.2 286.08 L365.3 286.02 L365.4 285.95 L365.5 285.88 L365.6 285.82 L365.7 285.77 L365.8 285.73 L365.9 285.71 L366 285.7 L366.1 285.71 L366.2 285.73 L366.3 285.77 L366.4 285.82 L366.5 285.88 L366.6 285.95 L366.7 286.02 L366.8 286.08 L366.9 286.15 L367 286.22 L367.1 286.28 L367.2 286.33 L367.3 286.37 L367.4 286.39 L367.5 286.4 L367.6 286.4 L367.7 286.4 L367.8 286.4 L367.9 286.4 L368 286.4 L368.1 286.4 L368.2 286.4 L368.3 286.4 L368.4 286.4 L368.5 286.4 L368.6 286.4 L368.7 286.4 L368.8 286.4 L368.9 286.4 L369 286.4 L369.1 286.4 L369.2 286.4 L369.3 286.4 L369.4 286.4 L369.5 286.4 L369.6 286.4 L369.7 286.4 L369.8 286.4 L369.9 286.4 L370 286.4 L370.1 286.4 L370.2 286.4 L370.3 286.4 L370.4 286.4 L370.5 286.4 L370.6 286.4 L370.7 286.4 L370.8 286.4 L370.9 286.4 L371 286.4 L371.1 286.4 L371.2 286.4 L371.3 286.4 L371.4 286.4 L371.5 286.4 L371.6 286.4 L371.7 286.4 L371.8 286.4 L371.9 286.4 L372 286.4 L372.1 286.4 L372.2 286.4 L372.3 286.4 L372.4 286.4 L372.5 286.4 L372.6 286.4 L372.7 286.4 L372.8 286.4 L372.9 286.4 L373 286.4 L373.1 286.4 L373.2 286.4 L373.3 286.4 L373.4 286.4 L373.5 286.4 L373.6 286.4 L373.7 286.4 L373.8 286.4 L373.9 286.4 L374 286.4 L374.1 286.4 L374.2 286.4 L374.3 286.4 L374.4 286.4 L374.5 286.4 L374.6 286.4 L374.7 286.4 L374.8 286.4 L374.9 286.4 L375 286.4 L375.1 286.4 L375.2 286.4 L375.3 286.4 L375.4 286.4 L375.5 286.4 L375.6 286.4 L375.7 286.4 L375.8 286.4 L375.9 286.4 L376 286.4 L376.1 286.4 L376.2 286.4 L376.3 286.4 L376.4 286.4 L376.5 286.4 L376.6 286.4 L376.7 286.4 L376.8 286.4 L376.9 286.4 L377 286.4 L377.1 286.4 L377.2 286.4 L377.3 286.4 L377.4 286.4 L377.5 286.4 L377.6 286.4 L377.7 286.4 L377.8 286.4 L377.9 286.4 L378 286.4 L378.1 286.4 L378.2 286.4 L378.3 286.4 L378.4 286.4 L378.5 286.4 L378.6 286.4 L378.7 286.4 L378.8 286.4 L378.9 286.4 L379 286.4 L379.1 286.4 L379.2 286.4 L379.3 286.4 L379.4 286.4 L379.5 286.4 L379.6 286.4 L379.7 286.4 L379.8 286.4 L379.9 286.4 L380 286.4 L380.1 286.4 L380.2 286.4 L380.3 286.4 L380.4 286.4 L380.5 286.4 L380.6 286.4 L380.7 286.4 L380.8 286.4 L380.9 286.4 L381 286.4 L381.1 286.4 L381.2 286.4 L381.3 286.4 L381.4 286.4 L381.5 286.4 L381.6 286.4 L381.7 286.4 L381.8 286.4 L381.9 286.4 L382 286.4 L382.1 286.4 L382.2 286.4 L382.3 286.4 L382.4 286.4 L382.5 286.4 L382.6 286.4 L382.7 286.4 L382.8 286.4 L382.9 286.4 L383 286.4 L383.1 286.4 L383.2 286.4 L383.3 286.4 L383.4 286.4 L383.5 286.4 L383.6 286.4 L383.7 286.4 L383.8 286.4 L383.9 286.4 L384 286.4 L384.1 286.4 L384.2 286.4 L384.3 286.4 L384.4 286.4 L384.5 286.4 L384.6 286.4 L384.7 286.4 L384.8 286.4 L384.9 286.4 L385 286.4 L385.1 286.4 L385.2 286.4 L385.3 286.4 L385.4 286.4 L385.5 286.4 L385.6 286.4 L385.7 286.4 L385.8 286.4 L385.9 286.4 L386 286.4 L386.1 286.4 L386.2 286.4 L386.3 286.4 L386.4 286.4 L386.5 286.4 L386.6 286.4 L386.7 286.4 L386.8 286.4 L386.9 286.4 L387 286.4 L387.1 286.4 L387.2 286.4 L387.3 286.4 L387.4 286.4 L387.5 286.4 L387.6 286.4 L387.7 286.4 L387.8 286.4 L387.9 286.4 L388 286.4 L388.1 286.4 L388.2 286.4 L388.3 286.4 L388.4 286.4 L388.5 286.4 L388.6 286.4 L388.7 286.4 L388.8 286.4 L388.9 286.4 L389 286.4 L389.1 286.4 L389.2 286.4 L389.3 286.4 L389.4 286.4 L389.5 286.4 L389.6 286.4 L389.7 286.4 L389.8 286.4 L389.9 286.4 L390 286.4 L390.1 286.4 L390.2 286.4 L390.3 286.4 L390.4 286.4 L390.5 286.4 L390.6 286.4 L390.7 286.4 L390.8 286.4 L390.9 286.4 L391 286.4 L391.1 286.4 L391.2 286.4 L391.3 286.4 L391.4 286.4 L391.5 286.4 L391.6 286.4 L391.7 286.4 L391.8 286.4 L391.9 286.4 L392 286.4 L392.1 286.4 L392.2 286.4 L392.3 286.4 L392.4 286.4 L392.5 286.4 L392.6 286.4 L392.7 286.4 L392.8 286.4 L392.9 286.4 L393 286.4 L393.1 286.4 L393.2 286.4 L393.3 286.4 L393.4 286.4 L393.5 286.4 L393.6 286.4 L393.7 286.4 L393.8 286.4 L393.9 286.4 L394 286.4 L394.1 286.4 L394.2 286.4 L394.3 286.4 L394.4 286.4 L394.5 286.4 L394.6 286.4 L394.7 286.4 L394.8 286.4 L394.9 286.4 L395 286.4 L395.1 286.4 L395.2 286.4 L395.3 286.4 L395.4 286.4 L395.5 286.4 L395.6 286.4 L395.7 286.4 L395.8 286.4 L395.9 286.4 L396 286.4 L396.1 286.4 L396.2 286.4 L396.3 286.4 L396.4 286.4 L396.5 286.4 L396.6 286.4 L396.7 286.4 L396.8 286.4 L396.9 286.4 L397 286.4 L397.1 286.4 L397.2 286.4 L397.3 286.4 L397.4 286.4 L397.5 286.4 L397.6 286.4 L397.7 286.4 L397.8 286.4 L397.9 286.4 L398 286.4 L398.1 286.4 L398.2 286.4 L398.3 286.4 L398.4 286.4 L398.5 286.4 L398.6 286.4 L398.7 286.4 L398.8 286.4 L398.9 286.4 L399 286.4 L399.1 286.4 L399.2 286.4 L399.3 286.4 L399.4 286.4 L399.5 286.4 L399.6 286.4 L399.7 286.4 L399.8 286.4 L399.9 286.4 L400 286.4 L400.1 286.4 L400.2 286.4 L400.3 286.4 L400.4 286.4 L400.5 286.4 L400.6 286.4 L400.7 286.4 L400.8 286.4 L400.9 286.4 L401 286.4 L401.1 286.4 L401.2 286.4 L401.3 286.4 L401.4 286.4 L401.5 286.4 L401.6 286.4 L401.7 286.4 L401.8 286.4 L401.9 286.4 L402 286.4 L402.1 286.4 L402.2 286.4 L402.3 286.4 L402.4 286.4 L402.5 286.4 L402.6 286.4 L402.7 286.4 L402.8 286.4 L402.9 286.4 L403 286.4 L403.1 286.4 L403.2 286.4 L403.3 286.4 L403.4 286.4 L403.5 286.4 L403.6 286.4 L403.7 286.4 L403.8 286.4 L403.9 286.4 L404 286.4 L404.1 286.4 L404.2 286.4 L404.3 286.4 L404.4 286.4 L404.5 286.4 L404.6 286.4 L404.7 286.4 L404.8 286.4 L404.9 286.4 L405 286.4 L405.1 286.4 L405.2 286.4 L405.3 286.4 L405.4 286.4 L405.5 286.4 L405.6 286.4 L405.7 286.4 L405.8 286.4 L405.9 286.4 L406 286.4 L406.1 286.4 L406.2 286.4 L406.3 286.4 L406.4 286.4 L406.5 286.4 L406.6 286.4 L406.7 286.4 L406.8 286.4 L406.9 286.4 L407 286.4 L407.1 286.4 L407.2 286.4 L407.3 286.4 L407.4 286.4 L407.5 286.4 L407.6 286.4 L407.7 286.4 L407.8 286.4 L407.9 286.4 L408 286.4 L408.1 286.4 L408.2 286.4 L408.3 286.4 L408.4 286.4 L408.5 286.4 L408.6 286.4 L408.7 286.4 L408.8 286.4 L408.9 286.4 L409 286.4 L409.1 286.4 L409.2 286.4 L409.3 286.4 L409.4 286.4 L409.5 286.4 L409.6 286.4 L409.7 286.4 L409.8 286.4 L409.9 286.4 L410 286.4 L410.1 286.4 L410.2 286.4 L410.3 286.4 L410.4 286.4 L410.5 286.4 L410.6 286.4 L410.7 286.4 L410.8 286.4 L410.9 286.4 L411 286.4 L411.1 286.4 L411.2 286.4 L411.3 286.4 L411.4 286.4 L411.5 286.4 L411.6 286.4 L411.7 286.4 L411.8 286.4 L411.9 286.4 L412 286.4 L412.1 286.4 L412.2 286.4 L412.3 286.4 L412.4 286.4 L412.5 286.4 L412.6 286.4 L412.7 286.4 L412.8 286.4 L412.9 286.4 L413 286.4 L413.1 286.4 L413.2 286.4 L413.3 286.4 L413.4 286.4 L413.5 286.4 L413.6 286.4 L413.7 286.4 L413.8 286.4 L413.9 286.4 L414 286.4 L414.1 286.4 L414.2 286.4 L414.3 286.4 L414.4 286.4 L414.5 286.4 L414.6 286.4 L414.7 286.4 L414.8 286.4 L414.9 286.4 L415 286.4 L415.1 286.4 L415.2 286.4 L415.3 286.4 L415.4 286.4 L415.5 286.4 L415.6 286.4 L415.7 286.4 L415.8 286.4 L415.9 286.4 L416 286.4 L416.1 286.4 L416.2 286.4 L416.3 286.4 L416.4 286.4 L416.5 286.4 L416.6 286.4 L416.7 286.4 L416.8 286.4 L416.9 286.4 L417 286.4 L417.1 286.4 L417.2 286.4 L417.3 286.4 L417.4 286.4 L417.5 286.4 L417.6 286.4 L417.7 286.4 L417.8 286.4 L417.9 286.4 L418 286.4 L418.1 286.4 L418.2 286.4 L418.3 286.4 L418.4 286.4 L418.5 286.4 L418.6 286.4 L418.7 286.4 L418.8 286.4 L418.9 286.4 L419 286.4 L419.1 286.4 L419.2 286.4 L419.3 286.4 L419.4 286.4 L419.5 286.4 L419.6 286.4 L419.7 286.4 L419.8 286.4 L419.9 286.4 L420 286.4 L420.1 286.4 L420.2 286.4 L420.3 286.4 L420.4 286.4 L420.5 286.4 L420.6 286.4 L420.7 286.4 L420.8 286.4 L420.9 286.4 L421 286.4 L421.1 286.4 L421.2 286.4 L421.3 286.4 L421.4 286.4 L421.5 286.4 L421.6 286.4 L421.7 286.4 L421.8 286.4 L421.9 286.4 L422 286.4 L422.1 286.4 L422.2 286.4 L422.3 286.4 L422.4 286.4 L422.5 286.4 L422.6 286.4 L422.7 286.4 L422.8 286.4 L422.9 286.4 L423 286.4 L423.1 286.4 L423.2 286.4 L423.3 286.4 L423.4 286.4 L423.5 286.4 L423.6 286.4 L423.7 286.4 L423.8 286.4 L423.9 286.4 L424 286.4 L424.1 286.4 L424.2 286.4 L424.3 286.4 L424.4 286.4 L424.5 286.4 L424.6 286.4 L424.7 286.4 L424.8 286.4 L424.9 286.4 L425 286.4 L425.1 286.4 L425.2 286.4 L425.3 286.4 L425.4 286.4 L425.5 286.4 L425.6 286.4 L425.7 286.4 L425.8 286.4 L425.9 286.4 L426 286.4 L426.1 286.4 L426.2 286.4 L426.3 286.4 L426.4 286.4 L426.5 286.4 L426.6 286.4 L426.7 286.4 L426.8 286.4 L426.9 286.4 L427 286.4 L427.1 286.4 L427.2 286.4 L427.3 286.4 L427.4 286.4 L427.5 286.4 L427.6 286.4 L427.7 286.4 L427.8 286.4 L427.9 286.4 L428 286.4 L428.1 286.4 L428.2 286.4 L428.3 286.4 L428.4 286.4 L428.5 286.4 L428.6 286.4 L428.7 286.4 L428.8 286.4 L428.9 286.4 L429 286.4 L429.1 286.4 L429.2 286.4 L429.3 286.4 L429.4 286.4 L429.5 286.4 L429.6 286.4 L429.7 286.4 L429.8 286.4 L429.9 286.4 L430 286.4 L430.1 286.4 L430.2 286.4 L430.3 286.4 L430.4 286.4 L430.5 286.4 L430.6 286.4 L430.7 286.4 L430.8 286.4 L430.9 286.4 L431 286.4 L431.1 286.4 L431.2 286.4 L431.3 286.4 L431.4 286.4 L431.5 286.4 L431.6 286.4 L431.7 286.4 L431.8 286.4 L431.9 286.4 L432 286.4 L432.1 286.4 L432.2 286.4 L432.3 286.4 L432.4 286.4 L432.5 286.4 L432.6 286.4 L432.7 286.4 L432.8 286.4 L432.9 286.4 L433 286.4 L433.1 286.4 L433.2 286.4 L433.3 286.4 L433.4 286.4 L433.5 286.4 L433.6 286.4 L433.7 286.4 L433.8 286.4 L433.9 286.4 L434 286.4 L434.1 286.4 L434.2 286.4 L434.3 286.4 L434.4 286.4 L434.5 286.4 L434.6 286.4 L434.7 286.4 L434.8 286.4 L434.9 286.4 L435 286.4 L435.1 286.4 L435.2 286.4 L435.3 286.4 L435.4 286.4 L435.5 286.4 L435.6 286.4 L435.7 286.4 L435.8 286.4 L435.9 286.4 L436 286.4 L436.1 286.4 L436.2 286.4 L436.3 286.4 L436.4 286.4 L436.5 286.4 L436.6 286.4 L436.7 286.4 L436.8 286.4 L436.9 286.4 L437 286.4 L437.1 286.4 L437.2 286.4 L437.3 286.4 L437.4 286.4 L437.5 286.4 L437.6 286.4 L437.7 286.4 L437.8 286.4 L437.9 286.4 L438 286.4 L438.1 286.4 L438.2 286.4 L438.3 286.4 L438.4 286.4 L438.5 286.4 L438.6 286.4 L438.7 286.4 L438.8 286.4 L438.9 286.4 L439 286.4 L439.1 286.4 L439.2 286.4 L439.3 286.4 L439.4 286.4 L439.5 286.4 L439.6 286.4 L439.7 286.4 L439.8 286.4 L439.9 286.4 L440 286.4 L440.1 286.4 L440.2 286.4 L440.3 286.4 L440.4 286.4 L440.5 286.4 L440.6 286.4 L440.7 286.4 L440.8 286.4 L440.9 286.4 L441 286.4 L441.1 286.4 L441.2 286.4 L441.3 286.4 L441.4 286.4 L441.5 286.4 L441.6 286.4 L441.7 286.4 L441.8 286.4 L441.9 286.4 L442 286.4 L442.1 286.4 L442.2 286.4 L442.3 286.4 L442.4 286.4 L442.5 286.4 L442.6 286.4 L442.7 286.4 L442.8 286.4 L442.9 286.4 L443 286.4 L443.1 286.4 L443.2 286.4 L443.3 286.4 L443.4 286.4 L443.5 286.4 L443.6 286.4 L443.7 286.4 L443.8 286.4 L443.9 286.4 L444 286.4 L444.1 286.4 L444.2 286.4 L444.3 286.4 L444.4 286.4 L444.5 286.4 L444.6 286.4 L444.7 286.4 L444.8 286.4 L444.9 286.4 L445 286.4 L445.1 286.4 L445.2 286.4 L445.3 286.4 L445.4 286.4 L445.5 286.4 L445.6 286.4 L445.7 286.4 L445.8 286.4 L445.9 286.4 L446 286.4 L446.1 286.4 L446.2 286.4 L446.3 286.4 L446.4 286.4 L446.5 286.4 L446.6 286.4 L446.7 286.4 L446.8 286.4 L446.9 286.4 L447 286.4 L447.1 286.4 L447.2 286.4 L447.3 286.4 L447.4 286.4 L447.5 286.4 L447.6 286.4 L447.7 286.4 L447.8 286.4 L447.9 286.4 L448 286.4 L448 286.4" fill="none" stroke="#0000ff" stroke-width="3.0" stroke-linejoin="bevel"/>
</g>
<text x="37.5" y="306.7" font-size="11.9" text-anchor="middle">0</text>
<text x="85.29" y="306.7" font-size="11.9" text-anchor="middle">20</text>
<text x="133.08" y="306.7" font-size="11.9" text-anchor="middle">40</text>
<text x="180.86" y="306.7" font-size="11.9" text-anchor="middle">60</text>
<text x="228.65" y="306.7" font-size="11.9" text-anchor="middle">80</text>
<text x="244.8" y="306.7" font-size="11.9" text-anchor="middle">0</text>
<text x="292.61" y="306.7" font-size="11.9" text-anchor="middle">20</text>
<text x="340.42" y="306.7" font-size="11.9" text-anchor="middle">40</text>
<text x="388.24" y="306.7" font-size="11.9" text-anchor="middle">60</text>
<text x="436.05" y="306.7" font-size="11.9" text-anchor="middle">80</text>
<text x="44.6" y="61.8" font-size="17.2" letter-spacing="-0.3">a)</text>
<text x="250.2" y="61.8" font-size="17.2" letter-spacing="-0.3">b)</text>
<text x="233.6" y="59.1" font-size="13.7" text-anchor="end">experiment</text>
<text x="441.6" y="57.1" font-size="13.9" text-anchor="end">theory</text>
<text x="233.4" y="71.1" font-size="10.5" text-anchor="end"><tspan font-family="Liberation Serif, serif" font-size="9.8">&#916;</tspan>t = 54 fs</text>
<text x="233.4" y="139.1" font-size="10.5" text-anchor="end"><tspan font-family="Liberation Serif, serif" font-size="9.8">&#916;</tspan>t = 29 fs</text>
<text x="233.4" y="221.6" font-size="10.5" text-anchor="end"><tspan font-family="Liberation Serif, serif" font-size="9.8">&#916;</tspan>t = 4 fs</text>
<text x="441.4" y="71.1" font-size="10.5" text-anchor="end"><tspan font-family="Liberation Serif, serif" font-size="9.8">&#916;</tspan>t = 54 fs</text>
<text x="441.4" y="139.1" font-size="10.5" text-anchor="end"><tspan font-family="Liberation Serif, serif" font-size="9.8">&#916;</tspan>t = 29 fs</text>
<text x="441.4" y="221.6" font-size="10.5" text-anchor="end"><tspan font-family="Liberation Serif, serif" font-size="9.8">&#916;</tspan>t = 4 fs</text>
<text x="236.3" y="329.3" font-size="17" text-anchor="middle">Kinetic Energy Release (eV)</text>
<text transform="translate(27.4 168.7) rotate(-90)" font-size="17.0" text-anchor="middle">Norm Intensity (a.u.)</text>
</svg>
</body></html>
